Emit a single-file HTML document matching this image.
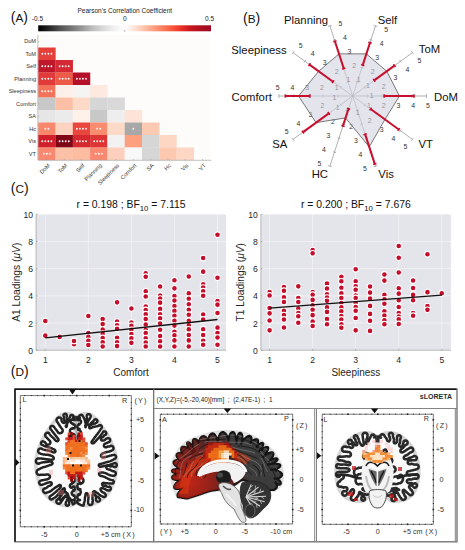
<!DOCTYPE html>
<html><head><meta charset="utf-8"><style>
html,body{margin:0;padding:0;background:#fff;}
body{width:465px;height:550px;overflow:hidden;}
svg{display:block;font-family:"Liberation Sans", sans-serif;}
</style></head><body>
<svg width="465" height="550" viewBox="0 0 465 550">
<rect width="465" height="550" fill="#fff"/>
<text x="10.8" y="22.3" font-size="14" fill="#111">(<tspan font-size="11.8">A</tspan>)</text>
<defs><linearGradient id="cb" x1="0" x2="1" y1="0" y2="0"><stop offset="0" stop-color="#000"/><stop offset="0.0625" stop-color="#252525"/><stop offset="0.125" stop-color="#525252"/><stop offset="0.1875" stop-color="#737373"/><stop offset="0.25" stop-color="#969696"/><stop offset="0.3125" stop-color="#bdbdbd"/><stop offset="0.375" stop-color="#d9d9d9"/><stop offset="0.4375" stop-color="#f0f0f0"/><stop offset="0.5" stop-color="#ffffff"/><stop offset="0.5625" stop-color="#fee0d2"/><stop offset="0.625" stop-color="#fcbba1"/><stop offset="0.6875" stop-color="#fc9272"/><stop offset="0.75" stop-color="#fb6a4a"/><stop offset="0.8125" stop-color="#ef3b2c"/><stop offset="0.875" stop-color="#cb181d"/><stop offset="0.9375" stop-color="#b01020"/><stop offset="1" stop-color="#9a0a22"/></linearGradient></defs>
<rect x="38.2" y="25.3" width="172.8" height="6.0" fill="url(#cb)"/>
<text x="124.8" y="13.3" font-size="6.5" text-anchor="middle" fill="#222">Pearson's Correlation Coefficient</text>
<text x="37.4" y="20.6" font-size="6.5" text-anchor="middle" fill="#222">-0.5</text>
<text x="124.8" y="20.6" font-size="6.5" text-anchor="middle" fill="#222">0</text>
<text x="209.5" y="20.6" font-size="6.5" text-anchor="middle" fill="#222">0.5</text>
<line x1="124.8" y1="31.6" x2="124.8" y2="30" stroke="#444" stroke-width="0.5"/>
<rect x="38.2" y="35.0" width="173.00" height="125.00" fill="#fefcfa"/>
<rect x="38.20" y="47.50" width="17.45" height="12.65" fill="#e5403a"/>
<rect x="38.20" y="60.00" width="17.45" height="12.65" fill="#bf172c"/>
<rect x="55.50" y="60.00" width="17.45" height="12.65" fill="#d52a35"/>
<rect x="38.20" y="72.50" width="17.45" height="12.65" fill="#e03a3a"/>
<rect x="55.50" y="72.50" width="17.45" height="12.65" fill="#ee5a48"/>
<rect x="72.80" y="72.50" width="17.45" height="12.65" fill="#b5102a"/>
<rect x="38.20" y="85.00" width="17.45" height="12.65" fill="#f3725a"/>
<rect x="55.50" y="85.00" width="17.45" height="12.65" fill="#fdf0ea"/>
<rect x="72.80" y="85.00" width="17.45" height="12.65" fill="#f6f3f3"/>
<rect x="90.10" y="85.00" width="17.45" height="12.65" fill="#fde9e0"/>
<rect x="38.20" y="97.50" width="17.45" height="12.65" fill="#c8c8c8"/>
<rect x="55.50" y="97.50" width="17.45" height="12.65" fill="#fcbfa6"/>
<rect x="72.80" y="97.50" width="17.45" height="12.65" fill="#fdd9c8"/>
<rect x="90.10" y="97.50" width="17.45" height="12.65" fill="#d6d6d6"/>
<rect x="107.40" y="97.50" width="17.45" height="12.65" fill="#d9d9d9"/>
<rect x="38.20" y="110.00" width="17.45" height="12.65" fill="#e6e6e6"/>
<rect x="55.50" y="110.00" width="17.45" height="12.65" fill="#ebebeb"/>
<rect x="72.80" y="110.00" width="17.45" height="12.65" fill="#fdf1ea"/>
<rect x="90.10" y="110.00" width="17.45" height="12.65" fill="#c8c8c8"/>
<rect x="107.40" y="110.00" width="17.45" height="12.65" fill="#eeeeee"/>
<rect x="124.70" y="110.00" width="17.45" height="12.65" fill="#fde3d8"/>
<rect x="38.20" y="122.50" width="17.45" height="12.65" fill="#f8876c"/>
<rect x="55.50" y="122.50" width="17.45" height="12.65" fill="#fdd2c0"/>
<rect x="72.80" y="122.50" width="17.45" height="12.65" fill="#e9473d"/>
<rect x="90.10" y="122.50" width="17.45" height="12.65" fill="#f98b6f"/>
<rect x="107.40" y="122.50" width="17.45" height="12.65" fill="#fdd9c8"/>
<rect x="124.70" y="122.50" width="17.45" height="12.65" fill="#a8a8a8"/>
<rect x="142.00" y="122.50" width="17.45" height="12.65" fill="#fcc9b2"/>
<rect x="38.20" y="135.00" width="17.45" height="12.65" fill="#d0202c"/>
<rect x="55.50" y="135.00" width="17.45" height="12.65" fill="#7f0616"/>
<rect x="72.80" y="135.00" width="17.45" height="12.65" fill="#d42a2f"/>
<rect x="90.10" y="135.00" width="17.45" height="12.65" fill="#dd3535"/>
<rect x="107.40" y="135.00" width="17.45" height="12.65" fill="#f2f2f2"/>
<rect x="124.70" y="135.00" width="17.45" height="12.65" fill="#fca080"/>
<rect x="142.00" y="135.00" width="17.45" height="12.65" fill="#d6d6d6"/>
<rect x="159.30" y="135.00" width="17.45" height="12.65" fill="#fdd6c4"/>
<rect x="38.20" y="147.50" width="17.45" height="12.65" fill="#f98870"/>
<rect x="55.50" y="147.50" width="17.45" height="12.65" fill="#fcc0a6"/>
<rect x="72.80" y="147.50" width="17.45" height="12.65" fill="#fcbca2"/>
<rect x="90.10" y="147.50" width="17.45" height="12.65" fill="#f98870"/>
<rect x="107.40" y="147.50" width="17.45" height="12.65" fill="#fcd0bc"/>
<rect x="124.70" y="147.50" width="17.45" height="12.65" fill="#f8f8f8"/>
<rect x="142.00" y="147.50" width="17.45" height="12.65" fill="#d6d6d6"/>
<rect x="159.30" y="147.50" width="17.45" height="12.65" fill="#fcc8b0"/>
<rect x="176.60" y="147.50" width="17.45" height="12.65" fill="#fdd6c4"/>
<circle cx="42.28" cy="53.75" r="0.9" fill="#fff"/>
<circle cx="45.33" cy="53.75" r="0.9" fill="#fff"/>
<circle cx="48.38" cy="53.75" r="0.9" fill="#fff"/>
<circle cx="51.42" cy="53.75" r="0.9" fill="#fff"/>
<circle cx="42.28" cy="66.25" r="0.9" fill="#fff"/>
<circle cx="45.33" cy="66.25" r="0.9" fill="#fff"/>
<circle cx="48.38" cy="66.25" r="0.9" fill="#fff"/>
<circle cx="51.42" cy="66.25" r="0.9" fill="#fff"/>
<circle cx="59.58" cy="66.25" r="0.9" fill="#fff"/>
<circle cx="62.63" cy="66.25" r="0.9" fill="#fff"/>
<circle cx="65.68" cy="66.25" r="0.9" fill="#fff"/>
<circle cx="68.73" cy="66.25" r="0.9" fill="#fff"/>
<circle cx="42.28" cy="78.75" r="0.9" fill="#fff"/>
<circle cx="45.33" cy="78.75" r="0.9" fill="#fff"/>
<circle cx="48.38" cy="78.75" r="0.9" fill="#fff"/>
<circle cx="51.42" cy="78.75" r="0.9" fill="#fff"/>
<circle cx="59.58" cy="78.75" r="0.9" fill="#fff"/>
<circle cx="62.63" cy="78.75" r="0.9" fill="#fff"/>
<circle cx="65.68" cy="78.75" r="0.9" fill="#fff"/>
<circle cx="68.73" cy="78.75" r="0.9" fill="#fff"/>
<circle cx="76.88" cy="78.75" r="0.9" fill="#fff"/>
<circle cx="79.92" cy="78.75" r="0.9" fill="#fff"/>
<circle cx="82.98" cy="78.75" r="0.9" fill="#fff"/>
<circle cx="86.03" cy="78.75" r="0.9" fill="#fff"/>
<circle cx="42.28" cy="91.25" r="0.9" fill="#fff"/>
<circle cx="45.33" cy="91.25" r="0.9" fill="#fff"/>
<circle cx="48.38" cy="91.25" r="0.9" fill="#fff"/>
<circle cx="51.42" cy="91.25" r="0.9" fill="#fff"/>
<circle cx="45.33" cy="128.75" r="0.9" fill="#fff"/>
<circle cx="48.38" cy="128.75" r="0.9" fill="#fff"/>
<circle cx="76.88" cy="128.75" r="0.9" fill="#fff"/>
<circle cx="79.92" cy="128.75" r="0.9" fill="#fff"/>
<circle cx="82.98" cy="128.75" r="0.9" fill="#fff"/>
<circle cx="86.03" cy="128.75" r="0.9" fill="#fff"/>
<circle cx="97.22" cy="128.75" r="0.9" fill="#fff"/>
<circle cx="100.28" cy="128.75" r="0.9" fill="#fff"/>
<circle cx="133.35" cy="128.75" r="0.9" fill="#fff"/>
<circle cx="42.28" cy="141.25" r="0.9" fill="#fff"/>
<circle cx="45.33" cy="141.25" r="0.9" fill="#fff"/>
<circle cx="48.38" cy="141.25" r="0.9" fill="#fff"/>
<circle cx="51.42" cy="141.25" r="0.9" fill="#fff"/>
<circle cx="59.58" cy="141.25" r="0.9" fill="#fff"/>
<circle cx="62.63" cy="141.25" r="0.9" fill="#fff"/>
<circle cx="65.68" cy="141.25" r="0.9" fill="#fff"/>
<circle cx="68.73" cy="141.25" r="0.9" fill="#fff"/>
<circle cx="76.88" cy="141.25" r="0.9" fill="#fff"/>
<circle cx="79.92" cy="141.25" r="0.9" fill="#fff"/>
<circle cx="82.98" cy="141.25" r="0.9" fill="#fff"/>
<circle cx="86.03" cy="141.25" r="0.9" fill="#fff"/>
<circle cx="94.17" cy="141.25" r="0.9" fill="#fff"/>
<circle cx="97.22" cy="141.25" r="0.9" fill="#fff"/>
<circle cx="100.28" cy="141.25" r="0.9" fill="#fff"/>
<circle cx="103.33" cy="141.25" r="0.9" fill="#fff"/>
<circle cx="43.80" cy="153.75" r="0.9" fill="#fff"/>
<circle cx="46.85" cy="153.75" r="0.9" fill="#fff"/>
<circle cx="49.90" cy="153.75" r="0.9" fill="#fff"/>
<circle cx="95.70" cy="153.75" r="0.9" fill="#fff"/>
<circle cx="98.75" cy="153.75" r="0.9" fill="#fff"/>
<circle cx="101.80" cy="153.75" r="0.9" fill="#fff"/>
<line x1="37.800000000000004" y1="35.0" x2="37.800000000000004" y2="160.0" stroke="#999" stroke-width="0.6"/>
<line x1="38.2" y1="160.3" x2="211.2" y2="160.3" stroke="#999" stroke-width="0.6"/>
<text x="36" y="43.25" font-size="5.6" text-anchor="end" fill="#333">DoM</text>
<line x1="37.800000000000004" y1="41.25" x2="39.2" y2="41.25" stroke="#999" stroke-width="0.5"/>
<text x="36" y="55.75" font-size="5.6" text-anchor="end" fill="#333">ToM</text>
<line x1="37.800000000000004" y1="53.75" x2="39.2" y2="53.75" stroke="#999" stroke-width="0.5"/>
<text x="36" y="68.25" font-size="5.6" text-anchor="end" fill="#333">Self</text>
<line x1="37.800000000000004" y1="66.25" x2="39.2" y2="66.25" stroke="#999" stroke-width="0.5"/>
<text x="36" y="80.75" font-size="5.6" text-anchor="end" fill="#333">Planning</text>
<line x1="37.800000000000004" y1="78.75" x2="39.2" y2="78.75" stroke="#999" stroke-width="0.5"/>
<text x="36" y="93.25" font-size="5.6" text-anchor="end" fill="#333">Sleepiness</text>
<line x1="37.800000000000004" y1="91.25" x2="39.2" y2="91.25" stroke="#999" stroke-width="0.5"/>
<text x="36" y="105.75" font-size="5.6" text-anchor="end" fill="#333">Comfort</text>
<line x1="37.800000000000004" y1="103.75" x2="39.2" y2="103.75" stroke="#999" stroke-width="0.5"/>
<text x="36" y="118.25" font-size="5.6" text-anchor="end" fill="#333">SA</text>
<line x1="37.800000000000004" y1="116.25" x2="39.2" y2="116.25" stroke="#999" stroke-width="0.5"/>
<text x="36" y="130.75" font-size="5.6" text-anchor="end" fill="#333">Hc</text>
<line x1="37.800000000000004" y1="128.75" x2="39.2" y2="128.75" stroke="#999" stroke-width="0.5"/>
<text x="36" y="143.25" font-size="5.6" text-anchor="end" fill="#333">Vis</text>
<line x1="37.800000000000004" y1="141.25" x2="39.2" y2="141.25" stroke="#999" stroke-width="0.5"/>
<text x="36" y="155.75" font-size="5.6" text-anchor="end" fill="#333">VT</text>
<line x1="37.800000000000004" y1="153.75" x2="39.2" y2="153.75" stroke="#999" stroke-width="0.5"/>
<line x1="46.85" y1="159.0" x2="46.85" y2="160.3" stroke="#999" stroke-width="0.5"/>
<text transform="translate(50.35,165.90) rotate(-45)" font-size="5.6" text-anchor="end" fill="#333">DoM</text>
<line x1="64.15" y1="159.0" x2="64.15" y2="160.3" stroke="#999" stroke-width="0.5"/>
<text transform="translate(67.65,165.90) rotate(-45)" font-size="5.6" text-anchor="end" fill="#333">ToM</text>
<line x1="81.45" y1="159.0" x2="81.45" y2="160.3" stroke="#999" stroke-width="0.5"/>
<text transform="translate(84.95,165.90) rotate(-45)" font-size="5.6" text-anchor="end" fill="#333">Self</text>
<line x1="98.75" y1="159.0" x2="98.75" y2="160.3" stroke="#999" stroke-width="0.5"/>
<text transform="translate(102.25,165.90) rotate(-45)" font-size="5.6" text-anchor="end" fill="#333">Planning</text>
<line x1="116.05" y1="159.0" x2="116.05" y2="160.3" stroke="#999" stroke-width="0.5"/>
<text transform="translate(119.55,165.90) rotate(-45)" font-size="5.6" text-anchor="end" fill="#333">Sleepiness</text>
<line x1="133.35" y1="159.0" x2="133.35" y2="160.3" stroke="#999" stroke-width="0.5"/>
<text transform="translate(136.85,165.90) rotate(-45)" font-size="5.6" text-anchor="end" fill="#333">Comfort</text>
<line x1="150.65" y1="159.0" x2="150.65" y2="160.3" stroke="#999" stroke-width="0.5"/>
<text transform="translate(154.15,165.90) rotate(-45)" font-size="5.6" text-anchor="end" fill="#333">SA</text>
<line x1="167.95" y1="159.0" x2="167.95" y2="160.3" stroke="#999" stroke-width="0.5"/>
<text transform="translate(171.45,165.90) rotate(-45)" font-size="5.6" text-anchor="end" fill="#333">Hc</text>
<line x1="185.25" y1="159.0" x2="185.25" y2="160.3" stroke="#999" stroke-width="0.5"/>
<text transform="translate(188.75,165.90) rotate(-45)" font-size="5.6" text-anchor="end" fill="#333">Vis</text>
<line x1="202.55" y1="159.0" x2="202.55" y2="160.3" stroke="#999" stroke-width="0.5"/>
<text transform="translate(206.05,165.90) rotate(-45)" font-size="5.6" text-anchor="end" fill="#333">VT</text>
<text x="243.0" y="22.6" font-size="14" fill="#111">(<tspan font-size="11.8">B</tspan>)</text>
<line x1="352.7" y1="96.0" x2="426.50" y2="96.00" stroke="#9a9a9a" stroke-width="0.8"/>
<line x1="367.46" y1="94.40" x2="367.46" y2="97.60" stroke="#9a9a9a" stroke-width="0.7"/>
<text x="368.96" y="107.90" font-size="6.9" text-anchor="middle" fill="#333">1</text>
<line x1="382.22" y1="94.40" x2="382.22" y2="97.60" stroke="#9a9a9a" stroke-width="0.7"/>
<text x="383.72" y="107.90" font-size="6.9" text-anchor="middle" fill="#333">2</text>
<line x1="396.98" y1="94.40" x2="396.98" y2="97.60" stroke="#9a9a9a" stroke-width="0.7"/>
<text x="398.48" y="107.90" font-size="6.9" text-anchor="middle" fill="#333">3</text>
<line x1="411.74" y1="94.40" x2="411.74" y2="97.60" stroke="#9a9a9a" stroke-width="0.7"/>
<text x="413.24" y="107.90" font-size="6.9" text-anchor="middle" fill="#333">4</text>
<line x1="426.50" y1="94.00" x2="426.50" y2="98.00" stroke="#9a9a9a" stroke-width="0.7"/>
<text x="428.00" y="107.90" font-size="6.9" text-anchor="middle" fill="#333">5</text>
<line x1="352.7" y1="96.0" x2="412.41" y2="52.62" stroke="#9a9a9a" stroke-width="0.8"/>
<line x1="363.70" y1="86.03" x2="365.58" y2="88.62" stroke="#9a9a9a" stroke-width="0.7"/>
<text x="371.65" y="97.84" font-size="6.9" text-anchor="middle" fill="#333">1</text>
<line x1="375.64" y1="77.35" x2="377.52" y2="79.94" stroke="#9a9a9a" stroke-width="0.7"/>
<text x="383.59" y="89.16" font-size="6.9" text-anchor="middle" fill="#333">2</text>
<line x1="387.58" y1="68.68" x2="389.46" y2="71.27" stroke="#9a9a9a" stroke-width="0.7"/>
<text x="395.53" y="80.48" font-size="6.9" text-anchor="middle" fill="#333">3</text>
<line x1="399.52" y1="60.00" x2="401.40" y2="62.59" stroke="#9a9a9a" stroke-width="0.7"/>
<text x="407.47" y="71.81" font-size="6.9" text-anchor="middle" fill="#333">4</text>
<line x1="411.23" y1="51.00" x2="413.58" y2="54.24" stroke="#9a9a9a" stroke-width="0.7"/>
<text x="419.41" y="63.13" font-size="6.9" text-anchor="middle" fill="#333">5</text>
<line x1="352.7" y1="96.0" x2="375.51" y2="25.81" stroke="#9a9a9a" stroke-width="0.8"/>
<line x1="355.74" y1="81.47" x2="358.78" y2="82.46" stroke="#9a9a9a" stroke-width="0.7"/>
<text x="368.02" y="87.92" font-size="6.9" text-anchor="middle" fill="#333">1</text>
<line x1="360.30" y1="67.43" x2="363.34" y2="68.42" stroke="#9a9a9a" stroke-width="0.7"/>
<text x="372.58" y="73.88" font-size="6.9" text-anchor="middle" fill="#333">2</text>
<line x1="364.86" y1="53.39" x2="367.90" y2="54.38" stroke="#9a9a9a" stroke-width="0.7"/>
<text x="377.14" y="59.84" font-size="6.9" text-anchor="middle" fill="#333">3</text>
<line x1="369.42" y1="39.36" x2="372.47" y2="40.34" stroke="#9a9a9a" stroke-width="0.7"/>
<text x="381.70" y="45.80" font-size="6.9" text-anchor="middle" fill="#333">4</text>
<line x1="373.60" y1="25.19" x2="377.41" y2="26.43" stroke="#9a9a9a" stroke-width="0.7"/>
<text x="386.26" y="31.77" font-size="6.9" text-anchor="middle" fill="#333">5</text>
<line x1="352.7" y1="96.0" x2="329.89" y2="25.81" stroke="#9a9a9a" stroke-width="0.8"/>
<line x1="346.62" y1="82.46" x2="349.66" y2="81.47" stroke="#9a9a9a" stroke-width="0.7"/>
<text x="358.66" y="82.22" font-size="6.9" text-anchor="middle" fill="#333">1</text>
<line x1="342.06" y1="68.42" x2="345.10" y2="67.43" stroke="#9a9a9a" stroke-width="0.7"/>
<text x="354.10" y="68.18" font-size="6.9" text-anchor="middle" fill="#333">2</text>
<line x1="337.50" y1="54.38" x2="340.54" y2="53.39" stroke="#9a9a9a" stroke-width="0.7"/>
<text x="349.54" y="54.15" font-size="6.9" text-anchor="middle" fill="#333">3</text>
<line x1="332.93" y1="40.34" x2="335.98" y2="39.36" stroke="#9a9a9a" stroke-width="0.7"/>
<text x="344.98" y="40.11" font-size="6.9" text-anchor="middle" fill="#333">4</text>
<line x1="327.99" y1="26.43" x2="331.80" y2="25.19" stroke="#9a9a9a" stroke-width="0.7"/>
<text x="340.42" y="26.07" font-size="6.9" text-anchor="middle" fill="#333">5</text>
<line x1="352.7" y1="96.0" x2="292.99" y2="52.62" stroke="#9a9a9a" stroke-width="0.8"/>
<line x1="339.82" y1="88.62" x2="341.70" y2="86.03" stroke="#9a9a9a" stroke-width="0.7"/>
<text x="348.50" y="82.35" font-size="6.9" text-anchor="middle" fill="#333">1</text>
<line x1="327.88" y1="79.94" x2="329.76" y2="77.35" stroke="#9a9a9a" stroke-width="0.7"/>
<text x="336.56" y="73.67" font-size="6.9" text-anchor="middle" fill="#333">2</text>
<line x1="315.94" y1="71.27" x2="317.82" y2="68.68" stroke="#9a9a9a" stroke-width="0.7"/>
<text x="324.62" y="65.00" font-size="6.9" text-anchor="middle" fill="#333">3</text>
<line x1="304.00" y1="62.59" x2="305.88" y2="60.00" stroke="#9a9a9a" stroke-width="0.7"/>
<text x="312.68" y="56.32" font-size="6.9" text-anchor="middle" fill="#333">4</text>
<line x1="291.82" y1="54.24" x2="294.17" y2="51.00" stroke="#9a9a9a" stroke-width="0.7"/>
<text x="300.74" y="47.65" font-size="6.9" text-anchor="middle" fill="#333">5</text>
<line x1="352.7" y1="96.0" x2="278.90" y2="96.00" stroke="#9a9a9a" stroke-width="0.8"/>
<line x1="337.94" y1="97.60" x2="337.94" y2="94.40" stroke="#9a9a9a" stroke-width="0.7"/>
<text x="336.68" y="89.80" font-size="6.9" text-anchor="middle" fill="#333">1</text>
<line x1="323.18" y1="97.60" x2="323.18" y2="94.40" stroke="#9a9a9a" stroke-width="0.7"/>
<text x="321.92" y="89.80" font-size="6.9" text-anchor="middle" fill="#333">2</text>
<line x1="308.42" y1="97.60" x2="308.42" y2="94.40" stroke="#9a9a9a" stroke-width="0.7"/>
<text x="307.16" y="89.80" font-size="6.9" text-anchor="middle" fill="#333">3</text>
<line x1="293.66" y1="97.60" x2="293.66" y2="94.40" stroke="#9a9a9a" stroke-width="0.7"/>
<text x="292.40" y="89.80" font-size="6.9" text-anchor="middle" fill="#333">4</text>
<line x1="278.90" y1="98.00" x2="278.90" y2="94.00" stroke="#9a9a9a" stroke-width="0.7"/>
<text x="277.64" y="89.80" font-size="6.9" text-anchor="middle" fill="#333">5</text>
<line x1="352.7" y1="96.0" x2="292.99" y2="139.38" stroke="#9a9a9a" stroke-width="0.8"/>
<line x1="341.70" y1="105.97" x2="339.82" y2="103.38" stroke="#9a9a9a" stroke-width="0.7"/>
<text x="334.31" y="99.77" font-size="6.9" text-anchor="middle" fill="#333">1</text>
<line x1="329.76" y1="114.65" x2="327.88" y2="112.06" stroke="#9a9a9a" stroke-width="0.7"/>
<text x="322.37" y="108.44" font-size="6.9" text-anchor="middle" fill="#333">2</text>
<line x1="317.82" y1="123.32" x2="315.94" y2="120.73" stroke="#9a9a9a" stroke-width="0.7"/>
<text x="310.43" y="117.12" font-size="6.9" text-anchor="middle" fill="#333">3</text>
<line x1="305.88" y1="132.00" x2="304.00" y2="129.41" stroke="#9a9a9a" stroke-width="0.7"/>
<text x="298.49" y="125.80" font-size="6.9" text-anchor="middle" fill="#333">4</text>
<line x1="294.17" y1="141.00" x2="291.82" y2="137.76" stroke="#9a9a9a" stroke-width="0.7"/>
<text x="286.55" y="134.47" font-size="6.9" text-anchor="middle" fill="#333">5</text>
<line x1="352.7" y1="96.0" x2="329.89" y2="166.19" stroke="#9a9a9a" stroke-width="0.8"/>
<line x1="349.66" y1="110.53" x2="346.62" y2="109.54" stroke="#9a9a9a" stroke-width="0.7"/>
<text x="337.57" y="109.78" font-size="6.9" text-anchor="middle" fill="#333">1</text>
<line x1="345.10" y1="124.57" x2="342.06" y2="123.58" stroke="#9a9a9a" stroke-width="0.7"/>
<text x="333.01" y="123.82" font-size="6.9" text-anchor="middle" fill="#333">2</text>
<line x1="340.54" y1="138.61" x2="337.50" y2="137.62" stroke="#9a9a9a" stroke-width="0.7"/>
<text x="328.45" y="137.85" font-size="6.9" text-anchor="middle" fill="#333">3</text>
<line x1="335.98" y1="152.64" x2="332.93" y2="151.66" stroke="#9a9a9a" stroke-width="0.7"/>
<text x="323.89" y="151.89" font-size="6.9" text-anchor="middle" fill="#333">4</text>
<line x1="331.80" y1="166.81" x2="327.99" y2="165.57" stroke="#9a9a9a" stroke-width="0.7"/>
<text x="319.33" y="165.93" font-size="6.9" text-anchor="middle" fill="#333">5</text>
<line x1="352.7" y1="96.0" x2="375.51" y2="166.19" stroke="#9a9a9a" stroke-width="0.8"/>
<line x1="358.78" y1="109.54" x2="355.74" y2="110.53" stroke="#9a9a9a" stroke-width="0.7"/>
<text x="346.72" y="114.88" font-size="6.9" text-anchor="middle" fill="#333">1</text>
<line x1="363.34" y1="123.58" x2="360.30" y2="124.57" stroke="#9a9a9a" stroke-width="0.7"/>
<text x="351.28" y="128.92" font-size="6.9" text-anchor="middle" fill="#333">2</text>
<line x1="367.90" y1="137.62" x2="364.86" y2="138.61" stroke="#9a9a9a" stroke-width="0.7"/>
<text x="355.84" y="142.96" font-size="6.9" text-anchor="middle" fill="#333">3</text>
<line x1="372.47" y1="151.66" x2="369.42" y2="152.64" stroke="#9a9a9a" stroke-width="0.7"/>
<text x="360.40" y="156.99" font-size="6.9" text-anchor="middle" fill="#333">4</text>
<line x1="377.41" y1="165.57" x2="373.60" y2="166.81" stroke="#9a9a9a" stroke-width="0.7"/>
<text x="364.96" y="171.03" font-size="6.9" text-anchor="middle" fill="#333">5</text>
<line x1="352.7" y1="96.0" x2="412.41" y2="139.38" stroke="#9a9a9a" stroke-width="0.8"/>
<line x1="365.58" y1="103.38" x2="363.70" y2="105.97" stroke="#9a9a9a" stroke-width="0.7"/>
<text x="357.68" y="114.58" font-size="6.9" text-anchor="middle" fill="#333">1</text>
<line x1="377.52" y1="112.06" x2="375.64" y2="114.65" stroke="#9a9a9a" stroke-width="0.7"/>
<text x="369.62" y="123.25" font-size="6.9" text-anchor="middle" fill="#333">2</text>
<line x1="389.46" y1="120.73" x2="387.58" y2="123.32" stroke="#9a9a9a" stroke-width="0.7"/>
<text x="381.56" y="131.93" font-size="6.9" text-anchor="middle" fill="#333">3</text>
<line x1="401.40" y1="129.41" x2="399.52" y2="132.00" stroke="#9a9a9a" stroke-width="0.7"/>
<text x="393.50" y="140.61" font-size="6.9" text-anchor="middle" fill="#333">4</text>
<line x1="413.58" y1="137.76" x2="411.23" y2="141.00" stroke="#9a9a9a" stroke-width="0.7"/>
<text x="405.45" y="149.28" font-size="6.9" text-anchor="middle" fill="#333">5</text>
<polygon points="399.49,96.00 386.73,71.27 366.38,53.89 339.02,53.89 318.67,71.27 298.53,96.00 316.04,122.63 345.58,117.90 369.26,146.96 384.94,119.42" fill="#d2d2e0" fill-opacity="0.6" stroke="#6a6a6a" stroke-width="0.9"/>
<line x1="384.14" y1="96.00" x2="413.95" y2="96.00" stroke="#c8102e" stroke-width="2"/>
<line x1="384.14" y1="94.30" x2="384.14" y2="97.70" stroke="#c8102e" stroke-width="1.6"/>
<line x1="413.95" y1="94.30" x2="413.95" y2="97.70" stroke="#c8102e" stroke-width="1.6"/>
<line x1="374.19" y1="80.38" x2="394.49" y2="65.64" stroke="#c8102e" stroke-width="2"/>
<line x1="373.19" y1="79.01" x2="375.19" y2="81.76" stroke="#c8102e" stroke-width="1.6"/>
<line x1="393.49" y1="64.26" x2="395.49" y2="67.01" stroke="#c8102e" stroke-width="1.6"/>
<line x1="362.73" y1="65.12" x2="370.03" y2="42.66" stroke="#c8102e" stroke-width="2"/>
<line x1="361.12" y1="64.59" x2="364.35" y2="65.64" stroke="#c8102e" stroke-width="1.6"/>
<line x1="368.42" y1="42.13" x2="371.65" y2="43.18" stroke="#c8102e" stroke-width="1.6"/>
<line x1="343.81" y1="68.63" x2="334.91" y2="41.25" stroke="#c8102e" stroke-width="2"/>
<line x1="342.19" y1="69.15" x2="345.42" y2="68.10" stroke="#c8102e" stroke-width="1.6"/>
<line x1="333.29" y1="41.78" x2="336.53" y2="40.73" stroke="#c8102e" stroke-width="1.6"/>
<line x1="333.12" y1="81.77" x2="309.47" y2="64.59" stroke="#c8102e" stroke-width="2"/>
<line x1="332.12" y1="83.15" x2="334.12" y2="80.40" stroke="#c8102e" stroke-width="1.6"/>
<line x1="308.47" y1="65.97" x2="310.47" y2="63.22" stroke="#c8102e" stroke-width="1.6"/>
<line x1="309.90" y1="96.00" x2="285.39" y2="96.00" stroke="#c8102e" stroke-width="2"/>
<line x1="309.90" y1="97.70" x2="309.90" y2="94.30" stroke="#c8102e" stroke-width="1.6"/>
<line x1="285.39" y1="97.70" x2="285.39" y2="94.30" stroke="#c8102e" stroke-width="1.6"/>
<line x1="328.82" y1="113.35" x2="303.03" y2="132.09" stroke="#c8102e" stroke-width="2"/>
<line x1="329.82" y1="114.73" x2="327.82" y2="111.98" stroke="#c8102e" stroke-width="1.6"/>
<line x1="304.02" y1="133.47" x2="302.03" y2="130.72" stroke="#c8102e" stroke-width="1.6"/>
<line x1="348.55" y1="108.77" x2="342.98" y2="125.90" stroke="#c8102e" stroke-width="2"/>
<line x1="350.17" y1="109.30" x2="346.93" y2="108.25" stroke="#c8102e" stroke-width="1.6"/>
<line x1="344.60" y1="126.43" x2="341.37" y2="125.37" stroke="#c8102e" stroke-width="1.6"/>
<line x1="365.11" y1="134.18" x2="374.82" y2="164.08" stroke="#c8102e" stroke-width="2"/>
<line x1="366.72" y1="133.66" x2="363.49" y2="134.71" stroke="#c8102e" stroke-width="1.6"/>
<line x1="376.44" y1="163.56" x2="373.20" y2="164.61" stroke="#c8102e" stroke-width="1.6"/>
<line x1="370.61" y1="109.01" x2="398.79" y2="129.49" stroke="#c8102e" stroke-width="2"/>
<line x1="371.61" y1="107.64" x2="369.61" y2="110.39" stroke="#c8102e" stroke-width="1.6"/>
<line x1="399.79" y1="128.11" x2="397.79" y2="130.86" stroke="#c8102e" stroke-width="1.6"/>
<text x="434" y="100.50" font-size="11.3" text-anchor="start" fill="#111">DoM</text>
<text x="418.8" y="52.90" font-size="11.3" text-anchor="start" fill="#111">ToM</text>
<text x="377.7" y="23.80" font-size="11.3" text-anchor="start" fill="#111">Self</text>
<text x="328" y="24.30" font-size="11.3" text-anchor="end" fill="#111">Planning</text>
<text x="286.6" y="53.50" font-size="11.3" text-anchor="end" fill="#111">Sleepiness</text>
<text x="271.8" y="100.60" font-size="11.3" text-anchor="end" fill="#111">Comfort</text>
<text x="287.3" y="148.40" font-size="11.3" text-anchor="end" fill="#111">SA</text>
<text x="328" y="177.60" font-size="11.3" text-anchor="end" fill="#111">HC</text>
<text x="378.3" y="177.60" font-size="11.3" text-anchor="start" fill="#111">Vis</text>
<text x="418.5" y="147.80" font-size="11.3" text-anchor="start" fill="#111">VT</text>
<text x="10.8" y="192.6" font-size="14" fill="#111">(<tspan font-size="11.8">C</tspan>)</text>
<rect x="36.1" y="214.3" width="189.90" height="135.90" fill="#e4e4eb"/>
<line x1="45.30" y1="214.3" x2="45.30" y2="350.2" stroke="#f6f6f8" stroke-width="0.7"/>
<line x1="88.35" y1="214.3" x2="88.35" y2="350.2" stroke="#f6f6f8" stroke-width="0.7"/>
<line x1="131.40" y1="214.3" x2="131.40" y2="350.2" stroke="#f6f6f8" stroke-width="0.7"/>
<line x1="174.45" y1="214.3" x2="174.45" y2="350.2" stroke="#f6f6f8" stroke-width="0.7"/>
<line x1="217.50" y1="214.3" x2="217.50" y2="350.2" stroke="#f6f6f8" stroke-width="0.7"/>
<line x1="36.1" y1="350.20" x2="226.0" y2="350.20" stroke="#f6f6f8" stroke-width="0.7"/>
<line x1="36.1" y1="323.02" x2="226.0" y2="323.02" stroke="#f6f6f8" stroke-width="0.7"/>
<line x1="36.1" y1="295.84" x2="226.0" y2="295.84" stroke="#f6f6f8" stroke-width="0.7"/>
<line x1="36.1" y1="268.66" x2="226.0" y2="268.66" stroke="#f6f6f8" stroke-width="0.7"/>
<line x1="36.1" y1="241.48" x2="226.0" y2="241.48" stroke="#f6f6f8" stroke-width="0.7"/>
<line x1="36.1" y1="214.30" x2="226.0" y2="214.30" stroke="#f6f6f8" stroke-width="0.7"/>
<line x1="36.1" y1="214.3" x2="36.1" y2="350.2" stroke="#a6a6a6" stroke-width="0.8"/>
<line x1="36.1" y1="350.2" x2="226.0" y2="350.2" stroke="#a6a6a6" stroke-width="0.8"/>
<line x1="36.1" y1="350.20" x2="37.6" y2="350.20" stroke="#888" stroke-width="0.6"/>
<text x="33.10" y="353.80" font-size="8.6" text-anchor="end" fill="#262626">0</text>
<line x1="36.1" y1="323.02" x2="37.6" y2="323.02" stroke="#888" stroke-width="0.6"/>
<text x="33.10" y="326.62" font-size="8.6" text-anchor="end" fill="#262626">2</text>
<line x1="36.1" y1="295.84" x2="37.6" y2="295.84" stroke="#888" stroke-width="0.6"/>
<text x="33.10" y="299.44" font-size="8.6" text-anchor="end" fill="#262626">4</text>
<line x1="36.1" y1="268.66" x2="37.6" y2="268.66" stroke="#888" stroke-width="0.6"/>
<text x="33.10" y="272.26" font-size="8.6" text-anchor="end" fill="#262626">6</text>
<line x1="36.1" y1="241.48" x2="37.6" y2="241.48" stroke="#888" stroke-width="0.6"/>
<text x="33.10" y="245.08" font-size="8.6" text-anchor="end" fill="#262626">8</text>
<line x1="36.1" y1="214.30" x2="37.6" y2="214.30" stroke="#888" stroke-width="0.6"/>
<text x="33.10" y="217.90" font-size="8.6" text-anchor="end" fill="#262626">10</text>
<line x1="45.30" y1="350.2" x2="45.30" y2="348.7" stroke="#888" stroke-width="0.6"/>
<text x="45.30" y="362.9" font-size="8.6" text-anchor="middle" fill="#262626">1</text>
<line x1="88.35" y1="350.2" x2="88.35" y2="348.7" stroke="#888" stroke-width="0.6"/>
<text x="88.35" y="362.9" font-size="8.6" text-anchor="middle" fill="#262626">2</text>
<line x1="131.40" y1="350.2" x2="131.40" y2="348.7" stroke="#888" stroke-width="0.6"/>
<text x="131.40" y="362.9" font-size="8.6" text-anchor="middle" fill="#262626">3</text>
<line x1="174.45" y1="350.2" x2="174.45" y2="348.7" stroke="#888" stroke-width="0.6"/>
<text x="174.45" y="362.9" font-size="8.6" text-anchor="middle" fill="#262626">4</text>
<line x1="217.50" y1="350.2" x2="217.50" y2="348.7" stroke="#888" stroke-width="0.6"/>
<text x="217.50" y="362.9" font-size="8.6" text-anchor="middle" fill="#262626">5</text>
<circle cx="45.30" cy="320.98" r="2.85" fill="#c40f2c" stroke="#fff" stroke-width="1.1"/>
<circle cx="45.30" cy="335.66" r="2.85" fill="#c40f2c" stroke="#fff" stroke-width="1.1"/>
<circle cx="59.64" cy="336.88" r="2.85" fill="#c40f2c" stroke="#fff" stroke-width="1.1"/>
<circle cx="74.01" cy="344.22" r="2.85" fill="#c40f2c" stroke="#fff" stroke-width="1.1"/>
<circle cx="74.01" cy="340.96" r="2.85" fill="#c40f2c" stroke="#fff" stroke-width="1.1"/>
<circle cx="88.35" cy="315.95" r="2.85" fill="#c40f2c" stroke="#fff" stroke-width="1.1"/>
<circle cx="88.35" cy="332.94" r="2.85" fill="#c40f2c" stroke="#fff" stroke-width="1.1"/>
<circle cx="88.35" cy="336.88" r="2.85" fill="#c40f2c" stroke="#fff" stroke-width="1.1"/>
<circle cx="88.35" cy="340.82" r="2.85" fill="#c40f2c" stroke="#fff" stroke-width="1.1"/>
<circle cx="88.35" cy="345.04" r="2.85" fill="#c40f2c" stroke="#fff" stroke-width="1.1"/>
<circle cx="102.69" cy="319.08" r="2.85" fill="#c40f2c" stroke="#fff" stroke-width="1.1"/>
<circle cx="102.69" cy="324.11" r="2.85" fill="#c40f2c" stroke="#fff" stroke-width="1.1"/>
<circle cx="102.69" cy="329.54" r="2.85" fill="#c40f2c" stroke="#fff" stroke-width="1.1"/>
<circle cx="102.69" cy="333.76" r="2.85" fill="#c40f2c" stroke="#fff" stroke-width="1.1"/>
<circle cx="102.69" cy="337.97" r="2.85" fill="#c40f2c" stroke="#fff" stroke-width="1.1"/>
<circle cx="102.69" cy="342.32" r="2.85" fill="#c40f2c" stroke="#fff" stroke-width="1.1"/>
<circle cx="102.69" cy="346.53" r="2.85" fill="#c40f2c" stroke="#fff" stroke-width="1.1"/>
<circle cx="117.06" cy="302.36" r="2.85" fill="#c40f2c" stroke="#fff" stroke-width="1.1"/>
<circle cx="117.06" cy="321.53" r="2.85" fill="#c40f2c" stroke="#fff" stroke-width="1.1"/>
<circle cx="117.06" cy="325.19" r="2.85" fill="#c40f2c" stroke="#fff" stroke-width="1.1"/>
<circle cx="117.06" cy="328.73" r="2.85" fill="#c40f2c" stroke="#fff" stroke-width="1.1"/>
<circle cx="117.06" cy="337.83" r="2.85" fill="#c40f2c" stroke="#fff" stroke-width="1.1"/>
<circle cx="117.06" cy="342.32" r="2.85" fill="#c40f2c" stroke="#fff" stroke-width="1.1"/>
<circle cx="117.06" cy="346.12" r="2.85" fill="#c40f2c" stroke="#fff" stroke-width="1.1"/>
<circle cx="131.40" cy="308.48" r="2.85" fill="#c40f2c" stroke="#fff" stroke-width="1.1"/>
<circle cx="131.40" cy="322.48" r="2.85" fill="#c40f2c" stroke="#fff" stroke-width="1.1"/>
<circle cx="131.40" cy="325.74" r="2.85" fill="#c40f2c" stroke="#fff" stroke-width="1.1"/>
<circle cx="131.40" cy="329.81" r="2.85" fill="#c40f2c" stroke="#fff" stroke-width="1.1"/>
<circle cx="131.40" cy="334.03" r="2.85" fill="#c40f2c" stroke="#fff" stroke-width="1.1"/>
<circle cx="131.40" cy="338.24" r="2.85" fill="#c40f2c" stroke="#fff" stroke-width="1.1"/>
<circle cx="131.40" cy="342.86" r="2.85" fill="#c40f2c" stroke="#fff" stroke-width="1.1"/>
<circle cx="145.74" cy="273.42" r="2.85" fill="#c40f2c" stroke="#fff" stroke-width="1.1"/>
<circle cx="145.74" cy="276.68" r="2.85" fill="#c40f2c" stroke="#fff" stroke-width="1.1"/>
<circle cx="145.74" cy="291.22" r="2.85" fill="#c40f2c" stroke="#fff" stroke-width="1.1"/>
<circle cx="145.74" cy="296.52" r="2.85" fill="#c40f2c" stroke="#fff" stroke-width="1.1"/>
<circle cx="145.74" cy="306.44" r="2.85" fill="#c40f2c" stroke="#fff" stroke-width="1.1"/>
<circle cx="145.74" cy="309.97" r="2.85" fill="#c40f2c" stroke="#fff" stroke-width="1.1"/>
<circle cx="145.74" cy="314.19" r="2.85" fill="#c40f2c" stroke="#fff" stroke-width="1.1"/>
<circle cx="145.74" cy="318.94" r="2.85" fill="#c40f2c" stroke="#fff" stroke-width="1.1"/>
<circle cx="145.74" cy="324.65" r="2.85" fill="#c40f2c" stroke="#fff" stroke-width="1.1"/>
<circle cx="145.74" cy="329.81" r="2.85" fill="#c40f2c" stroke="#fff" stroke-width="1.1"/>
<circle cx="145.74" cy="332.94" r="2.85" fill="#c40f2c" stroke="#fff" stroke-width="1.1"/>
<circle cx="145.74" cy="338.24" r="2.85" fill="#c40f2c" stroke="#fff" stroke-width="1.1"/>
<circle cx="145.74" cy="342.45" r="2.85" fill="#c40f2c" stroke="#fff" stroke-width="1.1"/>
<circle cx="145.74" cy="346.53" r="2.85" fill="#c40f2c" stroke="#fff" stroke-width="1.1"/>
<circle cx="160.11" cy="286.46" r="2.85" fill="#c40f2c" stroke="#fff" stroke-width="1.1"/>
<circle cx="160.11" cy="295.43" r="2.85" fill="#c40f2c" stroke="#fff" stroke-width="1.1"/>
<circle cx="160.11" cy="298.56" r="2.85" fill="#c40f2c" stroke="#fff" stroke-width="1.1"/>
<circle cx="160.11" cy="302.63" r="2.85" fill="#c40f2c" stroke="#fff" stroke-width="1.1"/>
<circle cx="160.11" cy="308.89" r="2.85" fill="#c40f2c" stroke="#fff" stroke-width="1.1"/>
<circle cx="160.11" cy="314.19" r="2.85" fill="#c40f2c" stroke="#fff" stroke-width="1.1"/>
<circle cx="160.11" cy="318.26" r="2.85" fill="#c40f2c" stroke="#fff" stroke-width="1.1"/>
<circle cx="160.11" cy="323.43" r="2.85" fill="#c40f2c" stroke="#fff" stroke-width="1.1"/>
<circle cx="160.11" cy="329.81" r="2.85" fill="#c40f2c" stroke="#fff" stroke-width="1.1"/>
<circle cx="160.11" cy="335.93" r="2.85" fill="#c40f2c" stroke="#fff" stroke-width="1.1"/>
<circle cx="160.11" cy="341.37" r="2.85" fill="#c40f2c" stroke="#fff" stroke-width="1.1"/>
<circle cx="160.11" cy="346.53" r="2.85" fill="#c40f2c" stroke="#fff" stroke-width="1.1"/>
<circle cx="174.45" cy="280.21" r="2.85" fill="#c40f2c" stroke="#fff" stroke-width="1.1"/>
<circle cx="174.45" cy="288.37" r="2.85" fill="#c40f2c" stroke="#fff" stroke-width="1.1"/>
<circle cx="174.45" cy="296.11" r="2.85" fill="#c40f2c" stroke="#fff" stroke-width="1.1"/>
<circle cx="174.45" cy="300.60" r="2.85" fill="#c40f2c" stroke="#fff" stroke-width="1.1"/>
<circle cx="174.45" cy="306.03" r="2.85" fill="#c40f2c" stroke="#fff" stroke-width="1.1"/>
<circle cx="174.45" cy="310.92" r="2.85" fill="#c40f2c" stroke="#fff" stroke-width="1.1"/>
<circle cx="174.45" cy="315.82" r="2.85" fill="#c40f2c" stroke="#fff" stroke-width="1.1"/>
<circle cx="174.45" cy="320.71" r="2.85" fill="#c40f2c" stroke="#fff" stroke-width="1.1"/>
<circle cx="174.45" cy="325.60" r="2.85" fill="#c40f2c" stroke="#fff" stroke-width="1.1"/>
<circle cx="174.45" cy="331.85" r="2.85" fill="#c40f2c" stroke="#fff" stroke-width="1.1"/>
<circle cx="174.45" cy="335.39" r="2.85" fill="#c40f2c" stroke="#fff" stroke-width="1.1"/>
<circle cx="174.45" cy="340.42" r="2.85" fill="#c40f2c" stroke="#fff" stroke-width="1.1"/>
<circle cx="174.45" cy="346.53" r="2.85" fill="#c40f2c" stroke="#fff" stroke-width="1.1"/>
<circle cx="188.79" cy="276.54" r="2.85" fill="#c40f2c" stroke="#fff" stroke-width="1.1"/>
<circle cx="188.79" cy="293.39" r="2.85" fill="#c40f2c" stroke="#fff" stroke-width="1.1"/>
<circle cx="188.79" cy="298.69" r="2.85" fill="#c40f2c" stroke="#fff" stroke-width="1.1"/>
<circle cx="188.79" cy="304.27" r="2.85" fill="#c40f2c" stroke="#fff" stroke-width="1.1"/>
<circle cx="188.79" cy="309.84" r="2.85" fill="#c40f2c" stroke="#fff" stroke-width="1.1"/>
<circle cx="188.79" cy="314.73" r="2.85" fill="#c40f2c" stroke="#fff" stroke-width="1.1"/>
<circle cx="188.79" cy="320.85" r="2.85" fill="#c40f2c" stroke="#fff" stroke-width="1.1"/>
<circle cx="188.79" cy="325.19" r="2.85" fill="#c40f2c" stroke="#fff" stroke-width="1.1"/>
<circle cx="188.79" cy="329.41" r="2.85" fill="#c40f2c" stroke="#fff" stroke-width="1.1"/>
<circle cx="188.79" cy="334.98" r="2.85" fill="#c40f2c" stroke="#fff" stroke-width="1.1"/>
<circle cx="188.79" cy="340.42" r="2.85" fill="#c40f2c" stroke="#fff" stroke-width="1.1"/>
<circle cx="188.79" cy="346.53" r="2.85" fill="#c40f2c" stroke="#fff" stroke-width="1.1"/>
<circle cx="203.16" cy="258.06" r="2.85" fill="#c40f2c" stroke="#fff" stroke-width="1.1"/>
<circle cx="203.16" cy="271.65" r="2.85" fill="#c40f2c" stroke="#fff" stroke-width="1.1"/>
<circle cx="203.16" cy="284.42" r="2.85" fill="#c40f2c" stroke="#fff" stroke-width="1.1"/>
<circle cx="203.16" cy="287.55" r="2.85" fill="#c40f2c" stroke="#fff" stroke-width="1.1"/>
<circle cx="203.16" cy="291.22" r="2.85" fill="#c40f2c" stroke="#fff" stroke-width="1.1"/>
<circle cx="203.16" cy="295.70" r="2.85" fill="#c40f2c" stroke="#fff" stroke-width="1.1"/>
<circle cx="203.16" cy="314.59" r="2.85" fill="#c40f2c" stroke="#fff" stroke-width="1.1"/>
<circle cx="203.16" cy="319.49" r="2.85" fill="#c40f2c" stroke="#fff" stroke-width="1.1"/>
<circle cx="203.16" cy="329.27" r="2.85" fill="#c40f2c" stroke="#fff" stroke-width="1.1"/>
<circle cx="203.16" cy="334.98" r="2.85" fill="#c40f2c" stroke="#fff" stroke-width="1.1"/>
<circle cx="203.16" cy="340.82" r="2.85" fill="#c40f2c" stroke="#fff" stroke-width="1.1"/>
<circle cx="203.16" cy="344.76" r="2.85" fill="#c40f2c" stroke="#fff" stroke-width="1.1"/>
<circle cx="217.50" cy="234.82" r="2.85" fill="#c40f2c" stroke="#fff" stroke-width="1.1"/>
<circle cx="217.50" cy="277.77" r="2.85" fill="#c40f2c" stroke="#fff" stroke-width="1.1"/>
<circle cx="217.50" cy="301.14" r="2.85" fill="#c40f2c" stroke="#fff" stroke-width="1.1"/>
<circle cx="217.50" cy="304.67" r="2.85" fill="#c40f2c" stroke="#fff" stroke-width="1.1"/>
<circle cx="217.50" cy="312.96" r="2.85" fill="#c40f2c" stroke="#fff" stroke-width="1.1"/>
<circle cx="217.50" cy="327.64" r="2.85" fill="#c40f2c" stroke="#fff" stroke-width="1.1"/>
<circle cx="217.50" cy="333.08" r="2.85" fill="#c40f2c" stroke="#fff" stroke-width="1.1"/>
<circle cx="217.50" cy="337.43" r="2.85" fill="#c40f2c" stroke="#fff" stroke-width="1.1"/>
<circle cx="217.50" cy="344.76" r="2.85" fill="#c40f2c" stroke="#fff" stroke-width="1.1"/>
<line x1="45.30" y1="337.97" x2="217.50" y2="319.49" stroke="#111" stroke-width="1.3"/>
<text x="131.05" y="207.6" font-size="10.4" text-anchor="middle" fill="#111">r = 0.198 ; BF<tspan font-size="7.8" dy="3.6">10</tspan><tspan dy="-3.6"> = 7.115</tspan></text>
<text x="131.05" y="375.6" font-size="10" text-anchor="middle" fill="#262626">Comfort</text>
<text transform="translate(19.60,282.25) rotate(-90)" font-size="10.25" text-anchor="middle" fill="#262626">A1 Loadings (<tspan font-style="italic">&#956;V</tspan>)</text>
<rect x="260.9" y="214.3" width="189.90" height="135.90" fill="#e4e4eb"/>
<line x1="269.60" y1="214.3" x2="269.60" y2="350.2" stroke="#f6f6f8" stroke-width="0.7"/>
<line x1="312.65" y1="214.3" x2="312.65" y2="350.2" stroke="#f6f6f8" stroke-width="0.7"/>
<line x1="355.70" y1="214.3" x2="355.70" y2="350.2" stroke="#f6f6f8" stroke-width="0.7"/>
<line x1="398.75" y1="214.3" x2="398.75" y2="350.2" stroke="#f6f6f8" stroke-width="0.7"/>
<line x1="441.80" y1="214.3" x2="441.80" y2="350.2" stroke="#f6f6f8" stroke-width="0.7"/>
<line x1="260.9" y1="350.20" x2="450.8" y2="350.20" stroke="#f6f6f8" stroke-width="0.7"/>
<line x1="260.9" y1="323.02" x2="450.8" y2="323.02" stroke="#f6f6f8" stroke-width="0.7"/>
<line x1="260.9" y1="295.84" x2="450.8" y2="295.84" stroke="#f6f6f8" stroke-width="0.7"/>
<line x1="260.9" y1="268.66" x2="450.8" y2="268.66" stroke="#f6f6f8" stroke-width="0.7"/>
<line x1="260.9" y1="241.48" x2="450.8" y2="241.48" stroke="#f6f6f8" stroke-width="0.7"/>
<line x1="260.9" y1="214.30" x2="450.8" y2="214.30" stroke="#f6f6f8" stroke-width="0.7"/>
<line x1="260.9" y1="214.3" x2="260.9" y2="350.2" stroke="#a6a6a6" stroke-width="0.8"/>
<line x1="260.9" y1="350.2" x2="450.8" y2="350.2" stroke="#a6a6a6" stroke-width="0.8"/>
<line x1="260.9" y1="350.20" x2="262.4" y2="350.20" stroke="#888" stroke-width="0.6"/>
<text x="257.90" y="353.80" font-size="8.6" text-anchor="end" fill="#262626">0</text>
<line x1="260.9" y1="323.02" x2="262.4" y2="323.02" stroke="#888" stroke-width="0.6"/>
<text x="257.90" y="326.62" font-size="8.6" text-anchor="end" fill="#262626">2</text>
<line x1="260.9" y1="295.84" x2="262.4" y2="295.84" stroke="#888" stroke-width="0.6"/>
<text x="257.90" y="299.44" font-size="8.6" text-anchor="end" fill="#262626">4</text>
<line x1="260.9" y1="268.66" x2="262.4" y2="268.66" stroke="#888" stroke-width="0.6"/>
<text x="257.90" y="272.26" font-size="8.6" text-anchor="end" fill="#262626">6</text>
<line x1="260.9" y1="241.48" x2="262.4" y2="241.48" stroke="#888" stroke-width="0.6"/>
<text x="257.90" y="245.08" font-size="8.6" text-anchor="end" fill="#262626">8</text>
<line x1="260.9" y1="214.30" x2="262.4" y2="214.30" stroke="#888" stroke-width="0.6"/>
<text x="257.90" y="217.90" font-size="8.6" text-anchor="end" fill="#262626">10</text>
<line x1="269.60" y1="350.2" x2="269.60" y2="348.7" stroke="#888" stroke-width="0.6"/>
<text x="269.60" y="362.9" font-size="8.6" text-anchor="middle" fill="#262626">1</text>
<line x1="312.65" y1="350.2" x2="312.65" y2="348.7" stroke="#888" stroke-width="0.6"/>
<text x="312.65" y="362.9" font-size="8.6" text-anchor="middle" fill="#262626">2</text>
<line x1="355.70" y1="350.2" x2="355.70" y2="348.7" stroke="#888" stroke-width="0.6"/>
<text x="355.70" y="362.9" font-size="8.6" text-anchor="middle" fill="#262626">3</text>
<line x1="398.75" y1="350.2" x2="398.75" y2="348.7" stroke="#888" stroke-width="0.6"/>
<text x="398.75" y="362.9" font-size="8.6" text-anchor="middle" fill="#262626">4</text>
<line x1="441.80" y1="350.2" x2="441.80" y2="348.7" stroke="#888" stroke-width="0.6"/>
<text x="441.80" y="362.9" font-size="8.6" text-anchor="middle" fill="#262626">5</text>
<circle cx="269.60" cy="292.17" r="2.85" fill="#c40f2c" stroke="#fff" stroke-width="1.1"/>
<circle cx="269.60" cy="295.43" r="2.85" fill="#c40f2c" stroke="#fff" stroke-width="1.1"/>
<circle cx="269.60" cy="308.07" r="2.85" fill="#c40f2c" stroke="#fff" stroke-width="1.1"/>
<circle cx="269.60" cy="313.37" r="2.85" fill="#c40f2c" stroke="#fff" stroke-width="1.1"/>
<circle cx="269.60" cy="320.57" r="2.85" fill="#c40f2c" stroke="#fff" stroke-width="1.1"/>
<circle cx="269.60" cy="330.36" r="2.85" fill="#c40f2c" stroke="#fff" stroke-width="1.1"/>
<circle cx="283.94" cy="287.14" r="2.85" fill="#c40f2c" stroke="#fff" stroke-width="1.1"/>
<circle cx="283.94" cy="290.68" r="2.85" fill="#c40f2c" stroke="#fff" stroke-width="1.1"/>
<circle cx="283.94" cy="297.20" r="2.85" fill="#c40f2c" stroke="#fff" stroke-width="1.1"/>
<circle cx="283.94" cy="301.96" r="2.85" fill="#c40f2c" stroke="#fff" stroke-width="1.1"/>
<circle cx="283.94" cy="310.79" r="2.85" fill="#c40f2c" stroke="#fff" stroke-width="1.1"/>
<circle cx="283.94" cy="315.14" r="2.85" fill="#c40f2c" stroke="#fff" stroke-width="1.1"/>
<circle cx="283.94" cy="319.49" r="2.85" fill="#c40f2c" stroke="#fff" stroke-width="1.1"/>
<circle cx="283.94" cy="327.50" r="2.85" fill="#c40f2c" stroke="#fff" stroke-width="1.1"/>
<circle cx="298.31" cy="286.33" r="2.85" fill="#c40f2c" stroke="#fff" stroke-width="1.1"/>
<circle cx="298.31" cy="298.01" r="2.85" fill="#c40f2c" stroke="#fff" stroke-width="1.1"/>
<circle cx="298.31" cy="301.96" r="2.85" fill="#c40f2c" stroke="#fff" stroke-width="1.1"/>
<circle cx="298.31" cy="308.48" r="2.85" fill="#c40f2c" stroke="#fff" stroke-width="1.1"/>
<circle cx="298.31" cy="312.96" r="2.85" fill="#c40f2c" stroke="#fff" stroke-width="1.1"/>
<circle cx="298.31" cy="316.22" r="2.85" fill="#c40f2c" stroke="#fff" stroke-width="1.1"/>
<circle cx="298.31" cy="322.75" r="2.85" fill="#c40f2c" stroke="#fff" stroke-width="1.1"/>
<circle cx="312.65" cy="250.04" r="2.85" fill="#c40f2c" stroke="#fff" stroke-width="1.1"/>
<circle cx="312.65" cy="253.30" r="2.85" fill="#c40f2c" stroke="#fff" stroke-width="1.1"/>
<circle cx="312.65" cy="292.17" r="2.85" fill="#c40f2c" stroke="#fff" stroke-width="1.1"/>
<circle cx="312.65" cy="294.75" r="2.85" fill="#c40f2c" stroke="#fff" stroke-width="1.1"/>
<circle cx="312.65" cy="299.92" r="2.85" fill="#c40f2c" stroke="#fff" stroke-width="1.1"/>
<circle cx="312.65" cy="305.35" r="2.85" fill="#c40f2c" stroke="#fff" stroke-width="1.1"/>
<circle cx="312.65" cy="309.70" r="2.85" fill="#c40f2c" stroke="#fff" stroke-width="1.1"/>
<circle cx="312.65" cy="315.14" r="2.85" fill="#c40f2c" stroke="#fff" stroke-width="1.1"/>
<circle cx="312.65" cy="321.66" r="2.85" fill="#c40f2c" stroke="#fff" stroke-width="1.1"/>
<circle cx="312.65" cy="326.01" r="2.85" fill="#c40f2c" stroke="#fff" stroke-width="1.1"/>
<circle cx="326.99" cy="283.47" r="2.85" fill="#c40f2c" stroke="#fff" stroke-width="1.1"/>
<circle cx="326.99" cy="288.50" r="2.85" fill="#c40f2c" stroke="#fff" stroke-width="1.1"/>
<circle cx="326.99" cy="294.35" r="2.85" fill="#c40f2c" stroke="#fff" stroke-width="1.1"/>
<circle cx="326.99" cy="297.61" r="2.85" fill="#c40f2c" stroke="#fff" stroke-width="1.1"/>
<circle cx="326.99" cy="300.87" r="2.85" fill="#c40f2c" stroke="#fff" stroke-width="1.1"/>
<circle cx="326.99" cy="307.39" r="2.85" fill="#c40f2c" stroke="#fff" stroke-width="1.1"/>
<circle cx="326.99" cy="311.88" r="2.85" fill="#c40f2c" stroke="#fff" stroke-width="1.1"/>
<circle cx="326.99" cy="319.08" r="2.85" fill="#c40f2c" stroke="#fff" stroke-width="1.1"/>
<circle cx="326.99" cy="324.24" r="2.85" fill="#c40f2c" stroke="#fff" stroke-width="1.1"/>
<circle cx="341.36" cy="276.81" r="2.85" fill="#c40f2c" stroke="#fff" stroke-width="1.1"/>
<circle cx="341.36" cy="281.30" r="2.85" fill="#c40f2c" stroke="#fff" stroke-width="1.1"/>
<circle cx="341.36" cy="287.82" r="2.85" fill="#c40f2c" stroke="#fff" stroke-width="1.1"/>
<circle cx="341.36" cy="293.26" r="2.85" fill="#c40f2c" stroke="#fff" stroke-width="1.1"/>
<circle cx="341.36" cy="298.01" r="2.85" fill="#c40f2c" stroke="#fff" stroke-width="1.1"/>
<circle cx="341.36" cy="303.04" r="2.85" fill="#c40f2c" stroke="#fff" stroke-width="1.1"/>
<circle cx="341.36" cy="307.39" r="2.85" fill="#c40f2c" stroke="#fff" stroke-width="1.1"/>
<circle cx="341.36" cy="311.33" r="2.85" fill="#c40f2c" stroke="#fff" stroke-width="1.1"/>
<circle cx="341.36" cy="316.09" r="2.85" fill="#c40f2c" stroke="#fff" stroke-width="1.1"/>
<circle cx="341.36" cy="319.49" r="2.85" fill="#c40f2c" stroke="#fff" stroke-width="1.1"/>
<circle cx="341.36" cy="324.24" r="2.85" fill="#c40f2c" stroke="#fff" stroke-width="1.1"/>
<circle cx="341.36" cy="327.78" r="2.85" fill="#c40f2c" stroke="#fff" stroke-width="1.1"/>
<circle cx="355.70" cy="269.20" r="2.85" fill="#c40f2c" stroke="#fff" stroke-width="1.1"/>
<circle cx="355.70" cy="281.30" r="2.85" fill="#c40f2c" stroke="#fff" stroke-width="1.1"/>
<circle cx="355.70" cy="286.33" r="2.85" fill="#c40f2c" stroke="#fff" stroke-width="1.1"/>
<circle cx="355.70" cy="289.72" r="2.85" fill="#c40f2c" stroke="#fff" stroke-width="1.1"/>
<circle cx="355.70" cy="295.43" r="2.85" fill="#c40f2c" stroke="#fff" stroke-width="1.1"/>
<circle cx="355.70" cy="298.01" r="2.85" fill="#c40f2c" stroke="#fff" stroke-width="1.1"/>
<circle cx="355.70" cy="303.04" r="2.85" fill="#c40f2c" stroke="#fff" stroke-width="1.1"/>
<circle cx="355.70" cy="306.98" r="2.85" fill="#c40f2c" stroke="#fff" stroke-width="1.1"/>
<circle cx="355.70" cy="310.79" r="2.85" fill="#c40f2c" stroke="#fff" stroke-width="1.1"/>
<circle cx="355.70" cy="317.99" r="2.85" fill="#c40f2c" stroke="#fff" stroke-width="1.1"/>
<circle cx="355.70" cy="330.36" r="2.85" fill="#c40f2c" stroke="#fff" stroke-width="1.1"/>
<circle cx="370.04" cy="286.46" r="2.85" fill="#c40f2c" stroke="#fff" stroke-width="1.1"/>
<circle cx="370.04" cy="292.58" r="2.85" fill="#c40f2c" stroke="#fff" stroke-width="1.1"/>
<circle cx="370.04" cy="298.56" r="2.85" fill="#c40f2c" stroke="#fff" stroke-width="1.1"/>
<circle cx="370.04" cy="305.90" r="2.85" fill="#c40f2c" stroke="#fff" stroke-width="1.1"/>
<circle cx="370.04" cy="313.91" r="2.85" fill="#c40f2c" stroke="#fff" stroke-width="1.1"/>
<circle cx="370.04" cy="320.71" r="2.85" fill="#c40f2c" stroke="#fff" stroke-width="1.1"/>
<circle cx="370.04" cy="330.90" r="2.85" fill="#c40f2c" stroke="#fff" stroke-width="1.1"/>
<circle cx="384.41" cy="274.50" r="2.85" fill="#c40f2c" stroke="#fff" stroke-width="1.1"/>
<circle cx="384.41" cy="280.62" r="2.85" fill="#c40f2c" stroke="#fff" stroke-width="1.1"/>
<circle cx="384.41" cy="294.89" r="2.85" fill="#c40f2c" stroke="#fff" stroke-width="1.1"/>
<circle cx="384.41" cy="299.37" r="2.85" fill="#c40f2c" stroke="#fff" stroke-width="1.1"/>
<circle cx="384.41" cy="303.72" r="2.85" fill="#c40f2c" stroke="#fff" stroke-width="1.1"/>
<circle cx="384.41" cy="311.20" r="2.85" fill="#c40f2c" stroke="#fff" stroke-width="1.1"/>
<circle cx="384.41" cy="315.55" r="2.85" fill="#c40f2c" stroke="#fff" stroke-width="1.1"/>
<circle cx="384.41" cy="320.30" r="2.85" fill="#c40f2c" stroke="#fff" stroke-width="1.1"/>
<circle cx="384.41" cy="324.24" r="2.85" fill="#c40f2c" stroke="#fff" stroke-width="1.1"/>
<circle cx="398.75" cy="245.96" r="2.85" fill="#c40f2c" stroke="#fff" stroke-width="1.1"/>
<circle cx="398.75" cy="257.79" r="2.85" fill="#c40f2c" stroke="#fff" stroke-width="1.1"/>
<circle cx="398.75" cy="272.47" r="2.85" fill="#c40f2c" stroke="#fff" stroke-width="1.1"/>
<circle cx="398.75" cy="288.23" r="2.85" fill="#c40f2c" stroke="#fff" stroke-width="1.1"/>
<circle cx="398.75" cy="293.67" r="2.85" fill="#c40f2c" stroke="#fff" stroke-width="1.1"/>
<circle cx="398.75" cy="300.19" r="2.85" fill="#c40f2c" stroke="#fff" stroke-width="1.1"/>
<circle cx="398.75" cy="306.98" r="2.85" fill="#c40f2c" stroke="#fff" stroke-width="1.1"/>
<circle cx="398.75" cy="313.10" r="2.85" fill="#c40f2c" stroke="#fff" stroke-width="1.1"/>
<circle cx="398.75" cy="316.63" r="2.85" fill="#c40f2c" stroke="#fff" stroke-width="1.1"/>
<circle cx="398.75" cy="319.35" r="2.85" fill="#c40f2c" stroke="#fff" stroke-width="1.1"/>
<circle cx="398.75" cy="323.97" r="2.85" fill="#c40f2c" stroke="#fff" stroke-width="1.1"/>
<circle cx="413.09" cy="280.48" r="2.85" fill="#c40f2c" stroke="#fff" stroke-width="1.1"/>
<circle cx="413.09" cy="287.96" r="2.85" fill="#c40f2c" stroke="#fff" stroke-width="1.1"/>
<circle cx="413.09" cy="294.89" r="2.85" fill="#c40f2c" stroke="#fff" stroke-width="1.1"/>
<circle cx="413.09" cy="300.32" r="2.85" fill="#c40f2c" stroke="#fff" stroke-width="1.1"/>
<circle cx="413.09" cy="313.10" r="2.85" fill="#c40f2c" stroke="#fff" stroke-width="1.1"/>
<circle cx="413.09" cy="315.68" r="2.85" fill="#c40f2c" stroke="#fff" stroke-width="1.1"/>
<circle cx="427.46" cy="254.25" r="2.85" fill="#c40f2c" stroke="#fff" stroke-width="1.1"/>
<circle cx="427.46" cy="292.17" r="2.85" fill="#c40f2c" stroke="#fff" stroke-width="1.1"/>
<circle cx="427.46" cy="306.17" r="2.85" fill="#c40f2c" stroke="#fff" stroke-width="1.1"/>
<circle cx="427.46" cy="309.84" r="2.85" fill="#c40f2c" stroke="#fff" stroke-width="1.1"/>
<circle cx="441.80" cy="293.26" r="2.85" fill="#c40f2c" stroke="#fff" stroke-width="1.1"/>
<line x1="269.60" y1="308.07" x2="441.80" y2="295.16" stroke="#111" stroke-width="1.3"/>
<text x="355.85" y="207.6" font-size="10.4" text-anchor="middle" fill="#111">r = 0.200 ; BF<tspan font-size="7.8" dy="3.6">10</tspan><tspan dy="-3.6"> = 7.676</tspan></text>
<text x="355.85" y="375.6" font-size="10" text-anchor="middle" fill="#262626">Sleepiness</text>
<text transform="translate(244.40,282.25) rotate(-90)" font-size="10.25" text-anchor="middle" fill="#262626">T1 Loadings (<tspan font-style="italic">&#956;V</tspan>)</text>
<text x="10.8" y="375.9" font-size="14" fill="#111">(<tspan font-size="11.8">D</tspan>)</text>
<rect x="15" y="389" width="442" height="152.8" fill="#fff" stroke="#777" stroke-width="1.4"/>
<path d="M15,541.8 L15,389.2 L456.5,389.2" fill="none" stroke="#151515" stroke-width="1.5"/>
<line x1="153.7" y1="388.6" x2="153.7" y2="541.8" stroke="#666" stroke-width="1.2"/>
<line x1="153.7" y1="408.5" x2="457" y2="408.5" stroke="#777" stroke-width="0.9"/>
<line x1="314.7" y1="408.5" x2="314.7" y2="541.8" stroke="#777" stroke-width="0.9"/>
<line x1="316.5" y1="408.5" x2="316.5" y2="541.8" stroke="#777" stroke-width="0.9"/>
<line x1="455.3" y1="408.5" x2="455.3" y2="541.8" stroke="#777" stroke-width="0.9"/>
<text x="156.6" y="401.6" font-size="6.45" fill="#222" xml:space="preserve">(X,Y,Z)=(-5,-20,40)[mm]  ;  (2,47E-1)  ;  1</text>
<text x="452" y="399.4" font-size="7" font-weight="bold" text-anchor="end" fill="#1e2e2e">sLORETA</text>
<rect x="20.3" y="395.6" width="111.00" height="131.20" fill="#fff" stroke="#6a6a6a" stroke-width="0.9"/>
<rect x="160.3" y="414.2" width="132.40" height="109.80" fill="#fff" stroke="#6a6a6a" stroke-width="0.9"/>
<rect x="322.2" y="414.2" width="111.10" height="110.10" fill="#fff" stroke="#6a6a6a" stroke-width="0.9"/>
<path d="M75.30,417.00 L74.99,416.81 L74.61,416.54 L74.15,416.22 L73.64,415.86 L73.09,415.48 L72.50,415.11 L71.88,414.75 L71.25,414.44 L70.62,414.18 L70.00,414.00 L69.37,413.87 L68.71,413.77 L68.02,413.69 L67.32,413.65 L66.61,413.64 L65.88,413.67 L65.15,413.75 L64.43,413.87 L63.71,414.06 L63.00,414.30 L62.30,414.61 L61.58,414.98 L60.87,415.41 L60.15,415.89 L59.44,416.42 L58.73,416.98 L58.03,417.58 L57.34,418.20 L56.66,418.84 L56.00,419.50 L55.36,420.18 L54.74,420.90 L54.13,421.66 L53.53,422.45 L52.94,423.26 L52.35,424.09 L51.77,424.94 L51.18,425.79 L50.60,426.65 L50.00,427.50 L49.40,428.35 L48.78,429.20 L48.17,430.05 L47.55,430.91 L46.94,431.78 L46.33,432.67 L45.73,433.58 L45.14,434.52 L44.56,435.49 L44.00,436.50 L43.45,437.55 L42.90,438.63 L42.36,439.75 L41.83,440.90 L41.31,442.06 L40.81,443.24 L40.32,444.43 L39.86,445.63 L39.41,446.82 L39.00,448.00 L38.60,449.18 L38.22,450.37 L37.84,451.56 L37.49,452.76 L37.16,453.97 L36.85,455.18 L36.58,456.38 L36.34,457.59 L36.15,458.80 L36.00,460.00 L35.90,461.20 L35.84,462.40 L35.81,463.60 L35.83,464.80 L35.88,466.00 L35.95,467.20 L36.06,468.40 L36.18,469.60 L36.33,470.80 L36.50,472.00 L36.69,473.21 L36.90,474.43 L37.14,475.66 L37.40,476.90 L37.69,478.12 L38.00,479.34 L38.34,480.55 L38.70,481.73 L39.09,482.88 L39.50,484.00 L39.94,485.09 L40.40,486.18 L40.89,487.24 L41.40,488.29 L41.94,489.31 L42.50,490.31 L43.09,491.28 L43.70,492.22 L44.34,493.13 L45.00,494.00 L45.69,494.84 L46.42,495.64 L47.18,496.42 L47.97,497.16 L48.78,497.88 L49.61,498.56 L50.45,499.21 L51.30,499.84 L52.15,500.44 L53.00,501.00 L53.86,501.54 L54.75,502.05 L55.66,502.53 L56.58,502.98 L57.50,503.41 L58.42,503.80 L59.34,504.15 L60.25,504.47 L61.14,504.76 L62.00,505.00 L62.85,505.21 L63.71,505.37 L64.56,505.50 L65.40,505.60 L66.23,505.66 L67.04,505.68 L67.83,505.68 L68.59,505.65 L69.31,505.59 L70.00,505.50 L70.66,505.36 L71.32,505.15 L71.96,504.89 L72.57,504.60 L73.15,504.28 L73.69,503.96 L74.18,503.66 L74.62,503.39 L75.00,503.16 L75.30,503.00 L75.30,500.13 L75.30,497.27 L75.30,494.40 L75.30,491.53 L75.30,488.67 L75.30,485.80 L75.30,482.93 L75.30,480.07 L75.30,477.20 L75.30,474.33 L75.30,471.47 L75.30,468.60 L75.30,465.73 L75.30,462.87 L75.30,460.00 L75.30,457.13 L75.30,454.27 L75.30,451.40 L75.30,448.53 L75.30,445.67 L75.30,442.80 L75.30,439.93 L75.30,437.07 L75.30,434.20 L75.30,431.33 L75.30,428.47 L75.30,425.60 L75.30,422.73 L75.30,419.87 Z" fill="none" stroke="#888" stroke-width="3.6" stroke-opacity="0.35" stroke-linejoin="round"/>
<path d="M75.30,417.00 L72.86,417.80 L73.34,417.19 L73.53,416.52 L73.31,415.82 L72.73,415.25 L71.96,414.98 L71.17,415.08 L70.50,415.53 L70.09,416.24 L69.86,416.91 L69.65,417.59 L69.31,418.22 L69.11,418.90 L68.93,419.60 L68.58,420.21 L68.39,420.91 L68.20,421.61 L67.75,422.19 L67.51,422.86 L67.24,423.52 L66.96,424.17 L66.67,424.81 L66.16,425.46 L65.80,426.05 L65.78,426.55 L66.29,426.93 L66.44,426.85 L66.66,426.44 L66.95,425.79 L66.86,424.97 L66.89,424.26 L66.91,423.55 L67.14,422.86 L67.09,422.14 L67.02,421.43 L67.10,420.72 L66.98,420.01 L66.86,419.30 L66.91,418.59 L66.82,417.88 L66.76,417.17 L66.73,416.46 L66.71,415.54 L66.60,414.81 L66.19,414.21 L65.56,413.85 L64.82,413.80 L64.14,414.10 L63.68,414.66 L63.51,415.37 L63.68,416.08 L63.84,416.60 L63.91,417.16 L63.97,417.72 L63.97,418.32 L64.00,418.91 L64.01,419.52 L64.29,419.98 L64.52,420.48 L64.75,421.19 L64.85,421.85 L64.71,422.44 L64.47,422.80 L64.04,422.95 L63.51,422.85 L62.89,422.57 L62.39,422.04 L62.06,421.61 L61.75,421.16 L61.58,420.60 L61.50,419.97 L61.44,419.33 L61.31,418.75 L61.10,418.23 L61.43,418.68 L60.59,417.87 L59.54,417.46 L58.41,417.56 L57.40,418.14 L56.73,419.10 L56.51,420.24 L56.80,421.36 L57.52,422.28 L57.83,422.78 L58.11,423.30 L58.43,423.79 L58.75,424.27 L59.04,424.80 L59.37,425.28 L59.70,425.76 L60.00,426.28 L60.35,426.73 L60.70,427.19 L61.02,427.70 L61.39,428.14 L62.17,429.01 L62.66,430.00 L62.73,431.02 L62.35,431.96 L61.54,432.75 L60.43,433.21 L59.24,433.21 L58.17,432.74 L57.87,432.19 L57.58,431.64 L57.26,431.12 L56.91,430.64 L56.55,430.18 L56.17,429.75 L55.80,429.31 L55.43,428.86 L55.08,428.38 L54.75,427.87 L54.44,427.34 L53.32,426.22 L52.61,425.91 L51.83,425.89 L51.10,426.18 L50.54,426.73 L50.22,427.45 L50.20,428.23 L50.48,428.96 L51.01,429.53 L51.48,430.15 L51.94,430.77 L52.40,431.40 L52.87,432.01 L53.34,432.62 L53.81,433.23 L54.28,433.83 L54.76,434.44 L55.23,435.04 L55.71,435.65 L56.19,436.25 L56.65,436.86 L57.13,437.46 L57.61,438.06 L58.15,438.63 L58.46,439.32 L58.50,440.02 L58.28,440.62 L57.82,441.04 L57.20,441.19 L56.47,441.12 L55.79,440.76 L55.29,440.17 L54.79,439.59 L54.28,439.01 L53.78,438.42 L53.23,437.92 L52.69,437.39 L52.12,436.92 L51.57,436.41 L51.04,435.88 L50.51,435.34 L50.02,434.74 L49.56,434.12 L49.11,433.46 L49.20,433.12 L48.26,432.71 L47.24,432.69 L46.30,433.08 L45.59,433.81 L45.23,434.76 L45.29,435.78 L45.75,436.68 L46.53,437.35 L46.80,437.74 L47.07,438.12 L47.39,438.42 L47.72,438.72 L48.04,439.01 L48.36,439.31 L48.65,439.69 L48.93,440.06 L49.72,440.70 L50.26,441.52 L50.45,442.42 L50.24,443.31 L49.68,444.04 L48.85,444.50 L47.86,444.62 L46.86,444.39 L46.48,444.20 L46.14,443.93 L45.84,443.57 L45.57,443.13 L45.30,442.69 L45.00,442.32 L44.66,442.04 L43.60,441.52 L42.89,441.35 L42.18,441.47 L41.56,441.85 L41.15,442.45 L41.00,443.16 L41.14,443.87 L41.55,444.47 L42.16,444.87 L42.88,445.23 L43.61,445.59 L44.35,445.92 L45.10,446.22 L45.86,446.49 L46.63,446.73 L47.42,446.95 L48.19,447.19 L48.98,447.41 L49.76,447.63 L50.51,447.91 L51.27,448.19 L52.02,448.50 L52.76,448.84 L53.50,449.14 L54.23,449.51 L54.83,449.91 L55.26,450.46 L55.47,451.05 L55.41,451.57 L55.08,452.06 L54.54,452.37 L53.86,452.49 L53.14,452.38 L52.42,451.99 L51.69,451.62 L50.95,451.28 L50.18,451.04 L49.42,450.77 L48.63,450.59 L47.82,450.45 L47.02,450.30 L46.20,450.19 L45.40,450.03 L44.61,449.86 L43.83,449.63 L43.07,449.36 L42.33,449.03 L41.60,448.66 L41.64,448.55 L40.61,448.40 L39.61,448.65 L38.78,449.29 L38.27,450.19 L38.16,451.23 L38.46,452.22 L39.13,453.01 L40.06,453.49 L40.72,453.71 L41.38,453.93 L42.06,454.13 L42.74,454.29 L43.42,454.43 L44.12,454.52 L44.83,454.57 L45.54,454.64 L46.25,454.71 L46.97,454.75 L47.67,454.85 L48.37,454.94 L49.05,455.07 L49.73,455.24 L50.40,455.45 L51.06,455.68 L51.71,455.92 L52.65,456.36 L53.34,457.10 L53.72,457.87 L53.75,458.56 L53.38,459.20 L52.70,459.60 L51.78,459.76 L50.73,459.76 L50.03,459.70 L49.35,459.55 L48.65,459.49 L47.95,459.43 L47.26,459.36 L46.58,459.19 L45.88,459.12 L45.19,459.03 L44.49,458.95 L43.80,458.86 L43.10,458.78 L42.40,458.71 L41.72,458.60 L41.02,458.55 L40.32,458.50 L39.62,458.46 L39.18,458.44 L38.04,458.48 L37.00,458.92 L36.25,459.77 L35.93,460.86 L36.08,462.00 L36.69,462.96 L37.63,463.59 L38.75,463.81 L39.43,463.44 L40.12,463.11 L40.81,462.87 L41.50,462.62 L42.19,462.47 L42.88,462.38 L43.56,462.28 L44.25,462.27 L44.93,462.20 L45.62,462.11 L46.31,462.07 L46.99,461.99 L47.69,461.86 L48.39,461.70 L49.09,461.52 L49.80,461.33 L50.88,461.68 L51.82,461.98 L52.41,462.55 L52.61,463.27 L52.38,463.87 L51.75,464.47 L50.82,464.91 L49.70,465.08 L49.03,465.38 L48.36,465.60 L47.70,465.88 L47.03,466.14 L46.36,466.41 L45.70,466.60 L45.03,466.81 L44.36,466.96 L43.69,467.16 L43.02,467.33 L42.35,467.55 L41.69,467.85 L41.04,468.16 L40.39,468.51 L39.75,468.91 L39.14,469.31 L38.04,469.66 L37.16,470.40 L36.65,471.43 L36.59,472.59 L37.00,473.67 L37.80,474.50 L38.87,474.94 L40.02,474.93 L40.54,474.81 L41.07,474.71 L41.60,474.66 L42.15,474.66 L42.70,474.67 L43.25,474.71 L43.82,474.78 L44.36,474.78 L44.91,474.77 L45.44,474.71 L45.97,474.61 L46.49,474.47 L47.63,474.41 L48.69,474.71 L49.50,475.32 L49.95,476.18 L49.96,477.06 L49.56,477.96 L48.79,478.70 L47.76,479.20 L47.23,479.29 L46.71,479.44 L46.18,479.53 L45.64,479.62 L45.11,479.72 L44.59,479.85 L44.06,479.94 L43.53,480.03 L42.99,480.12 L42.47,480.24 L41.93,480.32 L40.74,480.60 L39.95,481.01 L39.40,481.70 L39.16,482.55 L39.29,483.43 L39.76,484.19 L40.49,484.69 L41.37,484.86 L42.24,484.66 L42.86,484.51 L43.47,484.34 L44.08,484.15 L44.67,483.94 L45.24,483.66 L45.82,483.41 L46.41,483.18 L47.00,482.96 L47.60,482.76 L48.21,482.59 L48.83,482.43 L49.67,482.16 L50.51,482.23 L51.19,482.52 L51.65,483.04 L51.80,483.71 L51.61,484.40 L51.11,485.01 L50.43,485.60 L49.79,485.75 L49.14,485.88 L48.55,486.11 L48.02,486.45 L47.54,486.88 L47.04,487.29 L46.56,487.73 L46.03,488.08 L45.44,488.31 L44.81,488.48 L44.43,488.38 L43.65,489.04 L43.18,489.94 L43.12,490.96 L43.50,491.91 L44.23,492.63 L45.18,492.97 L46.20,492.89 L47.10,492.40 L47.87,492.23 L48.62,492.02 L49.33,491.77 L50.04,491.50 L50.66,491.13 L51.28,490.76 L51.79,490.27 L52.35,489.83 L52.90,489.38 L53.45,488.94 L54.03,488.53 L54.54,488.04 L55.20,487.70 L55.79,487.29 L56.41,486.91 L57.05,486.55 L57.70,486.19 L58.55,485.60 L59.27,485.11 L60.02,485.00 L60.52,485.14 L60.79,485.61 L60.89,486.39 L60.61,487.24 L60.08,488.10 L59.55,488.59 L59.01,489.08 L58.47,489.56 L57.86,489.99 L57.35,490.49 L56.77,490.94 L56.28,491.45 L55.72,491.91 L55.23,492.43 L54.66,492.88 L54.14,493.37 L53.55,493.81 L52.98,494.26 L52.39,494.69 L51.74,495.07 L51.10,495.46 L50.04,496.29 L49.64,496.97 L49.54,497.74 L49.77,498.49 L50.28,499.08 L50.99,499.42 L51.77,499.45 L52.51,499.16 L53.06,498.61 L53.86,498.20 L54.62,497.77 L55.34,497.30 L55.99,496.78 L56.59,496.23 L57.12,495.63 L57.66,495.04 L58.18,494.45 L58.63,493.80 L59.17,493.20 L59.65,492.57 L60.16,491.96 L60.72,491.37 L61.31,490.80 L61.93,490.23 L62.55,489.67 L62.90,488.98 L63.44,488.52 L63.93,488.26 L64.40,488.30 L64.61,488.55 L64.76,489.08 L64.79,489.79 L64.67,490.57 L64.23,491.24 L63.77,491.91 L63.31,492.58 L62.74,493.20 L62.29,493.86 L61.82,494.51 L61.35,495.17 L60.86,495.81 L60.30,496.42 L59.80,497.05 L59.27,497.68 L58.72,498.29 L58.15,498.88 L57.56,499.47 L56.95,500.04 L56.61,500.01 L56.31,501.01 L56.41,502.03 L56.93,502.92 L57.77,503.52 L58.79,503.72 L59.80,503.48 L60.61,502.85 L61.09,501.94 L61.48,501.56 L61.80,501.16 L62.07,500.75 L62.37,500.34 L62.59,499.91 L62.87,499.50 L63.16,499.08 L63.38,498.65 L63.73,498.25 L63.97,497.82 L64.42,496.88 L64.89,496.10 L65.53,495.63 L66.18,495.51 L66.59,495.75 L67.05,496.35 L67.43,497.22 L67.48,498.24 L67.54,498.72 L67.40,499.20 L67.19,499.68 L67.01,500.15 L66.76,500.62 L66.50,501.08 L66.19,501.54 L66.02,502.01 L65.85,502.47 L65.66,503.71 L65.73,504.44 L66.07,505.09 L66.65,505.53 L67.38,505.68 L68.10,505.52 L68.68,505.08 L69.02,504.43 L69.09,503.70 L69.09,502.90 L69.16,502.08 L69.14,501.29 L69.12,500.49 L69.10,499.68 L69.07,498.87 L69.04,498.03 L68.96,497.20 L68.57,496.48 L68.33,495.69 L68.04,494.93 L67.78,494.16 L67.50,493.40 L66.49,493.08 L66.21,492.32 L64.96,492.23 L64.64,491.58 L63.64,491.67 L62.91,491.99 L61.58,493.63 L60.39,495.31 L59.60,498.54 L59.99,499.84 L60.66,500.96 L61.51,500.24 L62.86,497.85 L64.16,497.05 L65.31,496.88 L66.46,496.81 L67.12,497.49 L68.06,497.41 L68.96,497.49 L69.38,498.13 L70.18,498.40 L70.51,499.12 L71.11,499.61 L71.31,500.42 L71.70,501.08 L71.95,501.86 L72.87,504.43 L73.74,503.94 L74.59,503.41 L75.30,502.82 L75.30,501.82 L75.30,500.82 L72.88,500.00 L73.81,499.82 L74.59,499.29 L75.12,498.51 L75.30,497.58 L75.12,496.65 L74.59,495.87 L73.81,495.34 L72.88,495.16 L73.29,495.07 L73.70,495.69 L74.12,495.60 L73.19,495.42 L72.41,494.90 L71.88,494.11 L71.70,493.18 L71.88,492.26 L72.41,491.47 L73.19,490.95 L74.12,490.76 L73.70,490.94 L73.29,490.14 L73.33,490.32 L74.09,490.17 L74.72,489.74 L75.15,489.10 L75.30,488.35 L75.15,487.60 L74.72,486.96 L74.09,486.53 L73.33,486.38 L73.03,486.47 L72.72,486.85 L72.42,487.41 L72.11,487.78 L71.81,487.87 L71.06,487.72 L70.42,487.30 L69.99,486.66 L69.84,485.91 L69.99,485.15 L70.42,484.52 L71.06,484.09 L71.81,483.94 L72.11,483.48 L72.42,483.24 L72.72,483.14 L73.03,482.91 L72.30,482.45 L73.45,482.22 L74.42,481.57 L75.07,480.60 L75.30,479.45 L75.07,478.30 L74.42,477.32 L73.45,476.67 L72.30,476.44 L72.14,476.01 L71.99,476.01 L71.84,476.43 L71.69,476.86 L71.53,476.86 L71.38,476.42 L70.23,476.19 L69.26,475.54 L68.61,474.57 L68.38,473.42 L68.61,472.27 L69.26,471.30 L70.23,470.65 L71.38,470.42 L71.53,470.26 L71.69,470.26 L71.84,470.43 L71.99,470.60 L72.14,470.60 L73.29,470.44 L74.06,470.29 L74.71,469.85 L75.15,469.20 L75.30,468.43 L75.15,467.66 L74.71,467.01 L74.06,466.58 L73.29,466.42 L73.02,467.01 L72.74,467.21 L72.46,467.16 L72.19,467.35 L71.91,467.94 L71.14,467.79 L70.49,467.35 L70.05,466.70 L69.90,465.93 L70.05,465.17 L70.49,464.51 L71.14,464.08 L71.91,463.93 L72.19,463.53 L72.46,463.26 L72.74,463.07 L73.02,462.80 L72.63,462.41 L73.65,462.20 L74.52,461.63 L75.10,460.76 L75.30,459.74 L75.10,458.72 L74.52,457.85 L73.65,457.28 L72.63,457.07 L73.20,457.09 L73.77,458.05 L74.34,458.07 L73.32,457.86 L72.46,457.29 L71.88,456.42 L71.68,455.40 L71.88,454.38 L72.46,453.51 L73.32,452.93 L74.34,452.73 L73.77,452.24 L73.20,452.23 L72.20,451.74 L73.39,451.50 L74.39,450.83 L75.06,449.82 L75.30,448.64 L75.06,447.45 L74.39,446.45 L73.39,445.77 L72.20,445.54 L72.14,445.65 L72.07,445.73 L72.01,445.78 L71.94,445.83 L71.88,445.91 L71.81,446.02 L70.63,445.79 L69.62,445.11 L68.95,444.11 L68.71,442.92 L68.95,441.74 L69.62,440.73 L70.63,440.06 L71.81,439.82 L71.88,439.76 L71.94,439.68 L72.01,439.58 L72.07,439.48 L72.14,439.40 L72.59,439.34 L73.63,439.13 L74.51,438.55 L75.09,437.67 L75.30,436.63 L75.09,435.59 L74.51,434.72 L73.63,434.13 L72.59,433.92 L72.60,433.77 L72.61,433.78 L72.61,433.88 L72.62,433.88 L72.63,433.73 L71.59,433.52 L70.71,432.94 L70.12,432.06 L69.92,431.02 L70.12,429.98 L70.71,429.11 L71.59,428.52 L72.63,428.31 L72.62,428.77 L72.61,428.65 L72.61,428.17 L72.60,428.05 L73.17,428.50 L73.99,428.34 L74.68,427.88 L75.14,427.19 L75.30,426.38 L75.14,425.56 L74.68,424.87 L73.99,424.41 L73.17,424.25 L73.06,424.36 L72.94,423.94 L72.82,423.52 L72.70,423.63 L71.89,423.47 L71.20,423.00 L70.74,422.31 L70.58,421.50 L70.74,420.69 L71.20,420.00 L71.89,419.54 L72.70,419.38 L72.82,419.33 L72.94,419.69 L73.06,420.04 L75.30,420.00 L75.30,419.00 L75.30,418.00 Z" fill="#fbfbfb" stroke="#242424" stroke-width="2.5" stroke-linejoin="round"/>
<path d="M77.30,417.00 L77.61,416.81 L77.99,416.54 L78.45,416.22 L78.96,415.86 L79.51,415.48 L80.10,415.11 L80.72,414.75 L81.35,414.44 L81.98,414.18 L82.60,414.00 L83.23,413.87 L83.89,413.77 L84.58,413.69 L85.28,413.65 L85.99,413.64 L86.72,413.67 L87.45,413.75 L88.17,413.87 L88.89,414.06 L89.60,414.30 L90.30,414.61 L91.02,414.98 L91.73,415.41 L92.45,415.89 L93.16,416.42 L93.87,416.98 L94.57,417.58 L95.26,418.20 L95.94,418.84 L96.60,419.50 L97.24,420.18 L97.86,420.90 L98.47,421.66 L99.07,422.45 L99.66,423.26 L100.25,424.09 L100.83,424.94 L101.42,425.79 L102.00,426.65 L102.60,427.50 L103.20,428.35 L103.82,429.20 L104.43,430.05 L105.05,430.91 L105.66,431.78 L106.27,432.67 L106.87,433.58 L107.46,434.52 L108.04,435.49 L108.60,436.50 L109.15,437.55 L109.70,438.63 L110.24,439.75 L110.77,440.90 L111.29,442.06 L111.79,443.24 L112.28,444.43 L112.74,445.63 L113.19,446.82 L113.60,448.00 L114.00,449.18 L114.38,450.37 L114.76,451.56 L115.11,452.76 L115.44,453.97 L115.75,455.18 L116.02,456.38 L116.26,457.59 L116.45,458.80 L116.60,460.00 L116.70,461.20 L116.76,462.40 L116.79,463.60 L116.77,464.80 L116.72,466.00 L116.65,467.20 L116.54,468.40 L116.42,469.60 L116.27,470.80 L116.10,472.00 L115.91,473.21 L115.70,474.43 L115.46,475.66 L115.20,476.90 L114.91,478.12 L114.60,479.34 L114.26,480.55 L113.90,481.73 L113.51,482.88 L113.10,484.00 L112.66,485.09 L112.20,486.18 L111.71,487.24 L111.20,488.29 L110.66,489.31 L110.10,490.31 L109.51,491.28 L108.90,492.22 L108.26,493.13 L107.60,494.00 L106.91,494.84 L106.18,495.64 L105.42,496.42 L104.63,497.16 L103.82,497.88 L102.99,498.56 L102.15,499.21 L101.30,499.84 L100.45,500.44 L99.60,501.00 L98.74,501.54 L97.85,502.05 L96.94,502.53 L96.02,502.98 L95.10,503.41 L94.18,503.80 L93.26,504.15 L92.35,504.47 L91.46,504.76 L90.60,505.00 L89.75,505.21 L88.89,505.37 L88.04,505.50 L87.20,505.60 L86.37,505.66 L85.56,505.68 L84.77,505.68 L84.01,505.65 L83.29,505.59 L82.60,505.50 L81.94,505.36 L81.28,505.15 L80.64,504.89 L80.03,504.60 L79.45,504.28 L78.91,503.96 L78.42,503.66 L77.98,503.39 L77.60,503.16 L77.30,503.00 L77.30,500.13 L77.30,497.27 L77.30,494.40 L77.30,491.53 L77.30,488.67 L77.30,485.80 L77.30,482.93 L77.30,480.07 L77.30,477.20 L77.30,474.33 L77.30,471.47 L77.30,468.60 L77.30,465.73 L77.30,462.87 L77.30,460.00 L77.30,457.13 L77.30,454.27 L77.30,451.40 L77.30,448.53 L77.30,445.67 L77.30,442.80 L77.30,439.93 L77.30,437.07 L77.30,434.20 L77.30,431.33 L77.30,428.47 L77.30,425.60 L77.30,422.73 L77.30,419.87 Z" fill="none" stroke="#888" stroke-width="3.6" stroke-opacity="0.35" stroke-linejoin="round"/>
<path d="M77.30,417.00 L79.94,417.96 L79.39,417.28 L79.19,416.53 L79.42,415.76 L80.09,415.12 L80.95,414.83 L81.84,414.98 L82.53,415.54 L83.00,416.34 L83.37,416.95 L83.69,417.57 L83.98,418.22 L84.40,418.83 L84.63,419.50 L84.84,420.16 L85.00,420.83 L85.16,421.50 L85.28,422.17 L85.61,422.83 L85.67,423.51 L85.70,424.19 L85.98,424.87 L85.85,425.78 L86.01,426.55 L85.52,427.03 L85.47,427.20 L85.42,427.02 L85.36,426.49 L85.26,425.65 L85.78,424.89 L85.80,424.16 L86.15,423.56 L86.47,422.94 L86.74,422.31 L86.69,421.57 L86.89,420.92 L87.05,420.25 L86.95,419.52 L87.02,418.84 L87.04,418.15 L87.00,417.45 L86.81,416.74 L86.68,416.20 L86.90,415.25 L87.52,414.51 L88.39,414.13 L89.35,414.22 L90.17,414.76 L90.64,415.62 L90.66,416.58 L90.33,417.51 L90.14,418.02 L89.92,418.51 L89.64,418.97 L89.32,419.40 L88.98,419.81 L88.66,420.24 L88.39,420.70 L88.16,421.19 L87.97,421.70 L87.47,422.53 L87.35,423.44 L87.40,424.16 L87.64,424.61 L88.19,424.83 L88.94,424.77 L89.84,424.48 L90.58,423.86 L90.85,423.38 L91.14,422.91 L91.52,422.54 L91.95,422.21 L92.45,421.96 L92.90,421.64 L93.29,421.27 L93.60,420.83 L94.22,419.88 L94.84,419.45 L95.56,419.27 L96.30,419.41 L96.92,419.84 L97.31,420.49 L97.40,421.24 L97.17,421.95 L96.69,422.54 L96.14,422.89 L95.57,423.22 L94.93,423.47 L94.26,423.68 L93.55,423.85 L92.87,424.07 L92.18,424.27 L91.54,424.55 L90.98,424.90 L90.42,425.26 L89.90,425.66 L89.47,426.28 L89.24,426.95 L89.20,427.52 L89.32,427.89 L89.75,428.19 L90.33,428.25 L91.03,428.13 L91.66,427.73 L92.27,427.45 L92.85,427.15 L93.51,426.95 L94.18,426.76 L94.88,426.62 L95.59,426.50 L96.31,426.38 L96.99,426.23 L97.65,426.03 L98.28,425.80 L98.94,425.51 L99.61,425.21 L100.34,425.20 L101.02,425.47 L101.55,425.98 L101.83,426.65 L101.85,427.39 L101.58,428.07 L101.08,428.60 L100.61,429.37 L100.14,430.13 L99.65,430.87 L99.16,431.61 L98.66,432.33 L98.15,433.03 L97.63,433.72 L97.09,434.40 L96.56,435.07 L96.02,435.74 L95.50,436.43 L94.98,437.12 L94.45,437.82 L93.94,438.52 L93.44,439.25 L92.93,439.96 L92.42,440.67 L91.91,441.20 L91.61,441.83 L91.52,442.41 L91.68,442.92 L92.07,443.25 L92.59,443.32 L93.26,443.23 L93.94,442.98 L94.54,442.37 L95.13,441.75 L95.71,441.13 L96.25,440.42 L96.83,439.80 L97.41,439.18 L98.00,438.56 L98.54,437.89 L99.12,437.26 L99.68,436.62 L100.22,435.94 L100.76,435.27 L101.29,434.58 L101.80,433.87 L102.31,433.15 L102.79,432.41 L103.17,431.74 L103.88,431.41 L104.67,431.39 L105.40,431.67 L105.96,432.22 L106.27,432.94 L106.26,433.72 L105.94,434.44 L105.37,434.97 L104.78,435.01 L104.30,435.21 L103.94,435.60 L103.66,436.13 L103.38,436.65 L103.02,437.05 L102.52,437.22 L101.95,437.29 L101.38,437.83 L101.03,438.49 L100.93,439.17 L101.11,439.80 L101.56,440.30 L102.20,440.58 L102.96,440.62 L103.71,440.39 L104.24,440.29 L104.73,440.12 L105.14,439.79 L105.50,439.36 L105.85,438.91 L106.26,438.59 L106.74,438.40 L107.20,438.38 L107.99,438.15 L108.80,438.23 L109.51,438.63 L110.01,439.29 L110.21,440.08 L110.09,440.90 L109.65,441.59 L108.98,442.07 L108.49,442.23 L108.01,442.40 L107.54,442.61 L107.09,442.84 L106.63,443.07 L106.17,443.27 L105.69,443.45 L105.20,443.60 L104.53,444.08 L104.07,444.73 L103.90,445.48 L104.03,446.20 L104.46,446.83 L105.12,447.23 L105.91,447.35 L106.72,447.20 L107.12,446.83 L107.56,446.57 L108.07,446.48 L108.64,446.54 L109.21,446.59 L109.72,446.50 L110.17,446.26 L110.26,445.99 L111.20,445.82 L112.13,446.02 L112.90,446.57 L113.39,447.39 L113.52,448.33 L113.27,449.25 L112.68,450.00 L111.85,450.46 L111.22,450.74 L110.59,451.00 L109.95,451.24 L109.31,451.45 L108.65,451.63 L107.99,451.80 L107.32,451.95 L106.66,452.09 L105.99,452.25 L105.34,452.43 L104.69,452.64 L104.05,452.88 L103.42,453.15 L102.80,453.43 L101.96,453.86 L101.34,454.53 L101.05,455.36 L101.09,456.15 L101.48,456.81 L102.15,457.24 L103.03,457.48 L103.96,457.36 L104.63,457.21 L105.29,457.05 L105.95,456.89 L106.61,456.72 L107.26,456.54 L107.92,456.36 L108.57,456.17 L109.23,455.99 L109.88,455.80 L110.54,455.63 L111.20,455.46 L111.86,455.30 L112.52,455.14 L113.46,454.92 L114.30,454.87 L115.09,455.15 L115.70,455.72 L116.04,456.48 L116.04,457.32 L115.70,458.09 L115.08,458.65 L114.29,458.93 L113.55,459.46 L112.80,459.92 L112.04,460.36 L111.27,460.75 L110.50,461.08 L109.71,461.35 L108.92,461.58 L108.14,461.84 L107.34,462.01 L106.55,462.17 L105.75,462.44 L104.96,462.64 L104.17,462.89 L103.37,463.16 L102.57,463.35 L101.77,463.67 L100.96,463.88 L100.13,464.04 L99.43,464.26 L98.95,464.71 L98.77,465.18 L98.90,465.69 L99.32,466.22 L99.99,466.65 L100.80,466.81 L101.63,466.57 L102.45,466.42 L103.28,466.19 L104.10,465.98 L104.91,465.80 L105.73,465.64 L106.54,465.48 L107.35,465.33 L108.17,465.13 L108.98,464.97 L109.79,464.78 L110.60,464.56 L111.41,464.31 L112.21,464.02 L113.02,463.69 L113.82,463.35 L114.57,462.96 L115.42,463.09 L116.14,463.55 L116.61,464.26 L116.76,465.10 L116.56,465.94 L116.04,466.61 L115.30,467.04 L114.45,467.13 L113.88,466.72 L113.31,466.42 L112.73,466.27 L112.14,466.27 L111.55,466.32 L110.95,466.41 L110.36,466.40 L109.78,466.23 L109.21,465.95 L108.64,465.64 L107.79,465.71 L107.05,466.03 L106.53,466.60 L106.31,467.26 L106.40,467.96 L106.81,468.64 L107.47,469.12 L108.28,469.39 L108.87,469.43 L109.45,469.54 L110.03,469.72 L110.58,470.02 L111.13,470.35 L111.68,470.70 L112.23,470.99 L112.80,471.20 L113.38,471.31 L113.87,471.35 L114.72,471.64 L115.38,472.24 L115.76,473.05 L115.79,473.94 L115.46,474.78 L114.82,475.41 L113.99,475.74 L113.10,475.73 L112.35,475.67 L111.61,475.59 L110.88,475.47 L110.16,475.28 L109.45,475.05 L108.76,474.73 L108.07,474.40 L107.39,474.05 L106.71,473.67 L106.01,473.35 L105.31,473.09 L104.60,472.85 L103.88,472.68 L103.14,472.57 L102.40,472.51 L101.66,472.41 L100.77,472.42 L99.97,472.62 L99.35,473.10 L99.04,473.68 L99.07,474.33 L99.41,475.01 L100.05,475.51 L100.85,475.91 L101.59,476.04 L102.31,476.19 L103.03,476.38 L103.74,476.61 L104.43,476.90 L105.12,477.18 L105.78,477.55 L106.46,477.90 L107.13,478.25 L107.79,478.63 L108.47,478.94 L109.15,479.24 L109.85,479.49 L110.57,479.70 L111.29,479.86 L112.47,480.15 L113.10,480.48 L113.56,481.02 L113.76,481.70 L113.67,482.41 L113.31,483.02 L112.74,483.44 L112.05,483.60 L111.34,483.47 L110.66,483.45 L109.98,483.41 L109.30,483.38 L108.60,483.38 L107.92,483.35 L107.24,483.30 L106.54,483.29 L105.87,483.21 L105.21,483.12 L104.53,483.07 L103.86,482.84 L103.19,482.88 L102.62,483.17 L102.26,483.58 L102.15,484.10 L102.27,484.73 L102.64,485.28 L103.23,485.66 L103.98,485.64 L104.71,485.63 L105.37,485.76 L105.98,485.98 L106.54,486.30 L107.10,486.63 L107.71,486.85 L108.40,486.92 L109.15,486.86 L109.52,486.49 L110.24,487.02 L110.70,487.78 L110.81,488.66 L110.55,489.52 L109.96,490.20 L109.15,490.58 L108.27,490.59 L107.43,490.27 L106.85,490.21 L106.33,490.07 L105.89,489.79 L105.52,489.41 L105.15,489.04 L104.71,488.76 L104.19,488.62 L103.64,488.52 L102.81,488.18 L102.01,488.02 L101.29,488.16 L100.76,488.57 L100.56,489.09 L100.59,489.80 L100.88,490.60 L101.47,491.25 L101.79,491.66 L102.18,492.01 L102.62,492.30 L103.16,492.46 L103.68,492.67 L104.16,492.90 L104.54,493.26 L105.17,493.88 L105.62,494.48 L105.81,495.20 L105.69,495.93 L105.27,496.55 L104.64,496.95 L103.89,497.06 L103.17,496.86 L102.57,496.40 L101.84,496.13 L101.13,495.83 L100.50,495.48 L99.89,495.09 L99.38,494.63 L98.85,494.18 L98.29,493.75 L97.75,493.32 L97.15,492.92 L96.49,492.56 L95.81,492.22 L95.33,491.65 L94.70,491.33 L94.10,491.23 L93.58,491.40 L93.22,491.80 L93.10,492.37 L93.15,493.06 L93.48,493.72 L93.80,494.32 L94.27,494.83 L94.77,495.33 L95.38,495.76 L96.08,496.12 L96.78,496.48 L97.50,496.82 L98.16,497.20 L98.73,497.63 L99.23,498.10 L99.56,498.47 L99.91,499.22 L99.92,500.04 L99.61,500.80 L99.01,501.36 L98.24,501.64 L97.42,501.57 L96.69,501.18 L96.18,500.53 L96.00,500.03 L95.87,499.50 L95.84,498.91 L95.92,498.27 L96.02,497.60 L96.02,496.99 L95.95,496.41 L95.80,495.87 L95.58,495.38 L95.02,494.78 L94.41,494.35 L93.74,494.20 L93.11,494.36 L92.64,494.79 L92.38,495.43 L92.41,496.17 L92.60,496.97 L92.51,497.60 L92.43,498.20 L92.43,498.78 L92.60,499.29 L92.76,499.79 L92.87,500.32 L92.90,500.88 L92.77,501.50 L92.41,501.81 L92.59,502.76 L92.38,503.69 L91.79,504.45 L90.94,504.90 L89.97,504.96 L89.09,504.59 L88.43,503.89 L88.07,502.98 L88.04,502.35 L88.04,501.72 L88.09,501.08 L88.12,500.44 L88.18,499.79 L88.35,499.12 L88.42,498.47 L88.43,497.82 L88.49,497.16 L88.50,496.52 L88.32,495.92 L88.24,495.29 L87.97,494.38 L87.46,493.68 L86.94,493.24 L86.41,493.13 L85.98,493.37 L85.69,493.93 L85.43,494.75 L85.48,495.70 L85.31,496.32 L85.16,496.95 L84.92,497.57 L84.92,498.20 L84.85,498.82 L84.83,499.44 L84.81,500.07 L84.74,500.69 L84.58,501.31 L84.41,501.92 L84.13,502.53 L83.55,505.61 L82.55,505.49 L81.58,505.25 L80.65,504.89 L79.76,504.45 L78.89,503.95 L78.04,503.42 L77.30,502.85 L77.30,501.85 L77.30,500.85 L80.01,500.00 L78.97,499.79 L78.09,499.21 L77.51,498.33 L77.30,497.29 L77.51,496.25 L78.09,495.38 L78.97,494.79 L80.01,494.58 L79.36,494.89 L78.71,494.44 L78.06,494.75 L79.09,494.54 L79.97,493.95 L80.56,493.07 L80.77,492.04 L80.56,491.00 L79.97,490.12 L79.09,489.53 L78.06,489.33 L78.71,489.07 L79.36,489.42 L80.41,489.16 L79.22,488.93 L78.21,488.25 L77.54,487.24 L77.30,486.05 L77.54,484.86 L78.21,483.85 L79.22,483.17 L80.41,482.94 L80.41,482.72 L80.41,482.85 L80.41,483.30 L80.40,483.76 L80.40,483.88 L80.40,483.67 L81.59,483.43 L82.60,482.75 L83.28,481.74 L83.51,480.55 L83.28,479.36 L82.60,478.35 L81.59,477.67 L80.40,477.44 L80.40,477.07 L80.40,476.94 L80.41,477.07 L80.41,477.20 L80.41,477.08 L79.70,476.71 L78.78,476.52 L78.00,476.00 L77.48,475.23 L77.30,474.31 L77.48,473.39 L78.00,472.61 L78.78,472.09 L79.70,471.91 L79.97,472.16 L80.24,472.07 L80.51,471.63 L80.78,471.20 L81.05,471.11 L81.32,471.36 L82.24,471.18 L83.01,470.66 L83.53,469.88 L83.72,468.96 L83.53,468.04 L83.01,467.26 L82.24,466.74 L81.32,466.56 L81.05,467.07 L80.78,467.17 L80.51,466.83 L80.24,466.50 L79.97,466.59 L79.48,467.11 L78.64,466.94 L77.94,466.47 L77.47,465.76 L77.30,464.93 L77.47,464.10 L77.94,463.39 L78.64,462.92 L79.48,462.75 L79.40,462.76 L79.32,462.42 L79.24,462.09 L79.16,462.09 L79.99,461.93 L80.70,461.46 L81.17,460.75 L81.33,459.92 L81.17,459.08 L80.70,458.38 L79.99,457.91 L79.16,457.74 L79.24,457.70 L79.32,458.07 L79.40,458.44 L79.30,458.40 L78.54,458.25 L77.89,457.81 L77.45,457.16 L77.30,456.40 L77.45,455.63 L77.89,454.98 L78.54,454.55 L79.30,454.39 L79.09,454.56 L78.87,454.06 L78.66,454.23 L79.42,454.07 L80.07,453.64 L80.51,452.99 L80.66,452.22 L80.51,451.46 L80.07,450.81 L79.42,450.37 L78.66,450.22 L78.87,450.36 L79.09,450.24 L79.67,450.39 L78.76,450.21 L77.99,449.69 L77.48,448.92 L77.30,448.01 L77.48,447.11 L77.99,446.34 L78.76,445.82 L79.67,445.64 L79.69,445.33 L79.71,444.98 L79.72,444.63 L79.74,444.32 L80.65,444.14 L81.42,443.62 L81.93,442.85 L82.11,441.94 L81.93,441.04 L81.42,440.27 L80.65,439.75 L79.74,439.57 L79.72,439.98 L79.71,440.23 L79.69,440.49 L80.28,440.90 L79.14,440.67 L78.17,440.02 L77.53,439.05 L77.30,437.91 L77.53,436.77 L78.17,435.80 L79.14,435.15 L80.28,434.93 L79.54,434.83 L78.79,435.80 L78.05,435.70 L79.19,435.47 L80.16,434.83 L80.80,433.86 L81.03,432.72 L80.80,431.57 L80.16,430.61 L79.19,429.96 L78.05,429.73 L78.79,429.75 L79.54,428.94 L79.52,428.96 L78.67,428.79 L77.95,428.31 L77.47,427.59 L77.30,426.74 L77.47,425.89 L77.95,425.17 L78.67,424.68 L79.52,424.52 L79.29,423.95 L79.07,424.54 L78.84,423.98 L79.69,423.81 L80.41,423.32 L80.89,422.60 L81.06,421.75 L80.89,420.90 L80.41,420.18 L79.69,419.70 L78.84,419.53 L79.07,419.45 L79.29,420.16 L77.30,420.07 L77.30,419.07 L77.30,418.07 Z" fill="#fbfbfb" stroke="#242424" stroke-width="2.5" stroke-linejoin="round"/>
<rect x="67.70" y="432.45" width="2.90" height="2.90" fill="#e04838" fill-opacity="1.0"/>
<rect x="70.15" y="432.45" width="2.90" height="2.90" fill="#8a0c0c" fill-opacity="1.0"/>
<rect x="77.50" y="432.45" width="2.90" height="2.90" fill="#8a0c0c" fill-opacity="1.0"/>
<rect x="79.95" y="432.45" width="2.90" height="2.90" fill="#e04838" fill-opacity="1.0"/>
<rect x="67.70" y="434.90" width="2.90" height="2.90" fill="#c41a14" fill-opacity="1.0"/>
<rect x="70.15" y="434.90" width="2.90" height="2.90" fill="#8a0c0c" fill-opacity="1.0"/>
<rect x="72.60" y="434.90" width="2.90" height="2.90" fill="#e04838" fill-opacity="1.0"/>
<rect x="77.50" y="434.90" width="2.90" height="2.90" fill="#8a0c0c" fill-opacity="1.0"/>
<rect x="79.95" y="434.90" width="2.90" height="2.90" fill="#c41a14" fill-opacity="1.0"/>
<rect x="65.25" y="437.35" width="2.90" height="2.90" fill="#e04838" fill-opacity="1.0"/>
<rect x="67.70" y="437.35" width="2.90" height="2.90" fill="#c41a14" fill-opacity="1.0"/>
<rect x="70.15" y="437.35" width="2.90" height="2.90" fill="#c41a14" fill-opacity="1.0"/>
<rect x="72.60" y="437.35" width="2.90" height="2.90" fill="#e04838" fill-opacity="1.0"/>
<rect x="75.05" y="437.35" width="2.90" height="2.90" fill="#8a0c0c" fill-opacity="1.0"/>
<rect x="77.50" y="437.35" width="2.90" height="2.90" fill="#c41a14" fill-opacity="1.0"/>
<rect x="79.95" y="437.35" width="2.90" height="2.90" fill="#c41a14" fill-opacity="1.0"/>
<rect x="82.40" y="437.35" width="2.90" height="2.90" fill="#e04838" fill-opacity="1.0"/>
<rect x="67.70" y="439.80" width="2.90" height="2.90" fill="#e04838" fill-opacity="1.0"/>
<rect x="70.15" y="439.80" width="2.90" height="2.90" fill="#f07020" fill-opacity="1.0"/>
<rect x="72.60" y="439.80" width="2.90" height="2.90" fill="#f07020" fill-opacity="1.0"/>
<rect x="75.05" y="439.80" width="2.90" height="2.90" fill="#c41a14" fill-opacity="1.0"/>
<rect x="77.50" y="439.80" width="2.90" height="2.90" fill="#f07020" fill-opacity="1.0"/>
<rect x="79.95" y="439.80" width="2.90" height="2.90" fill="#f07020" fill-opacity="1.0"/>
<rect x="82.40" y="439.80" width="2.90" height="2.90" fill="#e04838" fill-opacity="1.0"/>
<rect x="65.25" y="442.25" width="2.90" height="2.90" fill="#e04838" fill-opacity="1.0"/>
<rect x="67.70" y="442.25" width="2.90" height="2.90" fill="#f07020" fill-opacity="1.0"/>
<rect x="70.15" y="442.25" width="2.90" height="2.90" fill="#f07020" fill-opacity="1.0"/>
<rect x="72.60" y="442.25" width="2.90" height="2.90" fill="#f07020" fill-opacity="1.0"/>
<rect x="75.05" y="442.25" width="2.90" height="2.90" fill="#f07020" fill-opacity="1.0"/>
<rect x="77.50" y="442.25" width="2.90" height="2.90" fill="#f07020" fill-opacity="1.0"/>
<rect x="79.95" y="442.25" width="2.90" height="2.90" fill="#f07020" fill-opacity="1.0"/>
<rect x="82.40" y="442.25" width="2.90" height="2.90" fill="#f07020" fill-opacity="1.0"/>
<rect x="84.85" y="442.25" width="2.90" height="2.90" fill="#e04838" fill-opacity="1.0"/>
<rect x="65.25" y="444.70" width="2.90" height="2.90" fill="#f07020" fill-opacity="1.0"/>
<rect x="67.70" y="444.70" width="2.90" height="2.90" fill="#f07020" fill-opacity="1.0"/>
<rect x="70.15" y="444.70" width="2.90" height="2.90" fill="#f07020" fill-opacity="1.0"/>
<rect x="72.60" y="444.70" width="2.90" height="2.90" fill="#f07020" fill-opacity="1.0"/>
<rect x="75.05" y="444.70" width="2.90" height="2.90" fill="#f07020" fill-opacity="1.0"/>
<rect x="77.50" y="444.70" width="2.90" height="2.90" fill="#f07020" fill-opacity="1.0"/>
<rect x="79.95" y="444.70" width="2.90" height="2.90" fill="#f07020" fill-opacity="1.0"/>
<rect x="82.40" y="444.70" width="2.90" height="2.90" fill="#f07020" fill-opacity="1.0"/>
<rect x="84.85" y="444.70" width="2.90" height="2.90" fill="#f07020" fill-opacity="1.0"/>
<rect x="65.25" y="447.15" width="2.90" height="2.90" fill="#f07020" fill-opacity="1.0"/>
<rect x="67.70" y="447.15" width="2.90" height="2.90" fill="#f07020" fill-opacity="1.0"/>
<rect x="70.15" y="447.15" width="2.90" height="2.90" fill="#f49048" fill-opacity="1.0"/>
<rect x="72.60" y="447.15" width="2.90" height="2.90" fill="#f07020" fill-opacity="1.0"/>
<rect x="75.05" y="447.15" width="2.90" height="2.90" fill="#f07020" fill-opacity="1.0"/>
<rect x="77.50" y="447.15" width="2.90" height="2.90" fill="#f07020" fill-opacity="1.0"/>
<rect x="79.95" y="447.15" width="2.90" height="2.90" fill="#f07020" fill-opacity="1.0"/>
<rect x="82.40" y="447.15" width="2.90" height="2.90" fill="#f07020" fill-opacity="1.0"/>
<rect x="84.85" y="447.15" width="2.90" height="2.90" fill="#f49048" fill-opacity="1.0"/>
<rect x="65.25" y="449.60" width="2.90" height="2.90" fill="#f07020" fill-opacity="1.0"/>
<rect x="67.70" y="449.60" width="2.90" height="2.90" fill="#f49048" fill-opacity="1.0"/>
<rect x="70.15" y="449.60" width="2.90" height="2.90" fill="#f07020" fill-opacity="1.0"/>
<rect x="72.60" y="449.60" width="2.90" height="2.90" fill="#f07020" fill-opacity="1.0"/>
<rect x="75.05" y="449.60" width="2.90" height="2.90" fill="#f07020" fill-opacity="1.0"/>
<rect x="77.50" y="449.60" width="2.90" height="2.90" fill="#f07020" fill-opacity="1.0"/>
<rect x="79.95" y="449.60" width="2.90" height="2.90" fill="#f07020" fill-opacity="1.0"/>
<rect x="82.40" y="449.60" width="2.90" height="2.90" fill="#f07020" fill-opacity="1.0"/>
<rect x="84.85" y="449.60" width="2.90" height="2.90" fill="#f07020" fill-opacity="1.0"/>
<rect x="65.25" y="452.05" width="2.90" height="2.90" fill="#f49048" fill-opacity="1.0"/>
<rect x="67.70" y="452.05" width="2.90" height="2.90" fill="#f07020" fill-opacity="1.0"/>
<rect x="70.15" y="452.05" width="2.90" height="2.90" fill="#f07020" fill-opacity="1.0"/>
<rect x="72.60" y="452.05" width="2.90" height="2.90" fill="#f07020" fill-opacity="1.0"/>
<rect x="75.05" y="452.05" width="2.90" height="2.90" fill="#f07020" fill-opacity="1.0"/>
<rect x="77.50" y="452.05" width="2.90" height="2.90" fill="#f07020" fill-opacity="1.0"/>
<rect x="79.95" y="452.05" width="2.90" height="2.90" fill="#f49048" fill-opacity="1.0"/>
<rect x="82.40" y="452.05" width="2.90" height="2.90" fill="#f07020" fill-opacity="1.0"/>
<rect x="84.85" y="452.05" width="2.90" height="2.90" fill="#f49048" fill-opacity="1.0"/>
<rect x="67.70" y="454.50" width="2.90" height="2.90" fill="#f49048" fill-opacity="1.0"/>
<rect x="70.15" y="454.50" width="2.90" height="2.90" fill="#f07020" fill-opacity="1.0"/>
<rect x="72.60" y="454.50" width="2.90" height="2.90" fill="#f07020" fill-opacity="1.0"/>
<rect x="75.05" y="454.50" width="2.90" height="2.90" fill="#f07020" fill-opacity="1.0"/>
<rect x="77.50" y="454.50" width="2.90" height="2.90" fill="#f07020" fill-opacity="1.0"/>
<rect x="79.95" y="454.50" width="2.90" height="2.90" fill="#f07020" fill-opacity="1.0"/>
<rect x="82.40" y="454.50" width="2.90" height="2.90" fill="#f49048" fill-opacity="1.0"/>
<rect x="62.80" y="456.95" width="2.90" height="2.90" fill="#f8b888" fill-opacity="1.0"/>
<rect x="65.25" y="456.95" width="2.90" height="2.90" fill="#f8b888" fill-opacity="1.0"/>
<rect x="70.15" y="456.95" width="2.90" height="2.90" fill="#f8b888" fill-opacity="1.0"/>
<rect x="72.60" y="456.95" width="2.90" height="2.90" fill="#fac8a0" fill-opacity="1.0"/>
<rect x="75.05" y="456.95" width="2.90" height="2.90" fill="#fac8a0" fill-opacity="1.0"/>
<rect x="77.50" y="456.95" width="2.90" height="2.90" fill="#fac8a0" fill-opacity="1.0"/>
<rect x="79.95" y="456.95" width="2.90" height="2.90" fill="#fac8a0" fill-opacity="1.0"/>
<rect x="82.40" y="456.95" width="2.90" height="2.90" fill="#fac8a0" fill-opacity="1.0"/>
<rect x="84.85" y="456.95" width="2.90" height="2.90" fill="#f8b888" fill-opacity="1.0"/>
<rect x="62.80" y="459.40" width="2.90" height="2.90" fill="#f8b888" fill-opacity="1.0"/>
<rect x="65.25" y="459.40" width="2.90" height="2.90" fill="#fac8a0" fill-opacity="1.0"/>
<rect x="67.70" y="459.40" width="2.90" height="2.90" fill="#fde6d4" fill-opacity="1.0"/>
<rect x="70.15" y="459.40" width="2.90" height="2.90" fill="#fde6d4" fill-opacity="1.0"/>
<rect x="72.60" y="459.40" width="2.90" height="2.90" fill="#fde6d4" fill-opacity="1.0"/>
<rect x="75.05" y="459.40" width="2.90" height="2.90" fill="#ffffff" fill-opacity="1.0"/>
<rect x="77.50" y="459.40" width="2.90" height="2.90" fill="#ffffff" fill-opacity="1.0"/>
<rect x="79.95" y="459.40" width="2.90" height="2.90" fill="#fde6d4" fill-opacity="1.0"/>
<rect x="82.40" y="459.40" width="2.90" height="2.90" fill="#fde6d4" fill-opacity="1.0"/>
<rect x="84.85" y="459.40" width="2.90" height="2.90" fill="#fac8a0" fill-opacity="1.0"/>
<rect x="87.30" y="459.40" width="2.90" height="2.90" fill="#fac8a0" fill-opacity="1.0"/>
<rect x="62.80" y="461.85" width="2.90" height="2.90" fill="#f8b888" fill-opacity="1.0"/>
<rect x="65.25" y="461.85" width="2.90" height="2.90" fill="#fde6d4" fill-opacity="1.0"/>
<rect x="67.70" y="461.85" width="2.90" height="2.90" fill="#fde6d4" fill-opacity="1.0"/>
<rect x="70.15" y="461.85" width="2.90" height="2.90" fill="#ffffff" fill-opacity="1.0"/>
<rect x="72.60" y="461.85" width="2.90" height="2.90" fill="#ffffff" fill-opacity="1.0"/>
<rect x="75.05" y="461.85" width="2.90" height="2.90" fill="#ffffff" fill-opacity="1.0"/>
<rect x="77.50" y="461.85" width="2.90" height="2.90" fill="#ffffff" fill-opacity="1.0"/>
<rect x="79.95" y="461.85" width="2.90" height="2.90" fill="#ffffff" fill-opacity="1.0"/>
<rect x="82.40" y="461.85" width="2.90" height="2.90" fill="#fde6d4" fill-opacity="1.0"/>
<rect x="84.85" y="461.85" width="2.90" height="2.90" fill="#fde6d4" fill-opacity="1.0"/>
<rect x="87.30" y="461.85" width="2.90" height="2.90" fill="#f8b888" fill-opacity="1.0"/>
<rect x="62.80" y="464.30" width="2.90" height="2.90" fill="#f07020" fill-opacity="1.0"/>
<rect x="65.25" y="464.30" width="2.90" height="2.90" fill="#f07020" fill-opacity="1.0"/>
<rect x="67.70" y="464.30" width="2.90" height="2.90" fill="#f07020" fill-opacity="1.0"/>
<rect x="70.15" y="464.30" width="2.90" height="2.90" fill="#f49048" fill-opacity="1.0"/>
<rect x="72.60" y="464.30" width="2.90" height="2.90" fill="#f07020" fill-opacity="1.0"/>
<rect x="75.05" y="464.30" width="2.90" height="2.90" fill="#f07020" fill-opacity="1.0"/>
<rect x="77.50" y="464.30" width="2.90" height="2.90" fill="#f07020" fill-opacity="1.0"/>
<rect x="79.95" y="464.30" width="2.90" height="2.90" fill="#f49048" fill-opacity="1.0"/>
<rect x="82.40" y="464.30" width="2.90" height="2.90" fill="#f07020" fill-opacity="1.0"/>
<rect x="84.85" y="464.30" width="2.90" height="2.90" fill="#f07020" fill-opacity="1.0"/>
<rect x="87.30" y="464.30" width="2.90" height="2.90" fill="#f07020" fill-opacity="1.0"/>
<rect x="62.80" y="466.75" width="2.90" height="2.90" fill="#f49048" fill-opacity="1.0"/>
<rect x="65.25" y="466.75" width="2.90" height="2.90" fill="#f07020" fill-opacity="1.0"/>
<rect x="67.70" y="466.75" width="2.90" height="2.90" fill="#f07020" fill-opacity="1.0"/>
<rect x="70.15" y="466.75" width="2.90" height="2.90" fill="#f07020" fill-opacity="1.0"/>
<rect x="72.60" y="466.75" width="2.90" height="2.90" fill="#f07020" fill-opacity="1.0"/>
<rect x="75.05" y="466.75" width="2.90" height="2.90" fill="#f07020" fill-opacity="1.0"/>
<rect x="77.50" y="466.75" width="2.90" height="2.90" fill="#f07020" fill-opacity="1.0"/>
<rect x="79.95" y="466.75" width="2.90" height="2.90" fill="#f07020" fill-opacity="1.0"/>
<rect x="82.40" y="466.75" width="2.90" height="2.90" fill="#f07020" fill-opacity="1.0"/>
<rect x="84.85" y="466.75" width="2.90" height="2.90" fill="#f07020" fill-opacity="1.0"/>
<rect x="87.30" y="466.75" width="2.90" height="2.90" fill="#f49048" fill-opacity="1.0"/>
<rect x="65.25" y="469.20" width="2.90" height="2.90" fill="#f07020" fill-opacity="1.0"/>
<rect x="67.70" y="469.20" width="2.90" height="2.90" fill="#f07020" fill-opacity="1.0"/>
<rect x="70.15" y="469.20" width="2.90" height="2.90" fill="#f07020" fill-opacity="1.0"/>
<rect x="72.60" y="469.20" width="2.90" height="2.90" fill="#f07020" fill-opacity="1.0"/>
<rect x="75.05" y="469.20" width="2.90" height="2.90" fill="#f07020" fill-opacity="1.0"/>
<rect x="77.50" y="469.20" width="2.90" height="2.90" fill="#f07020" fill-opacity="1.0"/>
<rect x="79.95" y="469.20" width="2.90" height="2.90" fill="#f07020" fill-opacity="1.0"/>
<rect x="82.40" y="469.20" width="2.90" height="2.90" fill="#f07020" fill-opacity="1.0"/>
<rect x="84.85" y="469.20" width="2.90" height="2.90" fill="#f07020" fill-opacity="1.0"/>
<rect x="65.25" y="471.65" width="2.90" height="2.90" fill="#e04838" fill-opacity="1.0"/>
<rect x="67.70" y="471.65" width="2.90" height="2.90" fill="#c41a14" fill-opacity="1.0"/>
<rect x="70.15" y="471.65" width="2.90" height="2.90" fill="#f07020" fill-opacity="1.0"/>
<rect x="72.60" y="471.65" width="2.90" height="2.90" fill="#f07020" fill-opacity="1.0"/>
<rect x="75.05" y="471.65" width="2.90" height="2.90" fill="#c41a14" fill-opacity="1.0"/>
<rect x="77.50" y="471.65" width="2.90" height="2.90" fill="#c41a14" fill-opacity="1.0"/>
<rect x="79.95" y="471.65" width="2.90" height="2.90" fill="#c41a14" fill-opacity="1.0"/>
<rect x="82.40" y="471.65" width="2.90" height="2.90" fill="#e04838" fill-opacity="1.0"/>
<rect x="67.70" y="474.10" width="2.90" height="2.90" fill="#c41a14" fill-opacity="1.0"/>
<rect x="70.15" y="474.10" width="2.90" height="2.90" fill="#c41a14" fill-opacity="1.0"/>
<rect x="72.60" y="474.10" width="2.90" height="2.90" fill="#c41a14" fill-opacity="1.0"/>
<rect x="75.05" y="474.10" width="2.90" height="2.90" fill="#c41a14" fill-opacity="1.0"/>
<rect x="77.50" y="474.10" width="2.90" height="2.90" fill="#c41a14" fill-opacity="1.0"/>
<rect x="79.95" y="474.10" width="2.90" height="2.90" fill="#c41a14" fill-opacity="1.0"/>
<rect x="67.70" y="476.55" width="2.90" height="2.90" fill="#e04838" fill-opacity="1.0"/>
<rect x="70.15" y="476.55" width="2.90" height="2.90" fill="#8a0c0c" fill-opacity="1.0"/>
<rect x="72.60" y="476.55" width="2.90" height="2.90" fill="#c41a14" fill-opacity="1.0"/>
<rect x="77.50" y="476.55" width="2.90" height="2.90" fill="#8a0c0c" fill-opacity="1.0"/>
<rect x="79.95" y="476.55" width="2.90" height="2.90" fill="#c41a14" fill-opacity="1.0"/>
<rect x="70.15" y="479.00" width="2.90" height="2.90" fill="#8a0c0c" fill-opacity="1.0"/>
<rect x="77.50" y="479.00" width="2.90" height="2.90" fill="#8a0c0c" fill-opacity="1.0"/>
<line x1="76.3" y1="430" x2="76.3" y2="440" stroke="#9aa" stroke-width="0.8"/>
<line x1="76.3" y1="474" x2="76.3" y2="485" stroke="#9aa" stroke-width="0.8"/>
<rect x="69.5" y="452" width="2" height="2" fill="#111"/>
<rect x="67" y="458" width="2" height="2" fill="#111"/>
<rect x="72" y="464.5" width="2" height="2" fill="#111"/>
<rect x="80" y="464.5" width="2" height="2" fill="#111"/>
<rect x="78.5" y="440" width="2" height="2" fill="#111"/>
<rect x="69" y="435" width="2" height="2" fill="#111"/>
<rect x="46" y="447" width="5" height="7" fill="#f08080" fill-opacity="0.35"/>
<rect x="101" y="452" width="5" height="8" fill="#f08080" fill-opacity="0.35"/>
<rect x="49" y="470" width="4" height="5" fill="#f08080" fill-opacity="0.35"/>
<rect x="97" y="468" width="4" height="5" fill="#f08080" fill-opacity="0.35"/>
<rect x="58" y="490" width="6" height="5" fill="#f08080" fill-opacity="0.35"/>
<rect x="88" y="492" width="6" height="5" fill="#f08080" fill-opacity="0.35"/>
<defs><clipPath id="sagclip"><path d="M178.00,497.00 L177.86,496.65 L177.72,496.29 L177.56,495.91 L177.51,495.26 L177.65,494.51 L178.07,493.52 L178.72,492.46 L179.56,491.39 L180.34,490.52 L181.16,489.71 L181.96,488.99 L182.69,488.37 L183.36,487.85 L183.85,487.48 L184.13,487.27 L184.16,487.21 L183.95,487.31 L183.46,487.52 L182.72,487.81 L181.78,488.14 L180.68,488.47 L179.48,488.75 L178.25,488.94 L177.08,489.00 L176.06,488.91 L175.21,488.64 L174.61,488.21 L174.27,487.63 L174.19,486.94 L174.31,486.16 L174.63,485.32 L175.12,484.45 L175.73,483.63 L176.45,482.83 L177.25,482.08 L178.08,481.39 L178.87,480.79 L179.63,480.28 L180.32,479.86 L180.91,479.53 L181.38,479.28 L181.69,479.12 L181.85,479.04 L181.83,479.04 L181.65,479.11 L181.30,479.23 L180.79,479.37 L180.14,479.53 L179.37,479.68 L178.51,479.80 L177.59,479.88 L176.65,479.89 L175.72,479.84 L174.83,479.71 L174.03,479.48 L173.33,479.17 L172.79,478.77 L172.40,478.28 L172.19,477.72 L172.21,477.10 L172.61,476.38 L173.36,475.62 L174.37,474.88 L175.54,474.19 L176.77,473.61 L177.91,473.16 L178.84,472.86 L179.46,472.70 L179.73,472.67 L179.59,472.72 L179.05,472.82 L178.18,472.92 L177.07,472.97 L175.82,472.93 L174.58,472.77 L173.48,472.48 L172.63,472.05 L172.15,471.51 L172.09,470.90 L172.35,470.33 L172.91,469.84 L173.73,469.47 L174.74,469.22 L175.91,469.08 L177.18,469.06 L178.46,469.14 L179.67,469.28 L180.73,469.47 L181.61,469.68 L182.22,469.86 L182.54,469.98 L182.54,470.01 L182.23,469.92 L181.64,469.69 L180.80,469.31 L179.77,468.78 L178.63,468.11 L177.44,467.32 L176.30,466.44 L175.28,465.51 L174.45,464.57 L173.87,463.66 L173.58,462.82 L173.59,462.09 L173.89,461.48 L174.41,460.95 L175.12,460.53 L175.97,460.23 L176.91,460.06 L177.87,459.99 L178.78,460.02 L179.59,460.11 L180.24,460.24 L180.70,460.38 L180.94,460.48 L180.96,460.51 L180.77,460.45 L180.39,460.27 L179.86,459.95 L179.22,459.50 L178.55,458.91 L177.88,458.22 L177.30,457.45 L176.86,456.64 L176.65,455.99 L176.58,455.37 L176.65,454.79 L176.88,454.28 L177.22,453.85 L177.66,453.51 L178.17,453.26 L178.73,453.10 L179.33,453.03 L179.94,453.04 L180.54,453.12 L181.11,453.26 L181.62,453.44 L182.07,453.64 L182.43,453.81 L182.72,453.96 L182.89,454.08 L182.96,454.14 L182.95,454.12 L182.87,454.00 L182.67,453.74 L182.40,453.33 L182.09,452.80 L181.78,452.14 L181.52,451.42 L181.31,450.65 L181.20,449.86 L181.20,449.07 L181.32,448.37 L181.56,447.74 L181.91,447.21 L182.49,446.85 L183.33,446.76 L184.40,446.89 L185.64,447.23 L186.96,447.74 L188.20,448.38 L189.37,449.08 L190.41,449.79 L191.21,450.51 L191.98,451.19 L192.33,451.59 L192.23,451.68 L191.78,451.41 L191.10,450.75 L190.20,449.78 L189.27,448.61 L188.44,447.27 L187.74,445.90 L187.28,444.64 L187.12,443.55 L187.26,442.74 L187.71,442.27 L188.37,442.23 L189.16,442.62 L190.02,443.41 L190.90,444.50 L191.71,445.76 L192.42,447.07 L193.01,448.26 L193.43,449.23 L193.68,449.86 L193.78,450.06 L193.71,449.81 L193.53,449.12 L193.30,448.01 L193.04,446.61 L192.83,445.01 L192.74,443.36 L192.78,441.82 L193.00,440.54 L193.40,439.61 L193.94,439.13 L194.56,438.99 L195.19,439.02 L195.81,439.24 L196.39,439.61 L196.92,440.11 L197.39,440.69 L197.77,441.31 L198.08,441.93 L198.32,442.50 L198.47,442.98 L198.59,443.32 L198.65,443.52 L198.69,443.54 L198.72,443.38 L198.77,443.04 L198.85,442.54 L198.97,441.90 L199.16,441.16 L199.40,440.36 L199.72,439.53 L200.10,438.72 L200.55,437.97 L201.06,437.33 L201.61,436.81 L202.21,436.45 L202.83,436.25 L203.47,436.21 L204.13,436.31 L204.77,436.56 L205.39,436.92 L205.97,437.39 L206.50,437.92 L206.97,438.50 L207.37,439.08 L207.70,439.64 L207.96,440.13 L208.14,440.54 L208.27,440.83 L208.34,440.98 L208.38,440.99 L208.40,440.85 L208.40,440.56 L208.42,440.14 L208.46,439.59 L208.54,438.94 L208.67,438.23 L208.86,437.48 L209.12,436.71 L209.44,435.98 L209.83,435.30 L210.27,434.69 L210.77,434.19 L211.31,433.80 L211.88,433.54 L212.46,433.43 L213.06,433.50 L213.66,433.75 L214.23,434.17 L214.78,434.72 L215.30,435.41 L215.76,436.18 L216.18,437.02 L216.54,437.89 L216.98,439.19 L217.31,440.40 L217.52,441.43 L217.64,442.22 L217.67,442.70 L217.67,442.84 L217.68,442.62 L217.70,442.05 L217.80,441.16 L217.97,440.01 L218.13,439.12 L218.35,438.18 L218.63,437.21 L218.96,436.23 L219.37,435.29 L219.81,434.43 L220.32,433.65 L220.86,433.01 L221.43,432.52 L222.03,432.21 L222.63,432.09 L223.24,432.14 L223.87,432.36 L224.50,432.73 L225.10,433.24 L225.68,433.87 L226.22,434.59 L226.70,435.38 L227.13,436.20 L227.50,437.02 L227.80,437.80 L228.03,438.52 L228.21,439.13 L228.33,439.62 L228.40,439.97 L228.45,440.15 L228.46,440.16 L228.47,440.00 L228.50,439.67 L228.53,439.20 L228.60,438.60 L228.73,437.90 L228.90,437.12 L229.13,436.31 L229.42,435.49 L229.78,434.69 L230.20,433.96 L230.68,433.31 L231.20,432.78 L231.77,432.39 L232.38,432.16 L232.99,432.09 L233.62,432.32 L234.24,432.99 L234.81,434.05 L235.32,435.41 L235.74,436.95 L236.07,438.55 L236.29,440.06 L236.43,441.36 L236.48,442.33 L236.49,442.90 L236.49,443.03 L236.48,442.69 L236.52,441.94 L236.65,440.84 L236.84,439.48 L237.14,438.00 L237.56,436.51 L238.05,435.14 L238.62,434.03 L239.23,433.25 L239.86,432.87 L240.46,432.91 L241.00,433.19 L241.46,433.65 L241.83,434.28 L242.12,435.05 L242.31,435.93 L242.41,436.89 L242.43,437.89 L242.37,438.90 L242.24,439.88 L242.09,440.81 L241.89,441.64 L241.67,442.35 L241.49,442.94 L241.32,443.36 L241.18,443.62 L241.13,443.72 L241.14,443.64 L241.22,443.41 L241.43,443.03 L241.71,442.51 L242.09,441.88 L242.59,441.17 L243.16,440.40 L243.80,439.61 L244.52,438.83 L245.29,438.09 L246.08,437.41 L246.89,436.84 L247.68,436.39 L248.45,436.08 L249.17,435.94 L249.82,435.97 L250.39,436.18 L250.84,436.56 L251.18,437.09 L251.38,437.77 L251.45,438.53 L251.41,439.33 L251.28,440.15 L251.08,440.91 L250.85,441.57 L250.63,442.11 L250.47,442.48 L250.38,442.67 L250.40,442.68 L250.56,442.52 L250.85,442.19 L251.29,441.76 L251.88,441.25 L252.57,440.71 L253.35,440.20 L254.19,439.77 L255.03,439.44 L255.84,439.27 L256.58,439.28 L257.22,439.46 L257.71,439.87 L258.02,440.55 L258.15,441.47 L258.10,442.54 L257.92,443.66 L257.64,444.74 L257.31,445.69 L257.02,446.44 L256.79,446.91 L256.69,447.10 L256.78,447.01 L257.03,446.64 L257.48,446.07 L258.12,445.37 L258.88,444.62 L259.73,443.92 L260.62,443.36 L261.47,443.00 L262.22,442.91 L262.83,443.10 L263.20,443.60 L263.23,444.45 L262.96,445.56 L262.42,446.82 L261.70,448.13 L260.91,449.36 L260.15,450.40 L259.54,451.16 L259.17,451.59 L259.11,451.64 L259.39,451.35 L260.03,450.79 L260.97,450.01 L262.14,449.15 L263.45,448.31 L264.78,447.60 L266.00,447.13 L267.01,446.97 L267.71,447.16 L268.08,447.68 L268.17,448.47 L267.99,449.47 L267.56,450.62 L266.94,451.86 L266.19,453.08 L265.37,454.22 L264.61,455.20 L263.95,455.96 L263.47,456.45 L263.26,456.67 L263.32,456.60 L263.68,456.29 L264.34,455.79 L265.25,455.13 L266.36,454.41 L267.60,453.72 L268.89,453.10 L270.12,452.65 L271.24,452.40 L272.17,452.38 L272.84,452.63 L273.24,453.11 L273.41,453.79 L273.35,454.62 L273.10,455.56 L272.69,456.56 L272.14,457.55 L271.54,458.49 L270.92,459.33 L270.33,460.02 L269.86,460.55 L269.52,460.87 L269.36,461.00 L269.42,460.97 L269.69,460.76 L270.16,460.42 L270.83,460.02 L271.65,459.57 L272.57,459.14 L273.55,458.78 L274.53,458.51 L275.45,458.38 L276.26,458.41 L276.91,458.61 L277.38,458.98 L277.58,459.50 L277.33,460.15 L276.66,460.88 L275.64,461.66 L274.35,462.40 L272.95,463.06 L271.55,463.62 L270.26,464.05 L268.84,464.43 L268.23,464.54 L268.55,464.40 L269.78,464.14 L271.68,463.86 L274.01,463.70 L276.34,463.75 L278.36,464.04 L279.73,464.56 L280.29,465.26 L280.27,466.02 L279.86,466.77 L279.10,467.49 L278.07,468.12 L276.85,468.66 L275.54,469.07 L274.26,469.36 L273.10,469.54 L272.16,469.62 L271.50,469.62 L271.18,469.59 L271.24,469.54 L271.66,469.53 L272.43,469.57 L273.49,469.70 L274.78,469.95 L276.20,470.31 L277.66,470.81 L279.03,471.41 L280.24,472.12 L281.18,472.88 L281.80,473.67 L282.05,474.44 L281.98,475.20 L281.66,475.93 L281.11,476.62 L280.38,477.23 L279.52,477.75 L278.60,478.14 L277.66,478.43 L276.78,478.60 L276.01,478.69 L275.39,478.71 L274.95,478.68 L274.72,478.63 L274.70,478.59 L274.89,478.57 L275.29,478.61 L275.85,478.71 L276.54,478.91 L277.31,479.20 L278.11,479.61 L278.88,480.11 L279.58,480.71 L280.14,481.37 L280.55,482.08 L280.74,482.79 L280.74,483.49 L280.51,484.11 L280.03,484.55 L279.30,484.72 L278.46,484.62 L277.54,484.23 L276.72,483.67 L276.01,483.01 L275.62,482.47 L275.49,482.20 L275.69,482.34 L275.94,482.68 L276.24,483.23 L276.53,483.95 L276.76,484.78 L276.89,485.67 L276.91,486.54 L276.70,487.64 L276.21,488.41 L275.82,488.69 L275.48,488.93 L275.18,489.14 L274.88,489.35 L274.63,489.53 L274.37,489.71 L274.00,490.00 L273.70,490.00 L273.40,490.00 L273.10,490.00 L272.80,490.00 L272.50,490.00 L272.20,490.00 L271.90,490.00 L271.60,490.00 L271.30,490.00 L271.00,490.00 L270.70,490.00 L270.40,490.00 L270.10,490.00 L269.80,490.00 L269.50,490.00 L269.20,490.00 L268.90,490.00 L268.60,490.00 L268.30,490.00 L268.00,490.00 L267.70,490.00 L267.40,490.00 L267.10,490.00 L266.80,490.00 L266.50,490.00 L266.20,490.00 L265.90,490.00 L265.60,490.00 L265.30,490.00 L265.00,490.00 L264.70,489.86 L264.40,489.73 L264.10,489.59 L263.80,489.46 L263.53,489.33 L263.25,489.21 L262.98,489.08 L262.70,488.95 L262.42,488.83 L262.15,488.70 L261.87,488.58 L261.59,488.45 L261.31,488.32 L261.03,488.19 L260.75,488.07 L260.47,487.94 L260.19,487.81 L259.89,487.68 L259.58,487.54 L259.28,487.40 L258.98,487.26 L258.68,487.13 L258.38,486.99 L258.07,486.85 L257.77,486.71 L257.47,486.58 L257.17,486.44 L256.87,486.30 L256.56,486.17 L256.26,486.03 L255.96,485.89 L255.68,485.76 L255.40,485.64 L255.12,485.51 L254.84,485.38 L254.56,485.25 L254.28,485.13 L254.00,485.00 L253.69,484.84 L253.38,484.68 L253.07,484.53 L252.76,484.37 L252.45,484.21 L252.14,484.05 L251.87,483.90 L251.61,483.74 L251.34,483.58 L251.07,483.43 L250.80,483.27 L250.53,483.12 L250.26,482.96 L249.99,482.81 L249.72,482.65 L249.45,482.50 L249.18,482.34 L248.91,482.19 L248.64,482.03 L248.38,481.88 L248.07,481.72 L247.76,481.56 L247.45,481.40 L247.14,481.24 L246.83,481.08 L246.52,480.93 L246.22,480.81 L245.92,480.70 L245.62,480.59 L245.32,480.48 L245.02,480.37 L244.72,480.25 L244.37,480.20 L244.03,480.15 L243.69,480.10 L243.34,480.05 L243.00,480.00 L242.68,480.05 L242.37,480.11 L242.05,480.16 L241.74,480.21 L241.42,480.27 L241.13,480.41 L240.84,480.54 L240.55,480.68 L240.25,480.82 L239.96,480.96 L239.68,481.16 L239.40,481.35 L239.12,481.55 L238.84,481.74 L238.56,481.94 L238.28,482.16 L238.00,482.38 L237.71,482.60 L237.43,482.82 L237.15,483.04 L236.90,483.22 L236.65,483.39 L236.40,483.57 L236.15,483.75 L235.90,483.93 L235.65,484.11 L235.38,484.26 L235.10,484.41 L234.83,484.55 L234.55,484.70 L234.28,484.85 L234.00,485.00 L233.70,485.12 L233.39,485.25 L233.09,485.37 L232.78,485.50 L232.48,485.62 L232.17,485.75 L231.85,485.87 L231.52,485.99 L231.20,486.11 L230.87,486.24 L230.55,486.36 L230.22,486.48 L229.93,486.58 L229.64,486.68 L229.35,486.78 L229.06,486.88 L228.77,486.99 L228.48,487.09 L228.19,487.19 L227.89,487.28 L227.59,487.38 L227.30,487.47 L227.00,487.57 L226.70,487.66 L226.41,487.76 L226.11,487.85 L225.81,487.94 L225.52,488.03 L225.22,488.11 L224.92,488.20 L224.63,488.29 L224.33,488.37 L224.03,488.46 L223.74,488.54 L223.45,488.61 L223.16,488.69 L222.87,488.77 L222.58,488.85 L222.29,488.92 L222.00,489.00 L221.67,489.07 L221.33,489.14 L221.00,489.21 L220.67,489.28 L220.33,489.35 L220.00,489.43 L219.67,489.48 L219.33,489.53 L219.00,489.58 L218.67,489.64 L218.33,489.69 L218.00,489.74 L217.67,489.78 L217.33,489.83 L217.00,489.87 L216.67,489.91 L216.33,489.96 L216.00,490.00 L215.67,490.04 L215.33,490.09 L215.00,490.13 L214.67,490.17 L214.33,490.22 L214.00,490.26 L213.67,490.31 L213.33,490.36 L213.00,490.42 L212.67,490.47 L212.33,490.52 L212.00,490.57 L211.67,490.65 L211.33,490.72 L211.00,490.79 L210.67,490.86 L210.33,490.93 L210.00,491.00 L209.66,491.09 L209.33,491.19 L208.99,491.28 L208.66,491.37 L208.32,491.46 L207.99,491.56 L207.70,491.65 L207.41,491.74 L207.12,491.83 L206.83,491.93 L206.54,492.02 L206.25,492.11 L205.96,492.20 L205.67,492.30 L205.38,492.40 L205.09,492.50 L204.81,492.61 L204.52,492.71 L204.23,492.81 L203.94,492.91 L203.65,493.01 L203.36,493.11 L203.08,493.22 L202.79,493.32 L202.50,493.42 L202.21,493.53 L201.93,493.63 L201.64,493.73 L201.36,493.83 L201.08,493.93 L200.79,494.04 L200.51,494.14 L200.23,494.24 L199.94,494.34 L199.62,494.45 L199.29,494.56 L198.97,494.67 L198.65,494.78 L198.32,494.89 L198.00,495.00 L197.71,495.09 L197.42,495.19 L197.13,495.28 L196.85,495.37 L196.56,495.47 L196.27,495.56 L195.98,495.65 L195.68,495.75 L195.37,495.85 L195.07,495.94 L194.76,496.04 L194.46,496.14 L194.16,496.24 L193.85,496.33 L193.55,496.43 L193.25,496.52 L192.95,496.62 L192.65,496.71 L192.35,496.81 L192.05,496.90 L191.75,497.00 L191.43,497.10 L191.10,497.20 L190.78,497.31 L190.46,497.41 L190.14,497.51 L189.81,497.61 L189.49,497.71 L189.16,497.82 L188.84,497.92 L188.51,498.02 L188.19,498.12 L187.89,498.22 L187.59,498.31 L187.30,498.41 L187.00,498.50 L186.70,498.45 L186.40,498.40 L186.10,498.35 L185.80,498.30 L185.50,498.25 L185.20,498.20 L184.90,498.15 L184.60,498.10 L184.30,498.05 L184.00,498.00 L183.70,497.95 L183.40,497.90 L183.10,497.85 L182.80,497.80 L182.50,497.75 L182.20,497.70 L181.90,497.65 L181.60,497.60 L181.30,497.55 L181.00,497.50 L180.70,497.45 L180.40,497.40 L180.10,497.35 L179.80,497.30 L179.50,497.25 L179.20,497.20 L178.90,497.15 L178.60,497.10 L178.30,497.05 Z"/></clipPath><radialGradient id="sagred" cx="190" cy="482" r="60" gradientUnits="userSpaceOnUse"><stop offset="0" stop-color="#d82010" stop-opacity="0.85"/><stop offset="0.35" stop-color="#b8180c" stop-opacity="0.7"/><stop offset="0.7" stop-color="#7a0c08" stop-opacity="0.45"/><stop offset="1" stop-color="#5a0a06" stop-opacity="0"/></radialGradient></defs>
<path d="M178.00,497.00 L177.72,496.29 L177.34,495.38 L176.89,494.31 L176.38,493.11 L175.84,491.81 L175.30,490.45 L174.77,489.05 L174.28,487.66 L173.85,486.29 L173.50,485.00 L173.21,483.75 L172.94,482.48 L172.69,481.20 L172.47,479.92 L172.28,478.62 L172.13,477.32 L172.02,476.00 L171.96,474.68 L171.95,473.35 L172.00,472.00 L172.10,470.63 L172.23,469.23 L172.41,467.81 L172.64,466.38 L172.91,464.94 L173.22,463.50 L173.59,462.08 L174.01,460.69 L174.48,459.32 L175.00,458.00 L175.59,456.69 L176.26,455.38 L177.00,454.06 L177.79,452.77 L178.62,451.50 L179.49,450.27 L180.37,449.10 L181.26,447.98 L182.14,446.95 L183.00,446.00 L183.85,445.15 L184.72,444.38 L185.59,443.68 L186.48,443.05 L187.38,442.47 L188.28,441.93 L189.19,441.43 L190.12,440.94 L191.06,440.47 L192.00,440.00 L192.96,439.55 L193.94,439.13 L194.93,438.75 L195.93,438.40 L196.94,438.06 L197.95,437.74 L198.97,437.43 L199.98,437.13 L201.00,436.82 L202.00,436.50 L203.00,436.17 L204.02,435.84 L205.03,435.51 L206.05,435.18 L207.06,434.86 L208.07,434.55 L209.07,434.26 L210.06,433.98 L211.04,433.73 L212.00,433.50 L212.94,433.30 L213.85,433.11 L214.74,432.95 L215.62,432.80 L216.50,432.67 L217.38,432.56 L218.26,432.46 L219.15,432.36 L220.06,432.28 L221.00,432.20 L221.96,432.13 L222.94,432.07 L223.93,432.02 L224.93,431.98 L225.94,431.96 L226.95,431.94 L227.97,431.94 L228.98,431.95 L230.00,431.97 L231.00,432.00 L232.00,432.04 L233.02,432.09 L234.03,432.15 L235.05,432.22 L236.06,432.30 L237.07,432.40 L238.07,432.52 L239.06,432.65 L240.04,432.81 L241.00,433.00 L241.94,433.21 L242.86,433.45 L243.77,433.71 L244.67,433.98 L245.56,434.28 L246.45,434.60 L247.33,434.93 L248.22,435.27 L249.10,435.63 L250.00,436.00 L250.90,436.38 L251.82,436.78 L252.73,437.19 L253.65,437.62 L254.56,438.06 L255.47,438.52 L256.37,438.99 L257.26,439.48 L258.14,439.98 L259.00,440.50 L259.85,441.03 L260.68,441.58 L261.50,442.14 L262.32,442.72 L263.12,443.31 L263.92,443.92 L264.70,444.54 L265.48,445.18 L266.25,445.83 L267.00,446.50 L267.75,447.19 L268.50,447.90 L269.24,448.62 L269.97,449.37 L270.69,450.12 L271.39,450.89 L272.08,451.67 L272.74,452.44 L273.39,453.22 L274.00,454.00 L274.59,454.78 L275.17,455.57 L275.73,456.36 L276.26,457.16 L276.78,457.97 L277.28,458.78 L277.75,459.58 L278.19,460.39 L278.61,461.20 L279.00,462.00 L279.36,462.80 L279.69,463.60 L280.00,464.40 L280.28,465.20 L280.53,466.00 L280.76,466.80 L280.98,467.60 L281.17,468.40 L281.34,469.20 L281.50,470.00 L281.64,470.80 L281.77,471.62 L281.88,472.43 L281.96,473.25 L282.03,474.06 L282.08,474.87 L282.10,475.67 L282.09,476.46 L282.06,477.24 L282.00,478.00 L281.92,478.75 L281.82,479.50 L281.71,480.24 L281.57,480.97 L281.41,481.69 L281.21,482.39 L280.97,483.08 L280.70,483.74 L280.37,484.39 L280.00,485.00 L279.54,485.60 L278.96,486.21 L278.31,486.80 L277.60,487.38 L276.88,487.94 L276.16,488.46 L275.48,488.93 L274.88,489.35 L274.37,489.71 L274.00,490.00 L265.00,490.00 L263.80,489.46 L262.15,488.70 L260.19,487.81 L258.07,486.85 L255.96,485.89 L254.00,485.00 L252.14,484.05 L250.26,482.96 L248.38,481.88 L246.52,480.93 L244.72,480.25 L243.00,480.00 L241.42,480.27 L239.96,480.96 L238.56,481.94 L237.15,483.04 L235.65,484.11 L234.00,485.00 L232.17,485.75 L230.22,486.48 L228.19,487.19 L226.11,487.85 L224.03,488.46 L222.00,489.00 L220.00,489.43 L218.00,489.74 L216.00,490.00 L214.00,490.26 L212.00,490.57 L210.00,491.00 L207.99,491.56 L205.96,492.20 L203.94,492.91 L201.93,493.63 L199.94,494.34 L198.00,495.00 L195.98,495.65 L193.85,496.33 L191.75,497.00 L189.81,497.61 L188.19,498.12 L187.00,498.50 Z" fill="none" stroke="#9a9a9a" stroke-width="4" stroke-opacity="0.3"/>
<path d="M178.00,497.00 L177.86,496.65 L177.72,496.29 L177.56,495.91 L177.51,495.26 L177.65,494.51 L178.07,493.52 L178.72,492.46 L179.56,491.39 L180.34,490.52 L181.16,489.71 L181.96,488.99 L182.69,488.37 L183.36,487.85 L183.85,487.48 L184.13,487.27 L184.16,487.21 L183.95,487.31 L183.46,487.52 L182.72,487.81 L181.78,488.14 L180.68,488.47 L179.48,488.75 L178.25,488.94 L177.08,489.00 L176.06,488.91 L175.21,488.64 L174.61,488.21 L174.27,487.63 L174.19,486.94 L174.31,486.16 L174.63,485.32 L175.12,484.45 L175.73,483.63 L176.45,482.83 L177.25,482.08 L178.08,481.39 L178.87,480.79 L179.63,480.28 L180.32,479.86 L180.91,479.53 L181.38,479.28 L181.69,479.12 L181.85,479.04 L181.83,479.04 L181.65,479.11 L181.30,479.23 L180.79,479.37 L180.14,479.53 L179.37,479.68 L178.51,479.80 L177.59,479.88 L176.65,479.89 L175.72,479.84 L174.83,479.71 L174.03,479.48 L173.33,479.17 L172.79,478.77 L172.40,478.28 L172.19,477.72 L172.21,477.10 L172.61,476.38 L173.36,475.62 L174.37,474.88 L175.54,474.19 L176.77,473.61 L177.91,473.16 L178.84,472.86 L179.46,472.70 L179.73,472.67 L179.59,472.72 L179.05,472.82 L178.18,472.92 L177.07,472.97 L175.82,472.93 L174.58,472.77 L173.48,472.48 L172.63,472.05 L172.15,471.51 L172.09,470.90 L172.35,470.33 L172.91,469.84 L173.73,469.47 L174.74,469.22 L175.91,469.08 L177.18,469.06 L178.46,469.14 L179.67,469.28 L180.73,469.47 L181.61,469.68 L182.22,469.86 L182.54,469.98 L182.54,470.01 L182.23,469.92 L181.64,469.69 L180.80,469.31 L179.77,468.78 L178.63,468.11 L177.44,467.32 L176.30,466.44 L175.28,465.51 L174.45,464.57 L173.87,463.66 L173.58,462.82 L173.59,462.09 L173.89,461.48 L174.41,460.95 L175.12,460.53 L175.97,460.23 L176.91,460.06 L177.87,459.99 L178.78,460.02 L179.59,460.11 L180.24,460.24 L180.70,460.38 L180.94,460.48 L180.96,460.51 L180.77,460.45 L180.39,460.27 L179.86,459.95 L179.22,459.50 L178.55,458.91 L177.88,458.22 L177.30,457.45 L176.86,456.64 L176.65,455.99 L176.58,455.37 L176.65,454.79 L176.88,454.28 L177.22,453.85 L177.66,453.51 L178.17,453.26 L178.73,453.10 L179.33,453.03 L179.94,453.04 L180.54,453.12 L181.11,453.26 L181.62,453.44 L182.07,453.64 L182.43,453.81 L182.72,453.96 L182.89,454.08 L182.96,454.14 L182.95,454.12 L182.87,454.00 L182.67,453.74 L182.40,453.33 L182.09,452.80 L181.78,452.14 L181.52,451.42 L181.31,450.65 L181.20,449.86 L181.20,449.07 L181.32,448.37 L181.56,447.74 L181.91,447.21 L182.49,446.85 L183.33,446.76 L184.40,446.89 L185.64,447.23 L186.96,447.74 L188.20,448.38 L189.37,449.08 L190.41,449.79 L191.21,450.51 L191.98,451.19 L192.33,451.59 L192.23,451.68 L191.78,451.41 L191.10,450.75 L190.20,449.78 L189.27,448.61 L188.44,447.27 L187.74,445.90 L187.28,444.64 L187.12,443.55 L187.26,442.74 L187.71,442.27 L188.37,442.23 L189.16,442.62 L190.02,443.41 L190.90,444.50 L191.71,445.76 L192.42,447.07 L193.01,448.26 L193.43,449.23 L193.68,449.86 L193.78,450.06 L193.71,449.81 L193.53,449.12 L193.30,448.01 L193.04,446.61 L192.83,445.01 L192.74,443.36 L192.78,441.82 L193.00,440.54 L193.40,439.61 L193.94,439.13 L194.56,438.99 L195.19,439.02 L195.81,439.24 L196.39,439.61 L196.92,440.11 L197.39,440.69 L197.77,441.31 L198.08,441.93 L198.32,442.50 L198.47,442.98 L198.59,443.32 L198.65,443.52 L198.69,443.54 L198.72,443.38 L198.77,443.04 L198.85,442.54 L198.97,441.90 L199.16,441.16 L199.40,440.36 L199.72,439.53 L200.10,438.72 L200.55,437.97 L201.06,437.33 L201.61,436.81 L202.21,436.45 L202.83,436.25 L203.47,436.21 L204.13,436.31 L204.77,436.56 L205.39,436.92 L205.97,437.39 L206.50,437.92 L206.97,438.50 L207.37,439.08 L207.70,439.64 L207.96,440.13 L208.14,440.54 L208.27,440.83 L208.34,440.98 L208.38,440.99 L208.40,440.85 L208.40,440.56 L208.42,440.14 L208.46,439.59 L208.54,438.94 L208.67,438.23 L208.86,437.48 L209.12,436.71 L209.44,435.98 L209.83,435.30 L210.27,434.69 L210.77,434.19 L211.31,433.80 L211.88,433.54 L212.46,433.43 L213.06,433.50 L213.66,433.75 L214.23,434.17 L214.78,434.72 L215.30,435.41 L215.76,436.18 L216.18,437.02 L216.54,437.89 L216.98,439.19 L217.31,440.40 L217.52,441.43 L217.64,442.22 L217.67,442.70 L217.67,442.84 L217.68,442.62 L217.70,442.05 L217.80,441.16 L217.97,440.01 L218.13,439.12 L218.35,438.18 L218.63,437.21 L218.96,436.23 L219.37,435.29 L219.81,434.43 L220.32,433.65 L220.86,433.01 L221.43,432.52 L222.03,432.21 L222.63,432.09 L223.24,432.14 L223.87,432.36 L224.50,432.73 L225.10,433.24 L225.68,433.87 L226.22,434.59 L226.70,435.38 L227.13,436.20 L227.50,437.02 L227.80,437.80 L228.03,438.52 L228.21,439.13 L228.33,439.62 L228.40,439.97 L228.45,440.15 L228.46,440.16 L228.47,440.00 L228.50,439.67 L228.53,439.20 L228.60,438.60 L228.73,437.90 L228.90,437.12 L229.13,436.31 L229.42,435.49 L229.78,434.69 L230.20,433.96 L230.68,433.31 L231.20,432.78 L231.77,432.39 L232.38,432.16 L232.99,432.09 L233.62,432.32 L234.24,432.99 L234.81,434.05 L235.32,435.41 L235.74,436.95 L236.07,438.55 L236.29,440.06 L236.43,441.36 L236.48,442.33 L236.49,442.90 L236.49,443.03 L236.48,442.69 L236.52,441.94 L236.65,440.84 L236.84,439.48 L237.14,438.00 L237.56,436.51 L238.05,435.14 L238.62,434.03 L239.23,433.25 L239.86,432.87 L240.46,432.91 L241.00,433.19 L241.46,433.65 L241.83,434.28 L242.12,435.05 L242.31,435.93 L242.41,436.89 L242.43,437.89 L242.37,438.90 L242.24,439.88 L242.09,440.81 L241.89,441.64 L241.67,442.35 L241.49,442.94 L241.32,443.36 L241.18,443.62 L241.13,443.72 L241.14,443.64 L241.22,443.41 L241.43,443.03 L241.71,442.51 L242.09,441.88 L242.59,441.17 L243.16,440.40 L243.80,439.61 L244.52,438.83 L245.29,438.09 L246.08,437.41 L246.89,436.84 L247.68,436.39 L248.45,436.08 L249.17,435.94 L249.82,435.97 L250.39,436.18 L250.84,436.56 L251.18,437.09 L251.38,437.77 L251.45,438.53 L251.41,439.33 L251.28,440.15 L251.08,440.91 L250.85,441.57 L250.63,442.11 L250.47,442.48 L250.38,442.67 L250.40,442.68 L250.56,442.52 L250.85,442.19 L251.29,441.76 L251.88,441.25 L252.57,440.71 L253.35,440.20 L254.19,439.77 L255.03,439.44 L255.84,439.27 L256.58,439.28 L257.22,439.46 L257.71,439.87 L258.02,440.55 L258.15,441.47 L258.10,442.54 L257.92,443.66 L257.64,444.74 L257.31,445.69 L257.02,446.44 L256.79,446.91 L256.69,447.10 L256.78,447.01 L257.03,446.64 L257.48,446.07 L258.12,445.37 L258.88,444.62 L259.73,443.92 L260.62,443.36 L261.47,443.00 L262.22,442.91 L262.83,443.10 L263.20,443.60 L263.23,444.45 L262.96,445.56 L262.42,446.82 L261.70,448.13 L260.91,449.36 L260.15,450.40 L259.54,451.16 L259.17,451.59 L259.11,451.64 L259.39,451.35 L260.03,450.79 L260.97,450.01 L262.14,449.15 L263.45,448.31 L264.78,447.60 L266.00,447.13 L267.01,446.97 L267.71,447.16 L268.08,447.68 L268.17,448.47 L267.99,449.47 L267.56,450.62 L266.94,451.86 L266.19,453.08 L265.37,454.22 L264.61,455.20 L263.95,455.96 L263.47,456.45 L263.26,456.67 L263.32,456.60 L263.68,456.29 L264.34,455.79 L265.25,455.13 L266.36,454.41 L267.60,453.72 L268.89,453.10 L270.12,452.65 L271.24,452.40 L272.17,452.38 L272.84,452.63 L273.24,453.11 L273.41,453.79 L273.35,454.62 L273.10,455.56 L272.69,456.56 L272.14,457.55 L271.54,458.49 L270.92,459.33 L270.33,460.02 L269.86,460.55 L269.52,460.87 L269.36,461.00 L269.42,460.97 L269.69,460.76 L270.16,460.42 L270.83,460.02 L271.65,459.57 L272.57,459.14 L273.55,458.78 L274.53,458.51 L275.45,458.38 L276.26,458.41 L276.91,458.61 L277.38,458.98 L277.58,459.50 L277.33,460.15 L276.66,460.88 L275.64,461.66 L274.35,462.40 L272.95,463.06 L271.55,463.62 L270.26,464.05 L268.84,464.43 L268.23,464.54 L268.55,464.40 L269.78,464.14 L271.68,463.86 L274.01,463.70 L276.34,463.75 L278.36,464.04 L279.73,464.56 L280.29,465.26 L280.27,466.02 L279.86,466.77 L279.10,467.49 L278.07,468.12 L276.85,468.66 L275.54,469.07 L274.26,469.36 L273.10,469.54 L272.16,469.62 L271.50,469.62 L271.18,469.59 L271.24,469.54 L271.66,469.53 L272.43,469.57 L273.49,469.70 L274.78,469.95 L276.20,470.31 L277.66,470.81 L279.03,471.41 L280.24,472.12 L281.18,472.88 L281.80,473.67 L282.05,474.44 L281.98,475.20 L281.66,475.93 L281.11,476.62 L280.38,477.23 L279.52,477.75 L278.60,478.14 L277.66,478.43 L276.78,478.60 L276.01,478.69 L275.39,478.71 L274.95,478.68 L274.72,478.63 L274.70,478.59 L274.89,478.57 L275.29,478.61 L275.85,478.71 L276.54,478.91 L277.31,479.20 L278.11,479.61 L278.88,480.11 L279.58,480.71 L280.14,481.37 L280.55,482.08 L280.74,482.79 L280.74,483.49 L280.51,484.11 L280.03,484.55 L279.30,484.72 L278.46,484.62 L277.54,484.23 L276.72,483.67 L276.01,483.01 L275.62,482.47 L275.49,482.20 L275.69,482.34 L275.94,482.68 L276.24,483.23 L276.53,483.95 L276.76,484.78 L276.89,485.67 L276.91,486.54 L276.70,487.64 L276.21,488.41 L275.82,488.69 L275.48,488.93 L275.18,489.14 L274.88,489.35 L274.63,489.53 L274.37,489.71 L274.00,490.00 L273.70,490.00 L273.40,490.00 L273.10,490.00 L272.80,490.00 L272.50,490.00 L272.20,490.00 L271.90,490.00 L271.60,490.00 L271.30,490.00 L271.00,490.00 L270.70,490.00 L270.40,490.00 L270.10,490.00 L269.80,490.00 L269.50,490.00 L269.20,490.00 L268.90,490.00 L268.60,490.00 L268.30,490.00 L268.00,490.00 L267.70,490.00 L267.40,490.00 L267.10,490.00 L266.80,490.00 L266.50,490.00 L266.20,490.00 L265.90,490.00 L265.60,490.00 L265.30,490.00 L265.00,490.00 L264.70,489.86 L264.40,489.73 L264.10,489.59 L263.80,489.46 L263.53,489.33 L263.25,489.21 L262.98,489.08 L262.70,488.95 L262.42,488.83 L262.15,488.70 L261.87,488.58 L261.59,488.45 L261.31,488.32 L261.03,488.19 L260.75,488.07 L260.47,487.94 L260.19,487.81 L259.89,487.68 L259.58,487.54 L259.28,487.40 L258.98,487.26 L258.68,487.13 L258.38,486.99 L258.07,486.85 L257.77,486.71 L257.47,486.58 L257.17,486.44 L256.87,486.30 L256.56,486.17 L256.26,486.03 L255.96,485.89 L255.68,485.76 L255.40,485.64 L255.12,485.51 L254.84,485.38 L254.56,485.25 L254.28,485.13 L254.00,485.00 L253.69,484.84 L253.38,484.68 L253.07,484.53 L252.76,484.37 L252.45,484.21 L252.14,484.05 L251.87,483.90 L251.61,483.74 L251.34,483.58 L251.07,483.43 L250.80,483.27 L250.53,483.12 L250.26,482.96 L249.99,482.81 L249.72,482.65 L249.45,482.50 L249.18,482.34 L248.91,482.19 L248.64,482.03 L248.38,481.88 L248.07,481.72 L247.76,481.56 L247.45,481.40 L247.14,481.24 L246.83,481.08 L246.52,480.93 L246.22,480.81 L245.92,480.70 L245.62,480.59 L245.32,480.48 L245.02,480.37 L244.72,480.25 L244.37,480.20 L244.03,480.15 L243.69,480.10 L243.34,480.05 L243.00,480.00 L242.68,480.05 L242.37,480.11 L242.05,480.16 L241.74,480.21 L241.42,480.27 L241.13,480.41 L240.84,480.54 L240.55,480.68 L240.25,480.82 L239.96,480.96 L239.68,481.16 L239.40,481.35 L239.12,481.55 L238.84,481.74 L238.56,481.94 L238.28,482.16 L238.00,482.38 L237.71,482.60 L237.43,482.82 L237.15,483.04 L236.90,483.22 L236.65,483.39 L236.40,483.57 L236.15,483.75 L235.90,483.93 L235.65,484.11 L235.38,484.26 L235.10,484.41 L234.83,484.55 L234.55,484.70 L234.28,484.85 L234.00,485.00 L233.70,485.12 L233.39,485.25 L233.09,485.37 L232.78,485.50 L232.48,485.62 L232.17,485.75 L231.85,485.87 L231.52,485.99 L231.20,486.11 L230.87,486.24 L230.55,486.36 L230.22,486.48 L229.93,486.58 L229.64,486.68 L229.35,486.78 L229.06,486.88 L228.77,486.99 L228.48,487.09 L228.19,487.19 L227.89,487.28 L227.59,487.38 L227.30,487.47 L227.00,487.57 L226.70,487.66 L226.41,487.76 L226.11,487.85 L225.81,487.94 L225.52,488.03 L225.22,488.11 L224.92,488.20 L224.63,488.29 L224.33,488.37 L224.03,488.46 L223.74,488.54 L223.45,488.61 L223.16,488.69 L222.87,488.77 L222.58,488.85 L222.29,488.92 L222.00,489.00 L221.67,489.07 L221.33,489.14 L221.00,489.21 L220.67,489.28 L220.33,489.35 L220.00,489.43 L219.67,489.48 L219.33,489.53 L219.00,489.58 L218.67,489.64 L218.33,489.69 L218.00,489.74 L217.67,489.78 L217.33,489.83 L217.00,489.87 L216.67,489.91 L216.33,489.96 L216.00,490.00 L215.67,490.04 L215.33,490.09 L215.00,490.13 L214.67,490.17 L214.33,490.22 L214.00,490.26 L213.67,490.31 L213.33,490.36 L213.00,490.42 L212.67,490.47 L212.33,490.52 L212.00,490.57 L211.67,490.65 L211.33,490.72 L211.00,490.79 L210.67,490.86 L210.33,490.93 L210.00,491.00 L209.66,491.09 L209.33,491.19 L208.99,491.28 L208.66,491.37 L208.32,491.46 L207.99,491.56 L207.70,491.65 L207.41,491.74 L207.12,491.83 L206.83,491.93 L206.54,492.02 L206.25,492.11 L205.96,492.20 L205.67,492.30 L205.38,492.40 L205.09,492.50 L204.81,492.61 L204.52,492.71 L204.23,492.81 L203.94,492.91 L203.65,493.01 L203.36,493.11 L203.08,493.22 L202.79,493.32 L202.50,493.42 L202.21,493.53 L201.93,493.63 L201.64,493.73 L201.36,493.83 L201.08,493.93 L200.79,494.04 L200.51,494.14 L200.23,494.24 L199.94,494.34 L199.62,494.45 L199.29,494.56 L198.97,494.67 L198.65,494.78 L198.32,494.89 L198.00,495.00 L197.71,495.09 L197.42,495.19 L197.13,495.28 L196.85,495.37 L196.56,495.47 L196.27,495.56 L195.98,495.65 L195.68,495.75 L195.37,495.85 L195.07,495.94 L194.76,496.04 L194.46,496.14 L194.16,496.24 L193.85,496.33 L193.55,496.43 L193.25,496.52 L192.95,496.62 L192.65,496.71 L192.35,496.81 L192.05,496.90 L191.75,497.00 L191.43,497.10 L191.10,497.20 L190.78,497.31 L190.46,497.41 L190.14,497.51 L189.81,497.61 L189.49,497.71 L189.16,497.82 L188.84,497.92 L188.51,498.02 L188.19,498.12 L187.89,498.22 L187.59,498.31 L187.30,498.41 L187.00,498.50 L186.70,498.45 L186.40,498.40 L186.10,498.35 L185.80,498.30 L185.50,498.25 L185.20,498.20 L184.90,498.15 L184.60,498.10 L184.30,498.05 L184.00,498.00 L183.70,497.95 L183.40,497.90 L183.10,497.85 L182.80,497.80 L182.50,497.75 L182.20,497.70 L181.90,497.65 L181.60,497.60 L181.30,497.55 L181.00,497.50 L180.70,497.45 L180.40,497.40 L180.10,497.35 L179.80,497.30 L179.50,497.25 L179.20,497.20 L178.90,497.15 L178.60,497.10 L178.30,497.05 Z" fill="#3c3c3c" stroke="#151515" stroke-width="2.2" stroke-linejoin="round"/>
<g clip-path="url(#sagclip)">
<rect x="168" y="428" width="90" height="76" fill="url(#sagred)"/>
<path d="M184,494 C183,470 200,456 224,455 C236,455 244,458 248,462" fill="none" stroke="#e03a10" stroke-width="9" stroke-opacity="0.55"/>
</g>
<path d="M204.0,478.3 L204.5,477.7 L205.0,477.2 L205.3,476.6 L205.6,476.1 L205.7,475.5 L205.7,474.9 L205.7,474.3 L205.6,473.7 L205.5,473.0 L205.4,472.3 L205.4,471.5 L205.5,470.8" fill="none" stroke="#141414" stroke-width="1.0" stroke-opacity="0.75" clip-path="url(#sagclip)"/>
<path d="M206.2,469.4 L206.5,469.0 L207.0,468.7 L207.5,468.4 L208.0,468.1 L208.6,467.9 L209.2,467.7 L209.9,467.6 L210.6,467.5 L211.3,467.4 L211.9,467.4 L212.6,467.3 L213.2,467.3" fill="none" stroke="#141414" stroke-width="1.0" stroke-opacity="0.75" clip-path="url(#sagclip)"/>
<path d="M215.7,466.8 L216.7,466.4 L217.7,465.8 L218.6,465.1 L219.7,464.4 L220.9,463.7 L222.2,463.2 L223.5,463.0 L224.9,463.0 L226.3,463.4 L227.5,463.9 L228.6,464.6 L229.7,465.3" fill="none" stroke="#141414" stroke-width="1.0" stroke-opacity="0.75" clip-path="url(#sagclip)"/>
<path d="M232.6,466.9 L233.6,467.1 L234.8,467.3 L236.1,467.4 L237.4,467.5 L238.7,467.7 L239.9,468.1 L240.9,468.6 L241.7,469.3 L242.3,470.2 L242.5,471.1 L242.6,472.0 L242.5,473.0" fill="none" stroke="#141414" stroke-width="1.0" stroke-opacity="0.75" clip-path="url(#sagclip)"/>
<path d="M242.3,474.6 L242.3,474.8 L242.3,475.0 L242.3,475.2 L242.3,475.5 L242.3,475.7 L242.4,475.9 L242.4,476.1 L242.5,476.3 L242.6,476.5 L242.7,476.7 L242.8,476.8 L243.0,477.0" fill="none" stroke="#141414" stroke-width="1.0" stroke-opacity="0.75" clip-path="url(#sagclip)"/>
<path d="M201.4,478.3 L201.6,477.8 L201.6,477.2 L201.6,476.6 L201.5,476.1 L201.3,475.5 L201.2,474.8 L201.0,474.2 L200.9,473.5 L200.8,472.9 L200.7,472.2 L200.8,471.5 L200.9,470.9" fill="none" stroke="#a8a8a8" stroke-width="0.7" stroke-opacity="0.6" clip-path="url(#sagclip)"/>
<path d="M204.0,467.9 L205.4,467.4 L206.8,467.0 L208.3,466.6 L209.7,466.3 L210.9,465.8 L212.0,465.3 L213.0,464.6 L214.0,463.9 L215.0,463.0 L216.1,462.2 L217.3,461.5 L218.6,460.9" fill="none" stroke="#a8a8a8" stroke-width="0.7" stroke-opacity="0.6" clip-path="url(#sagclip)"/>
<path d="M223.3,460.8 L224.7,461.2 L226.1,461.7 L227.4,462.3 L228.6,462.9 L229.8,463.3 L231.0,463.6 L232.3,463.8 L233.7,463.9 L235.2,464.0 L236.7,464.0 L238.3,464.2 L239.8,464.5" fill="none" stroke="#a8a8a8" stroke-width="0.7" stroke-opacity="0.6" clip-path="url(#sagclip)"/>
<path d="M241.9,465.5 L242.5,466.1 L243.0,466.7 L243.5,467.3 L243.8,468.1 L244.0,468.8 L244.1,469.5 L244.2,470.2 L244.3,471.0 L244.5,471.6 L244.6,472.3 L244.8,472.9 L245.2,473.5" fill="none" stroke="#a8a8a8" stroke-width="0.7" stroke-opacity="0.6" clip-path="url(#sagclip)"/>
<path d="M247.2,475.8 L247.3,475.8 L247.3,475.9 L247.4,475.9 L247.5,476.0 L247.5,476.1 L247.6,476.1 L247.7,476.2 L247.7,476.3 L247.8,476.3 L247.8,476.4 L247.9,476.5 L248.0,476.5" fill="none" stroke="#a8a8a8" stroke-width="0.7" stroke-opacity="0.6" clip-path="url(#sagclip)"/>
<path d="M196.7,476.2 L196.4,475.2 L196.1,474.1 L196.1,473.0 L196.2,471.9 L196.7,470.9 L197.4,470.0 L198.3,469.2 L199.4,468.4 L200.7,467.8 L201.9,467.2 L203.2,466.7 L204.4,466.2" fill="none" stroke="#141414" stroke-width="1.0" stroke-opacity="0.75" clip-path="url(#sagclip)"/>
<path d="M207.7,464.2 L208.5,463.4 L209.3,462.7 L210.1,461.9 L210.9,461.1 L211.9,460.3 L212.9,459.7 L214.1,459.1 L215.3,458.7 L216.6,458.5 L218.0,458.4 L219.4,458.5 L220.7,458.7" fill="none" stroke="#141414" stroke-width="1.0" stroke-opacity="0.75" clip-path="url(#sagclip)"/>
<path d="M223.5,459.4 L224.7,459.7 L225.8,460.0 L227.0,460.3 L228.1,460.5 L229.3,460.6 L230.5,460.6 L231.7,460.6 L233.0,460.5 L234.4,460.5 L235.7,460.5 L237.1,460.6 L238.4,460.8" fill="none" stroke="#141414" stroke-width="1.0" stroke-opacity="0.75" clip-path="url(#sagclip)"/>
<path d="M240.7,461.5 L242.1,462.3 L243.3,463.4 L244.1,464.6 L244.8,465.9 L245.3,467.2 L245.9,468.4 L246.5,469.5 L247.4,470.5 L248.4,471.5 L249.6,472.4 L250.8,473.5 L252.0,474.6" fill="none" stroke="#141414" stroke-width="1.0" stroke-opacity="0.75" clip-path="url(#sagclip)"/>
<path d="M191.8,476.8 L191.6,475.3 L191.7,473.9 L192.2,472.4 L193.1,471.1 L194.4,469.9 L195.8,468.9 L197.4,467.9 L198.9,467.0 L200.3,466.0 L201.5,465.0 L202.5,463.9 L203.5,462.7" fill="none" stroke="#a8a8a8" stroke-width="0.7" stroke-opacity="0.6" clip-path="url(#sagclip)"/>
<path d="M206.2,459.7 L207.6,458.6 L209.2,457.7 L211.0,457.1 L213.0,456.8 L215.1,456.7 L217.1,456.8 L219.1,457.1 L221.0,457.3 L222.9,457.5 L224.7,457.6 L226.5,457.6 L228.4,457.4" fill="none" stroke="#a8a8a8" stroke-width="0.7" stroke-opacity="0.6" clip-path="url(#sagclip)"/>
<path d="M234.6,457.0 L236.2,457.1 L237.7,457.4 L239.1,457.8 L240.4,458.4 L241.5,459.1 L242.6,459.9 L243.5,460.9 L244.3,461.8 L245.0,462.8 L245.7,463.7 L246.4,464.6 L247.1,465.5" fill="none" stroke="#a8a8a8" stroke-width="0.7" stroke-opacity="0.6" clip-path="url(#sagclip)"/>
<path d="M249.6,467.6 L250.4,468.1 L251.3,468.7 L252.2,469.3 L253.1,469.9 L253.9,470.6 L254.7,471.3 L255.3,472.1 L255.9,472.9 L256.3,473.7 L256.6,474.5 L256.7,475.4 L256.6,476.3" fill="none" stroke="#a8a8a8" stroke-width="0.7" stroke-opacity="0.6" clip-path="url(#sagclip)"/>
<path d="M187.4,477.9 L187.4,476.4 L187.8,474.9 L188.6,473.5 L189.6,472.1 L190.9,470.8 L192.2,469.7 L193.5,468.5 L194.7,467.4 L195.8,466.2 L196.7,465.0 L197.5,463.7 L198.4,462.3" fill="none" stroke="#141414" stroke-width="1.0" stroke-opacity="0.75" clip-path="url(#sagclip)"/>
<path d="M199.6,460.5 L200.1,459.8 L200.7,459.2 L201.3,458.6 L202.0,458.0 L202.7,457.5 L203.5,457.1 L204.4,456.6 L205.3,456.3 L206.3,456.0 L207.2,455.8 L208.3,455.6 L209.3,455.5" fill="none" stroke="#141414" stroke-width="1.0" stroke-opacity="0.75" clip-path="url(#sagclip)"/>
<path d="M215.1,455.3 L216.4,455.3 L217.7,455.3 L218.9,455.3 L220.1,455.2 L221.4,455.0 L222.6,454.9 L223.9,454.6 L225.1,454.4 L226.4,454.1 L227.8,453.9 L229.1,453.7 L230.5,453.6" fill="none" stroke="#141414" stroke-width="1.0" stroke-opacity="0.75" clip-path="url(#sagclip)"/>
<path d="M235.8,454.0 L237.3,454.4 L238.7,455.0 L240.0,455.8 L241.2,456.6 L242.3,457.5 L243.4,458.4 L244.3,459.3 L245.3,460.2 L246.3,461.1 L247.3,461.8 L248.4,462.6 L249.6,463.3" fill="none" stroke="#141414" stroke-width="1.0" stroke-opacity="0.75" clip-path="url(#sagclip)"/>
<path d="M252.9,465.1 L254.1,465.7 L255.2,466.4 L256.2,467.2 L257.1,468.0 L257.9,468.9 L258.5,469.9 L258.9,470.9 L259.2,471.9 L259.3,473.0 L259.2,474.0 L259.0,475.1 L258.7,476.1" fill="none" stroke="#141414" stroke-width="1.0" stroke-opacity="0.75" clip-path="url(#sagclip)"/>
<path d="M184.2,476.9 L185.0,475.4 L185.8,474.1 L186.8,472.8 L187.8,471.6 L188.8,470.3 L189.6,469.1 L190.4,467.9 L191.0,466.6 L191.6,465.2 L192.2,463.9 L192.8,462.5 L193.6,461.1" fill="none" stroke="#a8a8a8" stroke-width="0.7" stroke-opacity="0.6" clip-path="url(#sagclip)"/>
<path d="M195.8,458.3 L196.9,457.5 L198.1,456.7 L199.5,456.1 L200.9,455.5 L202.5,455.1 L204.0,454.8 L205.6,454.5 L207.2,454.3 L208.8,454.1 L210.3,454.0 L211.8,453.8 L213.3,453.5" fill="none" stroke="#a8a8a8" stroke-width="0.7" stroke-opacity="0.6" clip-path="url(#sagclip)"/>
<path d="M219.5,452.0 L220.9,451.6 L222.4,451.2 L223.9,450.9 L225.4,450.6 L227.0,450.4 L228.6,450.3 L230.1,450.3 L231.7,450.5 L233.2,450.8 L234.6,451.2 L236.0,451.8 L237.4,452.4" fill="none" stroke="#a8a8a8" stroke-width="0.7" stroke-opacity="0.6" clip-path="url(#sagclip)"/>
<path d="M241.9,455.1 L243.6,456.3 L245.4,457.3 L247.3,458.3 L249.3,459.1 L251.4,460.0 L253.5,460.9 L255.6,461.9 L257.4,463.2 L259.0,464.6 L260.2,466.1 L260.9,467.8 L261.3,469.6" fill="none" stroke="#a8a8a8" stroke-width="0.7" stroke-opacity="0.6" clip-path="url(#sagclip)"/>
<path d="M261.3,472.1 L261.3,472.4 L261.3,472.7 L261.2,473.0 L261.2,473.3 L261.2,473.6 L261.2,473.8 L261.1,474.1 L261.1,474.4 L261.1,474.7 L261.0,475.0 L261.0,475.3 L261.0,475.6" fill="none" stroke="#a8a8a8" stroke-width="0.7" stroke-opacity="0.6" clip-path="url(#sagclip)"/>
<path d="M182.9,475.3 L183.5,474.3 L184.0,473.3 L184.4,472.3 L184.8,471.3 L185.2,470.3 L185.5,469.3 L185.7,468.3 L186.0,467.2 L186.3,466.1 L186.6,465.0 L186.9,463.9 L187.3,462.8" fill="none" stroke="#141414" stroke-width="1.0" stroke-opacity="0.75" clip-path="url(#sagclip)"/>
<path d="M189.5,459.5 L190.3,458.6 L191.3,457.9 L192.4,457.1 L193.5,456.5 L194.7,455.9 L196.0,455.4 L197.4,455.0 L198.7,454.6 L200.1,454.2 L201.4,453.9 L202.8,453.6 L204.1,453.2" fill="none" stroke="#141414" stroke-width="1.0" stroke-opacity="0.75" clip-path="url(#sagclip)"/>
<path d="M209.2,451.8 L210.2,451.4 L211.2,451.1 L212.3,450.7 L213.3,450.2 L214.3,449.8 L215.4,449.4 L216.5,449.0 L217.6,448.7 L218.8,448.3 L219.9,448.0 L221.1,447.8 L222.3,447.6" fill="none" stroke="#141414" stroke-width="1.0" stroke-opacity="0.75" clip-path="url(#sagclip)"/>
<path d="M229.6,447.9 L232.2,448.6 L234.6,449.5 L236.9,450.5 L239.0,451.5 L241.2,452.5 L243.4,453.4 L245.6,454.1 L248.0,454.9 L250.4,455.6 L252.8,456.4 L255.2,457.4 L257.3,458.6" fill="none" stroke="#141414" stroke-width="1.0" stroke-opacity="0.75" clip-path="url(#sagclip)"/>
<path d="M262.0,464.0 L262.4,465.1 L262.7,466.2 L262.9,467.4 L263.1,468.5 L263.2,469.6 L263.4,470.7 L263.5,471.7 L263.7,472.8 L264.0,473.8 L264.3,474.8 L264.6,475.9 L265.0,476.9" fill="none" stroke="#141414" stroke-width="1.0" stroke-opacity="0.75" clip-path="url(#sagclip)"/>
<path d="M179.4,478.4 L179.9,476.3 L180.2,474.3 L180.4,472.3 L180.6,470.2 L180.8,468.0 L181.2,465.8 L181.9,463.7 L183.0,461.6 L184.6,459.8 L186.7,458.1 L189.0,456.7 L191.6,455.5" fill="none" stroke="#a8a8a8" stroke-width="0.7" stroke-opacity="0.6" clip-path="url(#sagclip)"/>
<path d="M198.8,452.8 L200.5,452.1 L202.0,451.4 L203.6,450.6 L205.2,449.8 L206.7,449.0 L208.4,448.2 L210.0,447.4 L211.8,446.7 L213.6,446.0 L215.5,445.5 L217.4,445.1 L219.4,444.9" fill="none" stroke="#a8a8a8" stroke-width="0.7" stroke-opacity="0.6" clip-path="url(#sagclip)"/>
<path d="M228.9,446.0 L231.1,446.7 L233.2,447.4 L235.3,448.1 L237.4,448.7 L239.5,449.2 L241.7,449.7 L243.8,450.2 L246.1,450.6 L248.4,451.1 L250.6,451.7 L252.9,452.4 L255.0,453.3" fill="none" stroke="#a8a8a8" stroke-width="0.7" stroke-opacity="0.6" clip-path="url(#sagclip)"/>
<path d="M260.9,457.8 L261.7,459.0 L262.4,460.2 L263.0,461.4 L263.5,462.6 L264.0,463.8 L264.4,465.0 L264.8,466.2 L265.3,467.4 L265.8,468.5 L266.3,469.7 L266.9,470.8 L267.6,471.9" fill="none" stroke="#a8a8a8" stroke-width="0.7" stroke-opacity="0.6" clip-path="url(#sagclip)"/>
<path d="M269.3,474.9 L269.3,474.9 L269.3,474.9 L269.3,475.0 L269.4,475.0 L269.4,475.0 L269.4,475.0 L269.4,475.1 L269.4,475.1 L269.4,475.1 L269.4,475.1 L269.4,475.1 L269.5,475.2" fill="none" stroke="#a8a8a8" stroke-width="0.7" stroke-opacity="0.6" clip-path="url(#sagclip)"/>
<path d="M175.9,476.6 L175.8,475.2 L175.6,473.8 L175.5,472.4 L175.4,470.9 L175.5,469.5 L175.7,468.0 L176.0,466.6 L176.5,465.2 L177.3,463.9 L178.2,462.6 L179.3,461.4 L180.5,460.2" fill="none" stroke="#141414" stroke-width="1.0" stroke-opacity="0.75" clip-path="url(#sagclip)"/>
<path d="M183.1,458.3 L184.1,457.7 L185.2,457.0 L186.4,456.4 L187.5,455.8 L188.6,455.2 L189.7,454.6 L190.8,454.1 L191.9,453.5 L192.9,452.9 L193.9,452.3 L194.9,451.6 L195.9,451.0" fill="none" stroke="#141414" stroke-width="1.0" stroke-opacity="0.75" clip-path="url(#sagclip)"/>
<path d="M199.3,448.7 L201.4,447.3 L203.7,446.0 L206.2,444.9 L208.8,443.9 L211.6,443.3 L214.4,442.9 L217.4,442.9 L220.3,443.1 L223.1,443.4 L225.9,443.9 L228.7,444.5 L231.3,445.0" fill="none" stroke="#141414" stroke-width="1.0" stroke-opacity="0.75" clip-path="url(#sagclip)"/>
<path d="M237.0,445.8 L238.8,446.0 L240.7,446.2 L242.5,446.4 L244.4,446.6 L246.3,446.9 L248.1,447.2 L250.0,447.7 L251.7,448.2 L253.4,448.9 L255.0,449.7 L256.5,450.6 L257.9,451.6" fill="none" stroke="#141414" stroke-width="1.0" stroke-opacity="0.75" clip-path="url(#sagclip)"/>
<path d="M260.4,454.0 L261.9,456.0 L263.3,458.0 L264.5,460.1 L265.7,462.0 L267.0,463.9 L268.4,465.8 L270.0,467.7 L271.5,469.6 L272.9,471.6 L274.1,473.7 L274.9,475.9 L275.2,478.2" fill="none" stroke="#141414" stroke-width="1.0" stroke-opacity="0.75" clip-path="url(#sagclip)"/>
<path d="M171.0,477.2 L170.8,476.1 L170.6,475.0 L170.5,473.9 L170.4,472.8 L170.5,471.7 L170.6,470.6 L170.8,469.5 L171.2,468.4 L171.6,467.3 L172.2,466.2 L172.8,465.2 L173.6,464.2" fill="none" stroke="#a8a8a8" stroke-width="0.7" stroke-opacity="0.6" clip-path="url(#sagclip)"/>
<path d="M176.5,461.2 L178.4,459.7 L180.4,458.2 L182.4,456.8 L184.3,455.4 L186.1,454.0 L187.9,452.5 L189.7,451.0 L191.4,449.4 L193.3,447.8 L195.3,446.3 L197.5,445.0 L199.8,443.8" fill="none" stroke="#a8a8a8" stroke-width="0.7" stroke-opacity="0.6" clip-path="url(#sagclip)"/>
<path d="M204.3,442.2 L205.8,441.9 L207.3,441.6 L208.8,441.5 L210.3,441.3 L211.8,441.3 L213.3,441.3 L214.9,441.3 L216.4,441.4 L217.9,441.5 L219.3,441.6 L220.8,441.7 L222.3,441.8" fill="none" stroke="#a8a8a8" stroke-width="0.7" stroke-opacity="0.6" clip-path="url(#sagclip)"/>
<path d="M229.4,442.2 L231.3,442.2 L233.1,442.2 L235.1,442.2 L237.0,442.3 L238.9,442.3 L240.9,442.5 L242.8,442.7 L244.8,442.9 L246.7,443.3 L248.5,443.8 L250.3,444.4 L252.0,445.1" fill="none" stroke="#a8a8a8" stroke-width="0.7" stroke-opacity="0.6" clip-path="url(#sagclip)"/>
<path d="M260.0,451.0 L260.9,452.0 L261.8,453.0 L262.7,454.0 L263.6,455.0 L264.4,456.0 L265.3,456.9 L266.2,457.9 L267.2,458.8 L268.1,459.7 L269.1,460.6 L270.1,461.6 L271.1,462.5" fill="none" stroke="#a8a8a8" stroke-width="0.7" stroke-opacity="0.6" clip-path="url(#sagclip)"/>
<path d="M275.5,467.2 L275.8,467.6 L276.2,468.1 L276.5,468.6 L276.8,469.1 L277.0,469.6 L277.3,470.1 L277.5,470.6 L277.7,471.1 L277.9,471.6 L278.0,472.1 L278.2,472.6 L278.3,473.2" fill="none" stroke="#a8a8a8" stroke-width="0.7" stroke-opacity="0.6" clip-path="url(#sagclip)"/>
<path d="M166.2,472.5 L166.7,471.0 L167.3,469.6 L168.0,468.2 L169.0,466.9 L170.0,465.5 L171.1,464.3 L172.2,463.0 L173.4,461.9 L174.6,460.7 L175.8,459.5 L176.9,458.4 L178.0,457.2" fill="none" stroke="#141414" stroke-width="1.0" stroke-opacity="0.75" clip-path="url(#sagclip)"/>
<path d="M181.8,452.9 L182.6,452.0 L183.5,451.0 L184.3,450.0 L185.3,449.1 L186.2,448.2 L187.2,447.3 L188.3,446.4 L189.4,445.5 L190.6,444.7 L191.8,444.0 L193.1,443.3 L194.5,442.7" fill="none" stroke="#141414" stroke-width="1.0" stroke-opacity="0.75" clip-path="url(#sagclip)"/>
<path d="M201.5,440.7 L203.5,440.4 L205.6,440.2 L207.7,440.0 L209.8,439.9 L211.8,439.9 L213.8,439.8 L215.8,439.7 L217.8,439.6 L219.8,439.5 L221.8,439.4 L223.7,439.2 L225.7,439.1" fill="none" stroke="#141414" stroke-width="1.0" stroke-opacity="0.75" clip-path="url(#sagclip)"/>
<path d="M236.9,438.6 L240.3,438.9 L243.7,439.4 L246.9,440.4 L249.8,441.6 L252.6,443.1 L255.1,444.7 L257.5,446.5 L259.7,448.3 L261.8,450.1 L264.0,451.8 L266.3,453.5 L268.6,455.1" fill="none" stroke="#141414" stroke-width="1.0" stroke-opacity="0.75" clip-path="url(#sagclip)"/>
<path d="M274.2,459.3 L275.2,460.2 L276.1,461.1 L277.0,462.1 L277.8,463.1 L278.6,464.1 L279.2,465.2 L279.7,466.2 L280.2,467.4 L280.5,468.5 L280.8,469.6 L280.9,470.8 L280.9,471.9" fill="none" stroke="#141414" stroke-width="1.0" stroke-opacity="0.75" clip-path="url(#sagclip)"/>
<path d="M162.1,476.7 L162.4,475.2 L162.9,473.6 L163.6,472.1 L164.3,470.7 L165.2,469.2 L166.1,467.8 L167.1,466.4 L168.0,465.1 L169.0,463.7 L169.9,462.4 L170.9,461.1 L171.7,459.7" fill="none" stroke="#a8a8a8" stroke-width="0.7" stroke-opacity="0.6" clip-path="url(#sagclip)"/>
<path d="M176.5,452.2 L177.5,451.0 L178.5,449.8 L179.5,448.6 L180.7,447.4 L182.0,446.3 L183.3,445.3 L184.8,444.4 L186.4,443.5 L188.0,442.7 L189.7,442.0 L191.5,441.4 L193.3,440.9" fill="none" stroke="#a8a8a8" stroke-width="0.7" stroke-opacity="0.6" clip-path="url(#sagclip)"/>
<path d="M197.9,439.9 L201.6,439.3 L205.3,438.7 L208.9,438.2 L212.5,437.6 L216.1,437.0 L219.7,436.3 L223.5,435.7 L227.3,435.2 L231.2,435.0 L235.1,435.1 L238.9,435.7 L242.5,436.6" fill="none" stroke="#a8a8a8" stroke-width="0.7" stroke-opacity="0.6" clip-path="url(#sagclip)"/>
<path d="M250.4,440.0 L253.5,441.8 L256.5,443.6 L259.5,445.4 L262.5,447.1 L265.5,448.7 L268.7,450.4 L271.8,452.3 L274.7,454.2 L277.3,456.5 L279.5,458.9 L281.1,461.6 L282.2,464.4" fill="none" stroke="#a8a8a8" stroke-width="0.7" stroke-opacity="0.6" clip-path="url(#sagclip)"/>
<path d="M282.9,470.0 L282.9,470.3 L282.9,470.6 L282.9,470.9 L282.9,471.2 L282.9,471.5 L282.9,471.8 L282.9,472.1 L282.9,472.4 L282.9,472.7 L282.9,473.0 L282.9,473.3 L282.9,473.6" fill="none" stroke="#a8a8a8" stroke-width="0.7" stroke-opacity="0.6" clip-path="url(#sagclip)"/>
<path d="M161.0,473.2 L161.9,471.2 L162.9,469.2 L163.8,467.3 L164.6,465.3 L165.5,463.4 L166.3,461.4 L167.1,459.4 L168.0,457.4 L168.9,455.4 L170.0,453.4 L171.3,451.5 L172.9,449.6" fill="none" stroke="#141414" stroke-width="1.0" stroke-opacity="0.75" clip-path="url(#sagclip)"/>
<path d="M176.2,446.5 L177.9,445.4 L179.6,444.4 L181.5,443.4 L183.4,442.6 L185.4,441.8 L187.4,441.1 L189.5,440.5 L191.5,439.9 L193.6,439.3 L195.7,438.8 L197.7,438.3 L199.7,437.7" fill="none" stroke="#141414" stroke-width="1.0" stroke-opacity="0.75" clip-path="url(#sagclip)"/>
<path d="M210.9,434.5 L214.7,433.5 L218.5,432.7 L222.5,432.1 L226.5,431.9 L230.6,432.0 L234.5,432.6 L238.4,433.5 L242.0,434.7 L245.6,436.0 L248.9,437.5 L252.2,439.0 L255.5,440.4" fill="none" stroke="#141414" stroke-width="1.0" stroke-opacity="0.75" clip-path="url(#sagclip)"/>
<path d="M266.5,444.9 L268.6,445.8 L270.8,446.9 L272.8,448.1 L274.7,449.3 L276.5,450.7 L278.1,452.1 L279.5,453.7 L280.7,455.3 L281.7,457.1 L282.5,458.8 L283.2,460.6 L283.7,462.4" fill="none" stroke="#141414" stroke-width="1.0" stroke-opacity="0.75" clip-path="url(#sagclip)"/>
<path d="M285.2,469.8 L285.3,470.3 L285.4,470.9 L285.5,471.5 L285.6,472.1 L285.7,472.6 L285.8,473.2 L285.9,473.8 L286.1,474.3 L286.2,474.9 L286.3,475.5 L286.4,476.0 L286.6,476.6" fill="none" stroke="#141414" stroke-width="1.0" stroke-opacity="0.75" clip-path="url(#sagclip)"/>
<g clip-path="url(#sagclip)">
<rect x="208.20" y="442.60" width="3.05" height="3.05" fill="#a01a10" fill-opacity="0.92"/>
<rect x="210.80" y="442.60" width="3.05" height="3.05" fill="#a01a10" fill-opacity="0.92"/>
<rect x="213.40" y="442.60" width="3.05" height="3.05" fill="#c82a14" fill-opacity="0.92"/>
<rect x="216.00" y="442.60" width="3.05" height="3.05" fill="#c82a14" fill-opacity="0.92"/>
<rect x="218.60" y="442.60" width="3.05" height="3.05" fill="#c82a14" fill-opacity="0.92"/>
<rect x="221.20" y="442.60" width="3.05" height="3.05" fill="#c82a14" fill-opacity="0.92"/>
<rect x="223.80" y="442.60" width="3.05" height="3.05" fill="#a01a10" fill-opacity="0.92"/>
<rect x="226.40" y="442.60" width="3.05" height="3.05" fill="#a01a10" fill-opacity="0.92"/>
<rect x="205.60" y="445.20" width="3.05" height="3.05" fill="#a01a10" fill-opacity="0.92"/>
<rect x="208.20" y="445.20" width="3.05" height="3.05" fill="#c82a14" fill-opacity="0.92"/>
<rect x="210.80" y="445.20" width="3.05" height="3.05" fill="#c82a14" fill-opacity="0.92"/>
<rect x="213.40" y="445.20" width="3.05" height="3.05" fill="#c82a14" fill-opacity="0.92"/>
<rect x="216.00" y="445.20" width="3.05" height="3.05" fill="#c82a14" fill-opacity="0.92"/>
<rect x="218.60" y="445.20" width="3.05" height="3.05" fill="#f07018" fill-opacity="0.92"/>
<rect x="221.20" y="445.20" width="3.05" height="3.05" fill="#f07018" fill-opacity="0.92"/>
<rect x="223.80" y="445.20" width="3.05" height="3.05" fill="#f07018" fill-opacity="0.92"/>
<rect x="226.40" y="445.20" width="3.05" height="3.05" fill="#c82a14" fill-opacity="0.92"/>
<rect x="229.00" y="445.20" width="3.05" height="3.05" fill="#a01a10" fill-opacity="0.92"/>
<rect x="205.60" y="447.80" width="3.05" height="3.05" fill="#c82a14" fill-opacity="0.92"/>
<rect x="208.20" y="447.80" width="3.05" height="3.05" fill="#c82a14" fill-opacity="0.92"/>
<rect x="210.80" y="447.80" width="3.05" height="3.05" fill="#c82a14" fill-opacity="0.92"/>
<rect x="213.40" y="447.80" width="3.05" height="3.05" fill="#f07018" fill-opacity="0.92"/>
<rect x="216.00" y="447.80" width="3.05" height="3.05" fill="#f07018" fill-opacity="0.92"/>
<rect x="218.60" y="447.80" width="3.05" height="3.05" fill="#f07018" fill-opacity="0.92"/>
<rect x="221.20" y="447.80" width="3.05" height="3.05" fill="#f07018" fill-opacity="0.92"/>
<rect x="223.80" y="447.80" width="3.05" height="3.05" fill="#f07018" fill-opacity="0.92"/>
<rect x="226.40" y="447.80" width="3.05" height="3.05" fill="#f07018" fill-opacity="0.92"/>
<rect x="229.00" y="447.80" width="3.05" height="3.05" fill="#f07018" fill-opacity="0.92"/>
<rect x="231.60" y="447.80" width="3.05" height="3.05" fill="#a01a10" fill-opacity="0.92"/>
<rect x="203.00" y="450.40" width="3.05" height="3.05" fill="#a01a10" fill-opacity="0.92"/>
<rect x="205.60" y="450.40" width="3.05" height="3.05" fill="#c82a14" fill-opacity="0.92"/>
<rect x="208.20" y="450.40" width="3.05" height="3.05" fill="#c82a14" fill-opacity="0.92"/>
<rect x="210.80" y="450.40" width="3.05" height="3.05" fill="#f07018" fill-opacity="0.92"/>
<rect x="213.40" y="450.40" width="3.05" height="3.05" fill="#f07018" fill-opacity="0.92"/>
<rect x="216.00" y="450.40" width="3.05" height="3.05" fill="#f07018" fill-opacity="0.92"/>
<rect x="218.60" y="450.40" width="3.05" height="3.05" fill="#f8a848" fill-opacity="0.92"/>
<rect x="221.20" y="450.40" width="3.05" height="3.05" fill="#f8a848" fill-opacity="0.92"/>
<rect x="223.80" y="450.40" width="3.05" height="3.05" fill="#fde0b8" fill-opacity="0.92"/>
<rect x="226.40" y="450.40" width="3.05" height="3.05" fill="#fde0b8" fill-opacity="0.92"/>
<rect x="229.00" y="450.40" width="3.05" height="3.05" fill="#f07018" fill-opacity="0.92"/>
<rect x="231.60" y="450.40" width="3.05" height="3.05" fill="#f07018" fill-opacity="0.92"/>
<rect x="234.20" y="450.40" width="3.05" height="3.05" fill="#a01a10" fill-opacity="0.92"/>
<rect x="203.00" y="453.00" width="3.05" height="3.05" fill="#a01a10" fill-opacity="0.92"/>
<rect x="205.60" y="453.00" width="3.05" height="3.05" fill="#c82a14" fill-opacity="0.92"/>
<rect x="208.20" y="453.00" width="3.05" height="3.05" fill="#f07018" fill-opacity="0.92"/>
<rect x="210.80" y="453.00" width="3.05" height="3.05" fill="#f07018" fill-opacity="0.92"/>
<rect x="213.40" y="453.00" width="3.05" height="3.05" fill="#f07018" fill-opacity="0.92"/>
<rect x="216.00" y="453.00" width="3.05" height="3.05" fill="#f07018" fill-opacity="0.92"/>
<rect x="218.60" y="453.00" width="3.05" height="3.05" fill="#f8a848" fill-opacity="0.92"/>
<rect x="221.20" y="453.00" width="3.05" height="3.05" fill="#fde0b8" fill-opacity="0.92"/>
<rect x="223.80" y="453.00" width="3.05" height="3.05" fill="#fff8f0" fill-opacity="0.92"/>
<rect x="226.40" y="453.00" width="3.05" height="3.05" fill="#fff8f0" fill-opacity="0.92"/>
<rect x="229.00" y="453.00" width="3.05" height="3.05" fill="#fde0b8" fill-opacity="0.92"/>
<rect x="231.60" y="453.00" width="3.05" height="3.05" fill="#f07018" fill-opacity="0.92"/>
<rect x="234.20" y="453.00" width="3.05" height="3.05" fill="#c82a14" fill-opacity="0.92"/>
<rect x="203.00" y="455.60" width="3.05" height="3.05" fill="#a01a10" fill-opacity="0.92"/>
<rect x="205.60" y="455.60" width="3.05" height="3.05" fill="#c82a14" fill-opacity="0.92"/>
<rect x="208.20" y="455.60" width="3.05" height="3.05" fill="#f07018" fill-opacity="0.92"/>
<rect x="210.80" y="455.60" width="3.05" height="3.05" fill="#f07018" fill-opacity="0.92"/>
<rect x="213.40" y="455.60" width="3.05" height="3.05" fill="#f07018" fill-opacity="0.92"/>
<rect x="216.00" y="455.60" width="3.05" height="3.05" fill="#f07018" fill-opacity="0.92"/>
<rect x="218.60" y="455.60" width="3.05" height="3.05" fill="#f8a848" fill-opacity="0.92"/>
<rect x="221.20" y="455.60" width="3.05" height="3.05" fill="#fde0b8" fill-opacity="0.92"/>
<rect x="223.80" y="455.60" width="3.05" height="3.05" fill="#fff8f0" fill-opacity="0.92"/>
<rect x="226.40" y="455.60" width="3.05" height="3.05" fill="#fff8f0" fill-opacity="0.92"/>
<rect x="229.00" y="455.60" width="3.05" height="3.05" fill="#222222" fill-opacity="0.92"/>
<rect x="231.60" y="455.60" width="3.05" height="3.05" fill="#f07018" fill-opacity="0.92"/>
<rect x="234.20" y="455.60" width="3.05" height="3.05" fill="#c82a14" fill-opacity="0.92"/>
<rect x="205.60" y="458.20" width="3.05" height="3.05" fill="#c82a14" fill-opacity="0.92"/>
<rect x="208.20" y="458.20" width="3.05" height="3.05" fill="#c82a14" fill-opacity="0.92"/>
<rect x="210.80" y="458.20" width="3.05" height="3.05" fill="#f07018" fill-opacity="0.92"/>
<rect x="213.40" y="458.20" width="3.05" height="3.05" fill="#f07018" fill-opacity="0.92"/>
<rect x="216.00" y="458.20" width="3.05" height="3.05" fill="#f07018" fill-opacity="0.92"/>
<rect x="218.60" y="458.20" width="3.05" height="3.05" fill="#f07018" fill-opacity="0.92"/>
<rect x="221.20" y="458.20" width="3.05" height="3.05" fill="#f8a848" fill-opacity="0.92"/>
<rect x="223.80" y="458.20" width="3.05" height="3.05" fill="#f8a848" fill-opacity="0.92"/>
<rect x="226.40" y="458.20" width="3.05" height="3.05" fill="#fde0b8" fill-opacity="0.92"/>
<rect x="229.00" y="458.20" width="3.05" height="3.05" fill="#222222" fill-opacity="0.92"/>
<rect x="231.60" y="458.20" width="3.05" height="3.05" fill="#222222" fill-opacity="0.92"/>
<rect x="234.20" y="458.20" width="3.05" height="3.05" fill="#a01a10" fill-opacity="0.92"/>
<rect x="208.20" y="460.80" width="3.05" height="3.05" fill="#a01a10" fill-opacity="0.92"/>
<rect x="210.80" y="460.80" width="3.05" height="3.05" fill="#c82a14" fill-opacity="0.92"/>
<rect x="213.40" y="460.80" width="3.05" height="3.05" fill="#c82a14" fill-opacity="0.92"/>
<rect x="216.00" y="460.80" width="3.05" height="3.05" fill="#f07018" fill-opacity="0.92"/>
<rect x="218.60" y="460.80" width="3.05" height="3.05" fill="#f07018" fill-opacity="0.92"/>
<rect x="221.20" y="460.80" width="3.05" height="3.05" fill="#f07018" fill-opacity="0.92"/>
<rect x="223.80" y="460.80" width="3.05" height="3.05" fill="#f07018" fill-opacity="0.92"/>
<rect x="226.40" y="460.80" width="3.05" height="3.05" fill="#a01a10" fill-opacity="0.92"/>
<rect x="229.00" y="460.80" width="3.05" height="3.05" fill="#a01a10" fill-opacity="0.92"/>
<rect x="231.60" y="460.80" width="3.05" height="3.05" fill="#a01a10" fill-opacity="0.92"/>
</g>
<path d="M199,477 C201,467 212,462.5 224,462.5 C236,462.5 243,466 245.5,473 C244,477 240,481 234,483 C231,477 226,472 220,471.5 C212,471.5 205,474 199,477 Z" fill="#f2f2f2"/>
<path d="M198.5,476 C200.5,465.5 212,460.8 224,460.8 C236.5,460.8 244,464.5 246,472" fill="none" stroke="#fafafa" stroke-width="3"/>
<ellipse cx="223.5" cy="477" rx="7.5" ry="6.8" fill="#1c1c1c"/>
<ellipse cx="220" cy="475" rx="3" ry="2.6" fill="#4a4a4a"/>
<path d="M219,484 C224,481 232,483 237,489 C241,494 242,500 241,505 C242,510 245,515 246,520 C246,522.5 243,523 241,521.5 C238,518 236,513 234,509 C228,505 224,500 222,494 C220,490 218,487 219,484 Z" fill="#e2e2e2" stroke="#555" stroke-width="0.8"/>
<path d="M226,494 C230,498 234,501 236,506" stroke="#f4f4f4" stroke-width="2" fill="none"/>
<path d="M223,486 C226,489 229,490 231,489" stroke="#555" stroke-width="1.5" fill="none"/>
<path d="M242,483 C250,479 262,481 268,487 C273,494 271,503 264,508 C260,512 256,518 250,518 C245,517 243,511 243,505 C240,498 239,489 242,483 Z" fill="#333" stroke="#222" stroke-width="0.8"/>
<path d="M246,497 L251.2,484.4" stroke="#d8d8d8" stroke-width="1.1" fill="none"/>
<path d="M248.3,491.3 L251.6,489.1" stroke="#c8c8c8" stroke-width="0.7" fill="none"/>
<path d="M249.9,487.6 L253.2,485.3" stroke="#c8c8c8" stroke-width="0.7" fill="none"/>
<path d="M246,497 L258.6,486.9" stroke="#d8d8d8" stroke-width="1.1" fill="none"/>
<path d="M251.7,492.5 L255.6,491.7" stroke="#c8c8c8" stroke-width="0.7" fill="none"/>
<path d="M255.4,489.4 L255.4,485.4" stroke="#c8c8c8" stroke-width="0.7" fill="none"/>
<path d="M246,497 L263.8,491.1" stroke="#d8d8d8" stroke-width="1.1" fill="none"/>
<path d="M254.0,494.3 L255.6,490.7" stroke="#c8c8c8" stroke-width="0.7" fill="none"/>
<path d="M259.4,492.6 L260.9,488.9" stroke="#c8c8c8" stroke-width="0.7" fill="none"/>
<path d="M246,497 L266.0,496.3" stroke="#d8d8d8" stroke-width="1.1" fill="none"/>
<path d="M255.0,496.7 L258.2,499.1" stroke="#c8c8c8" stroke-width="0.7" fill="none"/>
<path d="M261.0,496.5 L264.2,498.9" stroke="#c8c8c8" stroke-width="0.7" fill="none"/>
<path d="M246,497 L264.7,501.7" stroke="#d8d8d8" stroke-width="1.1" fill="none"/>
<path d="M254.4,499.1 L258.2,497.8" stroke="#c8c8c8" stroke-width="0.7" fill="none"/>
<path d="M260.0,500.5 L261.9,504.0" stroke="#c8c8c8" stroke-width="0.7" fill="none"/>
<path d="M246,497 L260.1,506.2" stroke="#d8d8d8" stroke-width="1.1" fill="none"/>
<path d="M252.4,501.1 L256.3,501.5" stroke="#c8c8c8" stroke-width="0.7" fill="none"/>
<path d="M256.6,503.9 L256.9,507.9" stroke="#c8c8c8" stroke-width="0.7" fill="none"/>
<path d="M246,497 L253.2,509.1" stroke="#d8d8d8" stroke-width="1.1" fill="none"/>
<path d="M249.2,502.5 L252.7,504.4" stroke="#c8c8c8" stroke-width="0.7" fill="none"/>
<path d="M251.4,506.1 L250.1,509.9" stroke="#c8c8c8" stroke-width="0.7" fill="none"/>
<ellipse cx="250" cy="511" rx="5" ry="6.5" fill="#2e2e2e" stroke="#888" stroke-width="0.6"/>
<path d="M376.50,436.50 L376.18,436.31 L375.78,436.06 L375.30,435.75 L374.77,435.41 L374.19,435.04 L373.57,434.68 L372.93,434.33 L372.28,434.00 L371.64,433.72 L371.00,433.50 L370.37,433.32 L369.71,433.17 L369.04,433.03 L368.36,432.92 L367.66,432.83 L366.94,432.76 L366.22,432.72 L365.49,432.72 L364.75,432.74 L364.00,432.80 L363.24,432.89 L362.45,433.01 L361.64,433.16 L360.82,433.34 L360.00,433.54 L359.18,433.78 L358.36,434.04 L357.55,434.33 L356.76,434.65 L356.00,435.00 L355.25,435.38 L354.52,435.79 L353.80,436.23 L353.08,436.70 L352.38,437.20 L351.68,437.72 L351.00,438.26 L350.32,438.83 L349.65,439.41 L349.00,440.00 L348.35,440.61 L347.70,441.26 L347.06,441.92 L346.43,442.61 L345.81,443.31 L345.21,444.03 L344.62,444.76 L344.06,445.50 L343.51,446.25 L343.00,447.00 L342.51,447.75 L342.05,448.52 L341.61,449.30 L341.18,450.08 L340.78,450.88 L340.40,451.68 L340.03,452.50 L339.67,453.32 L339.33,454.15 L339.00,455.00 L338.68,455.86 L338.37,456.74 L338.08,457.63 L337.80,458.53 L337.53,459.44 L337.28,460.35 L337.06,461.27 L336.85,462.18 L336.66,463.10 L336.50,464.00 L336.36,464.90 L336.25,465.80 L336.16,466.70 L336.08,467.60 L336.03,468.50 L336.00,469.40 L335.98,470.30 L335.97,471.20 L335.98,472.10 L336.00,473.00 L336.03,473.90 L336.08,474.82 L336.14,475.73 L336.22,476.65 L336.31,477.56 L336.42,478.47 L336.54,479.37 L336.68,480.26 L336.83,481.14 L337.00,482.00 L337.18,482.85 L337.37,483.70 L337.58,484.54 L337.80,485.37 L338.03,486.19 L338.28,486.99 L338.56,487.78 L338.85,488.54 L339.16,489.29 L339.50,490.00 L339.86,490.69 L340.25,491.37 L340.66,492.03 L341.08,492.66 L341.53,493.28 L342.00,493.88 L342.48,494.45 L342.97,494.99 L343.48,495.51 L344.00,496.00 L344.53,496.46 L345.09,496.89 L345.66,497.30 L346.24,497.68 L346.84,498.03 L347.46,498.36 L348.08,498.68 L348.71,498.97 L349.35,499.24 L350.00,499.50 L350.66,499.74 L351.34,499.96 L352.03,500.16 L352.73,500.34 L353.44,500.50 L354.15,500.64 L354.87,500.76 L355.58,500.86 L356.30,500.94 L357.00,501.00 L357.71,501.05 L358.45,501.09 L359.19,501.12 L359.94,501.14 L360.69,501.12 L361.42,501.08 L362.12,501.01 L362.79,500.89 L363.42,500.72 L364.00,500.50 L364.54,500.23 L365.04,499.91 L365.51,499.55 L365.96,499.16 L366.38,498.72 L366.76,498.24 L367.12,497.73 L367.44,497.19 L367.74,496.61 L368.00,496.00 L368.24,495.34 L368.46,494.62 L368.65,493.86 L368.81,493.05 L368.94,492.22 L369.03,491.37 L369.09,490.51 L369.10,489.66 L369.08,488.82 L369.00,488.00 L368.85,487.20 L368.62,486.40 L368.33,485.60 L367.99,484.80 L367.62,484.00 L367.25,483.20 L366.88,482.40 L366.54,481.60 L366.24,480.80 L366.00,480.00 L365.81,479.20 L365.62,478.40 L365.46,477.60 L365.31,476.80 L365.19,476.00 L365.09,475.20 L365.02,474.40 L364.98,473.60 L364.97,472.80 L365.00,472.00 L365.06,471.19 L365.16,470.37 L365.28,469.54 L365.44,468.70 L365.62,467.88 L365.84,467.06 L366.09,466.25 L366.36,465.47 L366.66,464.72 L367.00,464.00 L367.38,463.32 L367.82,462.67 L368.30,462.05 L368.81,461.46 L369.34,460.88 L369.89,460.30 L370.44,459.74 L370.98,459.17 L371.51,458.59 L372.00,458.00 L372.49,457.37 L373.00,456.70 L373.53,456.01 L374.05,455.31 L374.56,454.62 L375.05,453.97 L375.50,453.36 L375.90,452.82 L376.23,452.36 L376.50,452.00 L376.50,450.71 L376.50,449.42 L376.50,448.12 L376.50,446.83 L376.50,445.54 L376.50,444.25 L376.50,442.96 L376.50,441.67 L376.50,440.38 L376.50,439.08 L376.50,437.79 Z" fill="none" stroke="#888" stroke-width="3.6" stroke-opacity="0.35" stroke-linejoin="round"/>
<path d="M376.50,436.50 L374.07,437.38 L374.54,436.76 L374.70,436.09 L374.46,435.40 L373.86,434.85 L373.08,434.59 L372.28,434.69 L371.59,435.13 L371.11,435.80 L370.84,436.40 L370.51,436.98 L370.18,437.56 L369.84,438.13 L369.62,438.76 L369.28,439.35 L368.95,439.93 L368.63,440.52 L368.50,441.18 L368.20,441.78 L367.91,442.38 L367.73,443.18 L367.34,443.79 L367.09,444.22 L366.76,444.32 L366.63,444.14 L366.42,443.65 L366.24,442.95 L366.15,442.13 L366.31,441.48 L366.33,440.82 L366.44,440.16 L366.50,439.50 L366.66,438.85 L366.97,438.21 L367.17,437.57 L367.40,436.93 L367.55,436.28 L367.61,435.62 L367.53,435.73 L367.45,434.60 L366.97,433.61 L366.10,432.94 L365.00,432.73 L363.92,433.03 L363.08,433.77 L362.64,434.79 L362.61,435.92 L362.69,436.47 L362.78,437.02 L362.86,437.57 L362.95,438.12 L363.03,438.67 L363.12,439.22 L363.21,439.77 L363.29,440.32 L363.38,440.87 L363.46,441.42 L363.55,441.97 L363.79,442.49 L363.77,443.62 L363.70,444.60 L363.30,445.34 L362.68,445.74 L362.16,445.68 L361.48,445.27 L360.95,444.48 L360.31,443.55 L359.97,443.09 L359.82,442.55 L359.57,442.06 L359.38,441.53 L359.12,441.04 L359.03,440.47 L358.93,439.90 L358.72,439.39 L358.55,438.85 L358.31,438.35 L358.08,437.84 L357.36,436.49 L356.93,435.88 L356.32,435.47 L355.60,435.37 L354.88,435.58 L354.32,436.08 L354.02,436.75 L354.02,437.50 L354.30,438.19 L354.82,438.62 L355.22,439.12 L355.47,439.73 L355.58,440.43 L355.64,441.17 L355.93,441.75 L356.35,442.24 L356.83,442.69 L357.12,443.38 L357.24,444.06 L357.19,444.62 L356.80,445.11 L356.31,445.32 L355.73,445.26 L355.07,445.01 L354.48,444.55 L354.21,443.94 L353.91,443.35 L353.47,442.88 L352.94,442.49 L352.44,442.07 L352.00,441.61 L351.67,441.04 L351.64,440.60 L350.97,440.07 L350.15,439.83 L349.31,439.95 L348.58,440.40 L348.10,441.10 L347.94,441.94 L348.13,442.77 L348.63,443.46 L348.94,443.86 L349.42,444.07 L350.13,444.04 L350.95,443.92 L351.64,443.93 L352.14,444.15 L352.41,444.56 L352.87,445.29 L353.11,446.06 L353.04,446.81 L352.73,447.37 L352.12,447.79 L351.40,447.89 L350.59,447.74 L349.87,447.29 L349.41,447.06 L348.89,446.92 L348.25,446.91 L347.58,446.96 L346.96,446.96 L346.41,446.86 L346.59,447.13 L345.53,446.61 L344.39,446.53 L343.31,446.95 L342.50,447.78 L342.10,448.88 L342.20,450.04 L342.77,451.05 L343.68,451.78 L344.28,451.69 L344.89,451.60 L345.44,451.61 L345.96,451.69 L346.49,451.75 L346.99,451.88 L347.54,451.92 L348.08,451.96 L348.65,451.98 L349.24,451.96 L350.14,452.69 L350.69,453.65 L350.94,454.53 L350.73,455.41 L350.18,456.02 L349.26,456.46 L348.15,456.57 L347.04,456.26 L346.50,456.28 L345.95,456.32 L345.40,456.36 L344.84,456.42 L344.29,456.48 L343.73,456.55 L343.17,456.62 L342.61,456.71 L342.05,456.81 L340.60,456.59 L339.81,456.47 L339.04,456.66 L338.40,457.14 L338.01,457.84 L337.93,458.64 L338.17,459.40 L338.69,460.00 L339.41,460.36 L340.18,460.33 L340.93,460.35 L341.67,460.42 L342.39,460.56 L343.09,460.77 L343.78,461.03 L344.46,461.31 L345.14,461.58 L345.84,461.79 L346.56,461.93 L347.30,462.00 L348.04,462.07 L348.79,462.11 L349.52,462.41 L350.06,462.95 L350.36,463.55 L350.38,464.09 L350.09,464.64 L349.55,465.00 L348.85,465.12 L348.05,465.11 L347.35,464.90 L346.64,464.72 L345.91,464.60 L345.19,464.49 L344.44,464.51 L343.69,464.52 L342.94,464.57 L342.19,464.65 L341.44,464.65 L340.71,464.62 L339.98,464.52 L339.27,464.37 L338.57,464.18 L337.76,464.20 L337.03,464.52 L336.49,465.11 L336.24,465.87 L336.32,466.67 L336.71,467.37 L337.35,467.86 L338.13,468.06 L338.84,468.10 L339.55,468.13 L340.27,468.19 L340.98,468.21 L341.70,468.21 L342.41,468.21 L343.13,468.21 L343.84,468.21 L344.56,468.21 L345.27,468.30 L345.98,468.33 L346.70,468.38 L347.41,468.43 L348.20,468.56 L348.84,468.97 L349.27,469.40 L349.41,470.03 L349.24,470.60 L348.79,471.13 L348.12,471.45 L347.33,471.62 L346.62,471.72 L345.90,471.77 L345.19,471.83 L344.48,471.86 L343.76,471.85 L343.05,471.82 L342.33,471.78 L341.62,471.75 L340.90,471.77 L340.19,471.77 L339.47,471.84 L338.76,471.93 L338.49,472.03 L337.53,472.23 L336.73,472.78 L336.21,473.60 L336.07,474.57 L336.32,475.52 L336.93,476.28 L337.79,476.74 L338.76,476.83 L339.11,476.78 L339.44,476.54 L339.75,476.03 L340.06,475.43 L340.38,474.96 L340.72,474.73 L341.07,474.70 L342.04,474.80 L342.88,475.22 L343.49,475.91 L343.76,476.73 L343.67,477.58 L343.22,478.32 L342.48,478.88 L341.55,479.18 L341.28,479.70 L340.99,480.07 L340.67,480.29 L340.33,480.42 L340.01,480.61 L339.73,481.02 L339.83,481.47 L338.80,481.90 L338.01,482.69 L337.61,483.73 L337.66,484.85 L338.16,485.85 L339.03,486.54 L340.10,486.80 L341.21,486.65 L341.65,487.04 L342.04,487.30 L342.31,487.23 L342.55,487.10 L342.84,487.08 L343.21,487.26 L343.68,487.63 L344.73,487.28 L345.74,487.21 L346.61,487.49 L347.16,487.95 L347.37,488.65 L347.28,489.56 L346.81,490.44 L346.11,491.32 L345.62,491.17 L345.23,491.13 L344.91,491.16 L344.69,491.31 L344.36,491.34 L343.96,491.27 L343.46,491.07 L342.69,491.87 L342.28,492.88 L342.36,493.97 L342.91,494.92 L343.83,495.54 L344.91,495.68 L345.94,495.32 L346.78,494.59 L347.03,494.16 L347.34,493.78 L347.76,493.48 L348.21,493.19 L348.72,492.94 L349.21,492.67 L349.62,492.34 L349.89,491.93 L350.16,491.52 L350.50,491.15 L351.13,490.25 L351.83,489.58 L352.48,489.22 L353.11,489.27 L353.59,489.70 L353.95,490.50 L353.97,491.48 L353.73,492.54 L353.56,493.01 L353.28,493.44 L352.99,493.86 L352.77,494.31 L352.46,494.73 L352.22,495.17 L351.90,495.58 L351.65,496.01 L351.35,496.43 L351.08,496.77 L350.89,497.90 L351.14,498.99 L351.83,499.87 L352.85,500.37 L354.00,500.38 L355.02,499.91 L355.78,499.06 L356.12,497.97 L356.65,497.78 L356.99,497.55 L357.08,497.31 L357.04,497.06 L357.13,496.82 L357.46,496.60 L358.01,496.39 L358.26,495.27 L358.81,494.35 L359.62,493.74 L360.39,493.52 L361.02,493.70 L361.38,494.29 L361.62,495.20 L361.86,496.32 L362.03,496.51 L362.10,496.75 L361.99,497.04 L361.82,497.32 L361.64,497.61 L361.41,497.88 L361.38,498.71 L361.60,499.60 L362.18,500.29 L363.00,500.65 L363.90,500.54 L364.61,499.97 L364.94,499.12 L364.83,498.21 L364.41,497.38 L364.16,496.85 L363.88,496.37 L363.44,496.05 L362.99,495.75 L362.55,495.44 L361.97,495.19 L361.55,494.83 L361.32,494.33 L361.20,493.74 L360.83,492.89 L360.42,492.18 L359.75,492.00 L359.18,492.31 L359.19,492.62 L359.71,492.71 L360.50,492.80 L361.31,493.19 L361.87,493.25 L362.35,493.52 L362.88,493.64 L363.39,493.82 L363.90,494.00 L364.42,494.18 L364.95,494.30 L365.49,494.38 L366.42,494.62 L367.17,494.71 L367.89,494.52 L368.45,494.04 L368.75,493.35 L368.73,492.59 L368.40,491.92 L367.82,491.44 L367.09,491.22 L366.65,490.70 L366.18,490.53 L365.70,490.70 L365.20,490.94 L364.74,490.75 L364.30,490.25 L363.55,490.18 L362.92,489.91 L362.50,489.45 L362.33,489.15 L362.45,488.87 L362.79,488.40 L363.34,488.07 L364.07,487.92 L364.53,487.79 L365.04,487.83 L365.54,487.87 L366.02,487.80 L366.51,487.86 L366.44,488.02 L367.35,487.65 L368.03,486.99 L368.31,486.11 L368.14,485.15 L367.57,484.35 L366.73,483.83 L365.75,483.66 L364.78,483.87 L364.29,484.09 L363.78,484.26 L363.21,484.30 L362.61,484.28 L361.97,484.15 L361.32,483.98 L360.72,483.94 L360.12,483.90 L359.60,484.04 L359.11,484.24 L358.14,484.40 L357.07,483.85 L356.20,482.86 L355.69,481.60 L355.58,480.26 L355.90,479.09 L356.57,478.18 L357.50,477.83 L358.06,477.96 L358.64,478.15 L359.19,478.21 L359.75,478.30 L360.30,478.29 L360.84,478.28 L361.39,478.29 L361.95,478.39 L362.52,478.47 L363.02,478.63 L363.94,478.20 L364.66,477.47 L365.07,476.53 L365.13,475.51 L364.83,474.54 L364.22,473.71 L363.37,473.12 L362.37,472.93 L361.80,473.40 L361.23,473.82 L360.66,474.06 L360.09,474.17 L359.51,474.22 L358.93,474.26 L358.37,474.51 L357.80,474.75 L357.26,475.26 L356.74,475.87 L355.73,475.77 L354.81,474.92 L354.20,473.69 L354.00,472.26 L354.29,470.62 L354.98,469.43 L355.92,468.79 L356.96,468.58 L357.57,468.37 L358.21,468.07 L358.84,467.84 L359.44,467.79 L360.03,467.78 L360.63,467.69 L361.23,467.65 L361.85,467.56 L362.48,467.36 L362.68,467.04 L363.88,467.10 L365.02,466.66 L365.97,465.89 L366.60,464.87 L366.90,463.70 L366.87,462.47 L366.46,461.34 L365.69,460.42 L365.38,460.28 L365.12,460.08 L364.92,459.79 L364.85,459.34 L364.72,458.98 L364.54,458.68 L364.28,458.47 L363.98,458.32 L363.30,457.31 L363.08,456.06 L363.45,454.68 L364.12,453.66 L364.95,453.11 L365.94,452.97 L367.07,453.13 L368.08,453.73 L368.48,453.77 L368.77,453.93 L368.92,454.28 L368.99,454.73 L369.06,455.18 L369.21,455.53 L369.50,455.70 L372.24,457.69 L372.85,456.90 L373.46,456.11 L374.06,455.31 L374.65,454.50 L375.25,453.70 L375.84,452.89 L376.43,452.09 L376.50,451.11 L376.50,450.11 L376.50,449.11 L376.50,448.11 L376.50,447.11 L376.50,446.11 L376.50,445.11 L376.50,444.11 L376.50,443.11 L376.50,442.11 L376.50,441.11 L376.50,440.11 L376.50,439.11 L376.50,438.11 L376.50,437.11 Z" fill="#fbfbfb" stroke="#2a2a2a" stroke-width="2.6" stroke-linejoin="round"/>
<path d="M378.30,436.50 L378.62,436.31 L379.02,436.06 L379.50,435.75 L380.03,435.41 L380.61,435.04 L381.23,434.68 L381.87,434.33 L382.52,434.00 L383.16,433.72 L383.80,433.50 L384.43,433.32 L385.09,433.17 L385.76,433.03 L386.44,432.92 L387.14,432.83 L387.86,432.76 L388.58,432.72 L389.31,432.72 L390.05,432.74 L390.80,432.80 L391.56,432.89 L392.35,433.01 L393.16,433.16 L393.98,433.34 L394.80,433.54 L395.62,433.78 L396.44,434.04 L397.25,434.33 L398.04,434.65 L398.80,435.00 L399.54,435.38 L400.28,435.79 L401.00,436.23 L401.72,436.70 L402.42,437.20 L403.12,437.72 L403.80,438.26 L404.48,438.83 L405.14,439.41 L405.80,440.00 L406.45,440.61 L407.10,441.26 L407.74,441.92 L408.37,442.61 L408.99,443.31 L409.59,444.03 L410.18,444.76 L410.74,445.50 L411.29,446.25 L411.80,447.00 L412.29,447.75 L412.75,448.52 L413.19,449.30 L413.62,450.08 L414.02,450.88 L414.40,451.68 L414.77,452.50 L415.13,453.32 L415.47,454.15 L415.80,455.00 L416.12,455.86 L416.43,456.74 L416.72,457.63 L417.00,458.53 L417.27,459.44 L417.52,460.35 L417.74,461.27 L417.95,462.18 L418.14,463.10 L418.30,464.00 L418.44,464.90 L418.55,465.80 L418.64,466.70 L418.72,467.60 L418.77,468.50 L418.80,469.40 L418.82,470.30 L418.83,471.20 L418.82,472.10 L418.80,473.00 L418.77,473.90 L418.72,474.82 L418.66,475.73 L418.58,476.65 L418.49,477.56 L418.38,478.47 L418.26,479.37 L418.12,480.26 L417.97,481.14 L417.80,482.00 L417.62,482.85 L417.43,483.70 L417.22,484.54 L417.00,485.37 L416.77,486.19 L416.52,486.99 L416.24,487.78 L415.95,488.54 L415.64,489.29 L415.30,490.00 L414.94,490.69 L414.55,491.37 L414.14,492.03 L413.72,492.66 L413.27,493.28 L412.80,493.88 L412.32,494.45 L411.83,494.99 L411.32,495.51 L410.80,496.00 L410.27,496.46 L409.71,496.89 L409.14,497.30 L408.56,497.68 L407.96,498.03 L407.34,498.36 L406.72,498.68 L406.09,498.97 L405.45,499.24 L404.80,499.50 L404.14,499.74 L403.46,499.96 L402.77,500.16 L402.07,500.34 L401.36,500.50 L400.65,500.64 L399.93,500.76 L399.22,500.86 L398.50,500.94 L397.80,501.00 L397.09,501.05 L396.35,501.09 L395.61,501.12 L394.86,501.14 L394.11,501.12 L393.38,501.08 L392.68,501.01 L392.01,500.89 L391.38,500.72 L390.80,500.50 L390.26,500.23 L389.76,499.91 L389.28,499.55 L388.84,499.16 L388.42,498.72 L388.04,498.24 L387.68,497.73 L387.36,497.19 L387.06,496.61 L386.80,496.00 L386.56,495.34 L386.34,494.62 L386.15,493.86 L385.99,493.05 L385.86,492.22 L385.77,491.37 L385.71,490.51 L385.70,489.66 L385.72,488.82 L385.80,488.00 L385.95,487.20 L386.18,486.40 L386.47,485.60 L386.81,484.80 L387.17,484.00 L387.55,483.20 L387.92,482.40 L388.26,481.60 L388.56,480.80 L388.80,480.00 L388.99,479.20 L389.18,478.40 L389.34,477.60 L389.49,476.80 L389.61,476.00 L389.71,475.20 L389.78,474.40 L389.82,473.60 L389.83,472.80 L389.80,472.00 L389.73,471.19 L389.64,470.37 L389.51,469.54 L389.36,468.70 L389.17,467.88 L388.96,467.06 L388.71,466.25 L388.44,465.47 L388.13,464.72 L387.80,464.00 L387.42,463.32 L386.98,462.67 L386.50,462.05 L385.99,461.46 L385.46,460.88 L384.91,460.30 L384.36,459.74 L383.82,459.17 L383.29,458.59 L382.80,458.00 L382.31,457.37 L381.80,456.70 L381.27,456.01 L380.75,455.31 L380.24,454.62 L379.75,453.97 L379.30,453.36 L378.90,452.82 L378.57,452.36 L378.30,452.00 L378.30,450.71 L378.30,449.42 L378.30,448.12 L378.30,446.83 L378.30,445.54 L378.30,444.25 L378.30,442.96 L378.30,441.67 L378.30,440.38 L378.30,439.08 L378.30,437.79 Z" fill="none" stroke="#888" stroke-width="3.6" stroke-opacity="0.35" stroke-linejoin="round"/>
<path d="M378.30,436.50 L381.08,437.70 L380.51,436.93 L380.27,436.15 L380.60,435.28 L381.35,434.61 L382.31,434.32 L383.29,434.49 L384.06,435.10 L384.59,435.97 L384.81,436.37 L385.04,436.77 L385.36,437.15 L385.74,437.51 L386.12,437.89 L386.38,438.29 L386.64,438.69 L386.69,439.14 L387.08,440.07 L387.50,440.86 L388.11,441.34 L388.61,441.50 L389.07,441.29 L389.58,440.74 L390.02,439.93 L390.15,438.94 L390.07,438.49 L389.86,438.02 L389.76,437.57 L389.56,437.11 L389.43,436.66 L389.29,436.21 L389.06,435.76 L388.87,435.06 L388.99,434.16 L389.48,433.41 L390.24,432.93 L391.14,432.84 L392.00,433.14 L392.65,433.76 L392.98,434.60 L392.98,435.51 L392.91,436.03 L392.91,436.56 L393.14,437.13 L393.38,437.73 L393.72,438.35 L393.98,438.96 L394.07,439.53 L394.07,440.07 L393.96,440.58 L393.73,441.45 L393.84,442.29 L394.07,442.91 L394.50,443.28 L395.05,443.35 L395.63,443.09 L396.29,442.59 L396.88,441.89 L396.91,441.32 L397.02,440.78 L397.09,440.23 L397.04,439.62 L397.05,439.05 L397.06,438.48 L397.06,437.91 L397.01,437.32 L397.07,436.63 L397.52,435.90 L398.22,435.44 L399.06,435.32 L399.87,435.56 L400.51,436.13 L400.86,436.90 L400.85,437.75 L400.50,438.53 L400.36,439.10 L400.24,439.69 L400.19,440.33 L400.17,441.01 L400.15,441.68 L400.11,442.35 L399.93,442.92 L399.69,443.43 L399.29,444.19 L399.13,444.98 L399.22,445.69 L399.62,446.27 L400.28,446.65 L401.01,446.70 L401.73,446.42 L402.44,445.94 L402.58,445.30 L402.74,444.69 L402.94,444.11 L403.14,443.53 L403.35,442.98 L403.53,442.39 L403.65,441.76 L403.56,441.25 L404.31,440.68 L405.22,440.44 L406.14,440.58 L406.94,441.10 L407.45,441.89 L407.60,442.82 L407.36,443.73 L406.78,444.48 L406.18,444.76 L405.62,445.09 L405.11,445.47 L404.67,445.93 L404.26,446.42 L403.89,446.96 L403.46,447.44 L403.01,447.89 L402.50,448.26 L401.96,448.62 L401.40,448.93 L400.78,449.64 L400.43,450.44 L400.43,451.25 L400.71,451.89 L401.25,452.29 L401.96,452.36 L402.85,452.24 L403.65,451.76 L404.21,451.45 L404.76,451.14 L405.27,450.75 L405.80,450.41 L406.33,450.05 L406.85,449.69 L407.38,449.34 L407.91,449.00 L408.46,448.67 L409.02,448.36 L409.59,448.06 L410.45,447.67 L411.39,447.67 L412.25,448.05 L412.88,448.74 L413.17,449.64 L413.07,450.57 L412.61,451.39 L411.85,451.95 L411.26,452.16 L410.67,452.38 L410.11,452.66 L409.59,453.01 L409.07,453.37 L408.59,453.82 L408.11,454.27 L407.58,454.62 L407.06,454.97 L406.49,455.24 L405.90,455.44 L405.29,455.62 L404.53,456.18 L404.00,456.90 L403.76,457.65 L403.87,458.39 L404.28,458.93 L404.96,459.23 L405.83,459.32 L406.77,459.18 L407.31,458.84 L407.88,458.58 L408.44,458.30 L409.02,458.07 L409.62,457.87 L410.22,457.70 L410.81,457.50 L411.41,457.30 L411.99,457.07 L412.56,456.82 L413.11,456.50 L413.78,456.12 L414.66,455.98 L415.52,456.17 L416.23,456.70 L416.67,457.47 L416.77,458.36 L416.50,459.20 L415.93,459.87 L415.13,460.27 L414.54,460.21 L413.96,460.19 L413.39,460.20 L412.82,460.22 L412.25,460.27 L411.70,460.34 L411.13,460.37 L410.56,460.41 L409.98,460.38 L409.40,460.37 L408.61,460.80 L408.02,461.39 L407.72,462.12 L407.73,462.82 L408.06,463.43 L408.68,463.90 L409.48,464.10 L410.37,464.09 L410.91,463.97 L411.45,463.87 L412.03,463.92 L412.61,464.04 L413.21,464.22 L413.81,464.42 L414.40,464.55 L414.96,464.60 L415.52,464.57 L415.80,464.53 L416.79,464.55 L417.69,464.96 L418.34,465.69 L418.64,466.64 L418.52,467.63 L418.02,468.48 L417.21,469.06 L416.25,469.28 L415.68,469.50 L415.11,469.69 L414.53,469.85 L413.96,470.00 L413.39,470.11 L412.81,470.23 L412.24,470.35 L411.66,470.45 L411.09,470.60 L410.51,470.73 L409.93,470.92 L409.36,471.08 L408.38,471.22 L407.55,471.72 L406.99,472.37 L406.77,473.17 L406.93,473.91 L407.43,474.65 L408.23,475.14 L409.19,475.36 L409.78,475.23 L410.37,475.11 L410.95,474.98 L411.53,474.92 L412.12,474.86 L412.70,474.82 L413.28,474.77 L413.86,474.74 L414.44,474.64 L415.03,474.52 L415.61,474.34 L416.35,474.17 L417.26,474.40 L418.01,474.95 L418.47,475.75 L418.58,476.68 L418.30,477.58 L417.69,478.29 L416.85,478.69 L415.92,478.75 L415.32,478.62 L414.70,478.57 L414.07,478.64 L413.42,478.84 L412.77,479.08 L412.10,479.34 L411.45,479.51 L410.82,479.58 L410.21,479.51 L409.61,479.35 L408.68,479.36 L407.82,479.67 L407.19,480.18 L406.84,480.89 L406.88,481.54 L407.22,482.33 L407.89,482.84 L408.72,483.26 L409.41,483.08 L410.07,482.98 L410.71,482.96 L411.31,483.09 L411.89,483.31 L412.46,483.54 L413.06,483.67 L413.70,483.65 L414.37,483.50 L415.10,483.25 L415.94,483.63 L416.57,484.30 L416.87,485.16 L416.80,486.08 L416.36,486.89 L415.63,487.44 L414.73,487.65 L413.83,487.47 L413.62,487.07 L413.37,486.77 L413.09,486.54 L412.79,486.35 L412.51,486.12 L412.25,485.84 L412.02,485.47 L411.12,485.30 L410.26,485.45 L409.58,485.79 L409.16,486.33 L409.05,487.00 L409.27,487.68 L409.80,488.29 L410.50,488.89 L410.59,489.39 L410.73,489.82 L411.03,489.98 L411.40,490.02 L411.70,490.19 L411.86,490.57 L411.83,491.16 L412.49,491.82 L412.85,492.66 L412.80,493.58 L412.36,494.40 L411.61,494.96 L410.70,495.13 L409.80,494.91 L409.07,494.32 L408.68,493.99 L408.28,493.68 L407.93,493.31 L407.52,493.01 L407.10,492.70 L406.78,492.32 L406.38,491.99 L405.99,491.66 L405.62,491.32 L405.02,490.61 L404.27,490.19 L403.79,489.88 L403.22,490.00 L402.94,490.35 L402.73,491.03 L402.82,491.84 L403.03,492.76 L403.49,493.10 L403.84,493.49 L404.10,493.93 L404.27,494.40 L404.29,494.94 L404.44,495.42 L404.69,495.86 L405.07,496.23 L405.45,496.26 L405.72,497.28 L405.59,498.31 L405.02,499.19 L404.12,499.75 L403.06,499.86 L402.07,499.52 L401.32,498.78 L400.89,497.81 L400.47,497.50 L400.15,497.17 L399.95,496.81 L399.78,496.44 L399.61,496.08 L399.43,495.71 L399.07,495.38 L398.70,495.04 L398.43,494.02 L397.90,493.19 L397.14,492.67 L396.34,492.51 L395.58,492.76 L394.92,493.37 L394.55,494.25 L394.32,495.29 L394.78,495.68 L395.08,496.07 L395.18,496.46 L395.10,496.85 L395.01,497.24 L395.11,497.62 L395.45,498.01 L395.96,498.28 L395.81,499.37 L395.24,500.30 L394.35,500.91 L393.26,501.07 L392.23,500.71 L391.60,499.92 L391.53,498.92 L391.83,497.86 L392.22,497.36 L392.72,496.89 L392.90,496.29 L392.95,495.65 L393.25,495.09 L393.52,494.51 L393.35,493.83 L393.58,493.24 L393.84,492.67 L393.82,492.03 L394.16,491.46 L394.18,490.83 L394.23,490.21 L394.51,489.16 L394.51,488.23 L395.90,487.99 L397.58,488.61 L397.07,488.51 L396.97,489.10 L396.72,490.02 L396.14,490.96 L395.70,491.40 L395.23,491.81 L394.71,492.14 L394.45,492.76 L394.06,493.25 L393.57,493.60 L393.07,493.97 L392.44,494.10 L391.83,494.25 L391.18,494.32 L390.63,494.60 L390.05,494.83 L388.68,495.46 L387.94,495.62 L387.22,495.49 L386.63,495.06 L386.29,494.39 L386.26,493.63 L386.55,492.95 L387.11,492.45 L387.82,492.19 L388.53,492.00 L389.24,491.77 L389.95,491.56 L390.64,491.19 L391.34,490.87 L392.05,490.53 L392.77,490.20 L393.49,489.93 L394.22,489.78 L394.95,489.76 L395.69,489.58 L396.43,489.47 L397.15,489.77 L397.89,489.65 L398.52,489.68 L398.95,489.56 L399.08,489.80 L398.93,489.95 L398.50,490.02 L397.93,489.75 L397.29,489.36 L396.57,489.20 L395.93,488.80 L395.17,488.75 L394.45,488.54 L393.71,488.40 L392.89,488.60 L392.12,488.61 L391.37,488.65 L390.62,488.68 L389.89,488.69 L389.14,488.80 L388.41,488.75 L388.78,488.87 L387.63,488.61 L386.73,487.87 L386.29,486.83 L386.44,485.67 L387.12,484.69 L388.13,484.06 L389.32,483.86 L390.49,484.11 L391.17,484.01 L391.85,483.92 L392.50,483.89 L393.16,483.83 L393.77,483.89 L394.40,483.88 L394.99,483.97 L395.58,484.05 L396.24,483.95 L396.87,483.95 L397.56,483.72 L398.26,483.43 L398.91,483.28 L400.15,483.19 L401.38,482.36 L402.35,481.11 L402.90,479.48 L402.94,477.74 L402.45,476.25 L401.56,475.07 L400.41,474.76 L399.79,475.26 L399.18,475.54 L398.56,475.92 L397.95,476.22 L397.35,476.31 L396.75,476.36 L396.15,476.51 L395.55,476.55 L394.95,476.64 L394.34,476.84 L393.71,477.09 L393.08,477.32 L391.70,477.48 L390.86,477.15 L390.21,476.53 L389.83,475.70 L389.75,474.81 L389.98,473.94 L390.50,473.19 L391.24,472.67 L392.11,472.48 L392.34,472.02 L392.58,471.93 L392.84,472.18 L393.10,472.49 L393.34,472.41 L393.57,471.92 L394.43,471.62 L395.12,470.98 L395.52,469.98 L395.54,468.87 L395.18,467.82 L394.50,467.00 L393.64,466.59 L392.74,466.63 L392.63,467.21 L392.41,467.34 L392.09,467.03 L391.76,466.74 L391.55,466.92 L391.69,467.42 L390.68,467.42 L389.73,467.07 L388.96,466.41 L388.46,465.54 L388.27,464.56 L388.40,463.54 L388.84,462.63 L389.55,461.92 L389.85,462.11 L390.09,462.21 L390.35,462.34 L390.57,462.40 L390.85,462.59 L391.09,462.74 L391.89,462.14 L392.22,461.00 L392.07,459.71 L391.45,458.53 L390.40,457.58 L389.32,457.22 L388.30,457.36 L387.44,457.86 L387.02,457.66 L386.76,457.63 L386.67,457.77 L386.58,457.90 L386.32,457.87 L385.47,458.09 L384.82,458.48 L384.07,458.60 L383.34,458.41 L382.75,457.94 L382.41,457.26 L382.36,456.50 L382.60,455.78 L383.10,455.21 L383.69,455.12 L384.15,454.86 L384.44,454.38 L384.67,453.82 L384.96,453.34 L385.42,453.08 L385.99,452.98 L386.51,452.43 L386.78,451.74 L386.75,450.99 L386.44,450.33 L385.89,449.83 L385.18,449.58 L384.57,449.82 L384.00,450.33 L383.49,450.56 L382.99,450.75 L382.57,451.01 L382.24,451.43 L381.93,451.89 L381.46,452.13 L379.24,453.27 L378.64,452.46 L378.30,451.58 L378.30,450.58 L378.30,449.58 L378.30,448.58 L378.30,447.58 L378.30,446.58 L378.30,445.58 L378.30,444.58 L378.30,443.58 L378.30,442.58 L378.30,441.58 L378.30,440.58 L378.30,439.58 L378.30,438.58 L378.30,437.58 Z" fill="#fbfbfb" stroke="#2a2a2a" stroke-width="2.6" stroke-linejoin="round"/>
<path d="M337,475 C343,474 350,475 357,478" fill="none" stroke="#222" stroke-width="2.6" stroke-linecap="round"/>
<path d="M417.8,475 C411.8,474 404.8,475 397.8,478" fill="none" stroke="#222" stroke-width="2.6" stroke-linecap="round"/>
<path d="M364,460 C370,456 385,456 391,460 C395,470 394,482 390,491 C385,496 370,496 365,491 C361,482 360,470 364,460 Z" fill="#f3f3f3"/>
<path d="M366,466 C368,461 373,461 377.4,466 C382,461 387,461 389,466" fill="none" stroke="#1a1a1a" stroke-width="1.6"/>
<path d="M368,466 C371,463 374,464 377.4,468 C381,464 384,463 387,466 C385,468 381,468 377.4,470 C374,468 370,468 368,466 Z" fill="#fff"/>
<path d="M368.5,469 C372,470 376,471 377.4,472 C379,471 383,470 386.5,469 C385,475 382,481 379,486 L376,486 C373,481 370,475 368.5,469 Z" fill="#6a6a6a"/>
<path d="M371,471 C373,474 375,478 376.5,483" stroke="#1a1a1a" stroke-width="1.4" fill="none"/>
<path d="M384,471 C382,474 380,478 378.5,483" stroke="#1a1a1a" stroke-width="1.4" fill="none"/>
<path d="M366,476 C367,484 370,489 373,491" fill="none" stroke="#bbb" stroke-width="2"/>
<path d="M389,476 C388,484 385,489 382,491" fill="none" stroke="#bbb" stroke-width="2"/>
<rect x="376.6" y="469" width="1.6" height="17" fill="#f4f4f4"/>
<path d="M369.5,491 C373,489 382,489 386,491 C387.5,497 385,503 381.5,507 C379,508.3 376,508.3 373.5,507 C370,503 368,497 369.5,491 Z" fill="#f2f2f2" stroke="#3a3a3a" stroke-width="0.9"/>
<path d="M373,495 C375,498 380,498 382,495" fill="none" stroke="#bbb" stroke-width="0.8"/>
<rect x="372.40" y="440.00" width="2.95" height="2.95" fill="#f8d8d8" fill-opacity="1.0"/>
<rect x="379.90" y="440.00" width="2.95" height="2.95" fill="#f8d8d8" fill-opacity="1.0"/>
<rect x="367.40" y="442.50" width="2.95" height="2.95" fill="#f8d8d8" fill-opacity="1.0"/>
<rect x="374.90" y="442.50" width="2.95" height="2.95" fill="#f8d8d8" fill-opacity="1.0"/>
<rect x="377.40" y="442.50" width="2.95" height="2.95" fill="#f8d8d8" fill-opacity="1.0"/>
<rect x="384.90" y="442.50" width="2.95" height="2.95" fill="#f8d8d8" fill-opacity="1.0"/>
<rect x="364.90" y="445.00" width="2.95" height="2.95" fill="#f8d8d8" fill-opacity="1.0"/>
<rect x="374.90" y="445.00" width="2.95" height="2.95" fill="#f0a080" fill-opacity="1.0"/>
<rect x="377.40" y="445.00" width="2.95" height="2.95" fill="#f08040" fill-opacity="1.0"/>
<rect x="387.40" y="445.00" width="2.95" height="2.95" fill="#f8d8d8" fill-opacity="1.0"/>
<rect x="364.90" y="447.50" width="2.95" height="2.95" fill="#f8d8d8" fill-opacity="1.0"/>
<rect x="374.90" y="447.50" width="2.95" height="2.95" fill="#f08040" fill-opacity="1.0"/>
<rect x="377.40" y="447.50" width="2.95" height="2.95" fill="#f49038" fill-opacity="1.0"/>
<rect x="387.40" y="447.50" width="2.95" height="2.95" fill="#f8d8d8" fill-opacity="1.0"/>
<rect x="389.90" y="447.50" width="2.95" height="2.95" fill="#f8d8d8" fill-opacity="1.0"/>
<rect x="362.40" y="450.00" width="2.95" height="2.95" fill="#f0a080" fill-opacity="1.0"/>
<rect x="372.40" y="450.00" width="2.95" height="2.95" fill="#f0a080" fill-opacity="1.0"/>
<rect x="374.90" y="450.00" width="2.95" height="2.95" fill="#f49038" fill-opacity="1.0"/>
<rect x="377.40" y="450.00" width="2.95" height="2.95" fill="#f49038" fill-opacity="1.0"/>
<rect x="379.90" y="450.00" width="2.95" height="2.95" fill="#f0a080" fill-opacity="1.0"/>
<rect x="389.90" y="450.00" width="2.95" height="2.95" fill="#f8d8d8" fill-opacity="1.0"/>
<rect x="362.40" y="452.50" width="2.95" height="2.95" fill="#f8b878" fill-opacity="1.0"/>
<rect x="364.90" y="452.50" width="2.95" height="2.95" fill="#f8b878" fill-opacity="1.0"/>
<rect x="367.40" y="452.50" width="2.95" height="2.95" fill="#f49038" fill-opacity="1.0"/>
<rect x="369.90" y="452.50" width="2.95" height="2.95" fill="#f49038" fill-opacity="1.0"/>
<rect x="372.40" y="452.50" width="2.95" height="2.95" fill="#f49038" fill-opacity="1.0"/>
<rect x="374.90" y="452.50" width="2.95" height="2.95" fill="#fde4c8" fill-opacity="1.0"/>
<rect x="377.40" y="452.50" width="2.95" height="2.95" fill="#fde4c8" fill-opacity="1.0"/>
<rect x="379.90" y="452.50" width="2.95" height="2.95" fill="#f49038" fill-opacity="1.0"/>
<rect x="382.40" y="452.50" width="2.95" height="2.95" fill="#f49038" fill-opacity="1.0"/>
<rect x="384.90" y="452.50" width="2.95" height="2.95" fill="#f49038" fill-opacity="1.0"/>
<rect x="387.40" y="452.50" width="2.95" height="2.95" fill="#f8b878" fill-opacity="1.0"/>
<rect x="362.40" y="455.00" width="2.95" height="2.95" fill="#f49038" fill-opacity="1.0"/>
<rect x="364.90" y="455.00" width="2.95" height="2.95" fill="#f49038" fill-opacity="1.0"/>
<rect x="367.40" y="455.00" width="2.95" height="2.95" fill="#f49038" fill-opacity="1.0"/>
<rect x="369.90" y="455.00" width="2.95" height="2.95" fill="#fde4c8" fill-opacity="1.0"/>
<rect x="372.40" y="455.00" width="2.95" height="2.95" fill="#fde4c8" fill-opacity="1.0"/>
<rect x="374.90" y="455.00" width="2.95" height="2.95" fill="#fde4c8" fill-opacity="1.0"/>
<rect x="377.40" y="455.00" width="2.95" height="2.95" fill="#fde4c8" fill-opacity="1.0"/>
<rect x="379.90" y="455.00" width="2.95" height="2.95" fill="#fde4c8" fill-opacity="1.0"/>
<rect x="382.40" y="455.00" width="2.95" height="2.95" fill="#fde4c8" fill-opacity="1.0"/>
<rect x="384.90" y="455.00" width="2.95" height="2.95" fill="#f49038" fill-opacity="1.0"/>
<rect x="387.40" y="455.00" width="2.95" height="2.95" fill="#f49038" fill-opacity="1.0"/>
<rect x="389.90" y="455.00" width="2.95" height="2.95" fill="#f49038" fill-opacity="1.0"/>
<rect x="364.90" y="457.50" width="2.95" height="2.95" fill="#f8b878" fill-opacity="1.0"/>
<rect x="367.40" y="457.50" width="2.95" height="2.95" fill="#f49038" fill-opacity="1.0"/>
<rect x="369.90" y="457.50" width="2.95" height="2.95" fill="#f49038" fill-opacity="1.0"/>
<rect x="372.40" y="457.50" width="2.95" height="2.95" fill="#fde4c8" fill-opacity="1.0"/>
<rect x="374.90" y="457.50" width="2.95" height="2.95" fill="#fde4c8" fill-opacity="1.0"/>
<rect x="377.40" y="457.50" width="2.95" height="2.95" fill="#fde4c8" fill-opacity="1.0"/>
<rect x="379.90" y="457.50" width="2.95" height="2.95" fill="#fde4c8" fill-opacity="1.0"/>
<rect x="382.40" y="457.50" width="2.95" height="2.95" fill="#f49038" fill-opacity="1.0"/>
<rect x="384.90" y="457.50" width="2.95" height="2.95" fill="#f49038" fill-opacity="1.0"/>
<rect x="387.40" y="457.50" width="2.95" height="2.95" fill="#f8b878" fill-opacity="1.0"/>
<rect x="372.40" y="460.00" width="2.95" height="2.95" fill="#f49038" fill-opacity="1.0"/>
<rect x="374.90" y="460.00" width="2.95" height="2.95" fill="#f49038" fill-opacity="1.0"/>
<rect x="377.40" y="460.00" width="2.95" height="2.95" fill="#f49038" fill-opacity="1.0"/>
<rect x="379.90" y="460.00" width="2.95" height="2.95" fill="#f49038" fill-opacity="1.0"/>
<rect x="352" y="466" width="4" height="4" fill="#c01818" fill-opacity="0.75"/>
<rect x="398" y="467" width="4" height="4" fill="#c01818" fill-opacity="0.75"/>
<rect x="348" y="492" width="5" height="4" fill="#c01818" fill-opacity="0.75"/>
<rect x="389" y="494" width="5" height="4" fill="#c01818" fill-opacity="0.75"/>
<rect x="354" y="498" width="4" height="3" fill="#c01818" fill-opacity="0.75"/>
<rect x="394" y="498" width="4" height="3" fill="#c01818" fill-opacity="0.75"/>
<rect x="24.20" y="395.10" width="1.0" height="1.0" fill="#222"/>
<rect x="24.20" y="526.30" width="1.0" height="1.0" fill="#222"/>
<rect x="19.80" y="401.90" width="1.0" height="1.0" fill="#222"/>
<rect x="130.80" y="401.90" width="1.0" height="1.0" fill="#222"/>
<rect x="30.70" y="395.10" width="1.0" height="1.0" fill="#222"/>
<rect x="30.70" y="526.30" width="1.0" height="1.0" fill="#222"/>
<rect x="19.80" y="407.90" width="1.0" height="1.0" fill="#222"/>
<rect x="130.80" y="407.90" width="1.0" height="1.0" fill="#222"/>
<rect x="37.20" y="395.10" width="1.0" height="1.0" fill="#222"/>
<rect x="37.20" y="526.30" width="1.0" height="1.0" fill="#222"/>
<rect x="19.80" y="413.90" width="1.0" height="1.0" fill="#222"/>
<rect x="130.80" y="413.90" width="1.0" height="1.0" fill="#222"/>
<rect x="43.40" y="394.80" width="1.6" height="1.6" fill="#222"/>
<rect x="43.40" y="526.00" width="1.6" height="1.6" fill="#222"/>
<rect x="19.50" y="419.60" width="1.6" height="1.6" fill="#222"/>
<rect x="130.50" y="419.60" width="1.6" height="1.6" fill="#222"/>
<rect x="50.20" y="395.10" width="1.0" height="1.0" fill="#222"/>
<rect x="50.20" y="526.30" width="1.0" height="1.0" fill="#222"/>
<rect x="19.80" y="425.90" width="1.0" height="1.0" fill="#222"/>
<rect x="130.80" y="425.90" width="1.0" height="1.0" fill="#222"/>
<rect x="56.70" y="395.10" width="1.0" height="1.0" fill="#222"/>
<rect x="56.70" y="526.30" width="1.0" height="1.0" fill="#222"/>
<rect x="19.80" y="431.90" width="1.0" height="1.0" fill="#222"/>
<rect x="130.80" y="431.90" width="1.0" height="1.0" fill="#222"/>
<rect x="63.20" y="395.10" width="1.0" height="1.0" fill="#222"/>
<rect x="63.20" y="526.30" width="1.0" height="1.0" fill="#222"/>
<rect x="19.80" y="437.90" width="1.0" height="1.0" fill="#222"/>
<rect x="130.80" y="437.90" width="1.0" height="1.0" fill="#222"/>
<rect x="69.70" y="395.10" width="1.0" height="1.0" fill="#222"/>
<rect x="69.70" y="526.30" width="1.0" height="1.0" fill="#222"/>
<rect x="19.80" y="443.90" width="1.0" height="1.0" fill="#222"/>
<rect x="130.80" y="443.90" width="1.0" height="1.0" fill="#222"/>
<rect x="75.90" y="394.80" width="1.6" height="1.6" fill="#222"/>
<rect x="75.90" y="526.00" width="1.6" height="1.6" fill="#222"/>
<rect x="19.50" y="449.60" width="1.6" height="1.6" fill="#222"/>
<rect x="130.50" y="449.60" width="1.6" height="1.6" fill="#222"/>
<rect x="82.70" y="395.10" width="1.0" height="1.0" fill="#222"/>
<rect x="82.70" y="526.30" width="1.0" height="1.0" fill="#222"/>
<rect x="19.80" y="455.90" width="1.0" height="1.0" fill="#222"/>
<rect x="130.80" y="455.90" width="1.0" height="1.0" fill="#222"/>
<rect x="89.20" y="395.10" width="1.0" height="1.0" fill="#222"/>
<rect x="89.20" y="526.30" width="1.0" height="1.0" fill="#222"/>
<rect x="19.80" y="461.90" width="1.0" height="1.0" fill="#222"/>
<rect x="130.80" y="461.90" width="1.0" height="1.0" fill="#222"/>
<rect x="95.70" y="395.10" width="1.0" height="1.0" fill="#222"/>
<rect x="95.70" y="526.30" width="1.0" height="1.0" fill="#222"/>
<rect x="19.80" y="467.90" width="1.0" height="1.0" fill="#222"/>
<rect x="130.80" y="467.90" width="1.0" height="1.0" fill="#222"/>
<rect x="102.20" y="395.10" width="1.0" height="1.0" fill="#222"/>
<rect x="102.20" y="526.30" width="1.0" height="1.0" fill="#222"/>
<rect x="19.80" y="473.90" width="1.0" height="1.0" fill="#222"/>
<rect x="130.80" y="473.90" width="1.0" height="1.0" fill="#222"/>
<rect x="108.40" y="394.80" width="1.6" height="1.6" fill="#222"/>
<rect x="108.40" y="526.00" width="1.6" height="1.6" fill="#222"/>
<rect x="19.50" y="479.60" width="1.6" height="1.6" fill="#222"/>
<rect x="130.50" y="479.60" width="1.6" height="1.6" fill="#222"/>
<rect x="115.20" y="395.10" width="1.0" height="1.0" fill="#222"/>
<rect x="115.20" y="526.30" width="1.0" height="1.0" fill="#222"/>
<rect x="19.80" y="485.90" width="1.0" height="1.0" fill="#222"/>
<rect x="130.80" y="485.90" width="1.0" height="1.0" fill="#222"/>
<rect x="121.70" y="395.10" width="1.0" height="1.0" fill="#222"/>
<rect x="121.70" y="526.30" width="1.0" height="1.0" fill="#222"/>
<rect x="19.80" y="491.90" width="1.0" height="1.0" fill="#222"/>
<rect x="130.80" y="491.90" width="1.0" height="1.0" fill="#222"/>
<rect x="128.20" y="395.10" width="1.0" height="1.0" fill="#222"/>
<rect x="128.20" y="526.30" width="1.0" height="1.0" fill="#222"/>
<rect x="19.80" y="497.90" width="1.0" height="1.0" fill="#222"/>
<rect x="130.80" y="497.90" width="1.0" height="1.0" fill="#222"/>
<rect x="19.80" y="503.90" width="1.0" height="1.0" fill="#222"/>
<rect x="130.80" y="503.90" width="1.0" height="1.0" fill="#222"/>
<rect x="19.50" y="509.60" width="1.6" height="1.6" fill="#222"/>
<rect x="130.50" y="509.60" width="1.6" height="1.6" fill="#222"/>
<rect x="19.80" y="515.90" width="1.0" height="1.0" fill="#222"/>
<rect x="130.80" y="515.90" width="1.0" height="1.0" fill="#222"/>
<rect x="19.80" y="521.90" width="1.0" height="1.0" fill="#222"/>
<rect x="130.80" y="521.90" width="1.0" height="1.0" fill="#222"/>
<rect x="159.50" y="419.00" width="1.6" height="1.6" fill="#222"/>
<rect x="291.90" y="419.00" width="1.6" height="1.6" fill="#222"/>
<rect x="161.12" y="413.70" width="1.0" height="1.0" fill="#222"/>
<rect x="161.12" y="523.50" width="1.0" height="1.0" fill="#222"/>
<rect x="159.80" y="425.28" width="1.0" height="1.0" fill="#222"/>
<rect x="292.20" y="425.28" width="1.0" height="1.0" fill="#222"/>
<rect x="167.14" y="413.70" width="1.0" height="1.0" fill="#222"/>
<rect x="167.14" y="523.50" width="1.0" height="1.0" fill="#222"/>
<rect x="159.80" y="431.26" width="1.0" height="1.0" fill="#222"/>
<rect x="292.20" y="431.26" width="1.0" height="1.0" fill="#222"/>
<rect x="173.16" y="413.70" width="1.0" height="1.0" fill="#222"/>
<rect x="173.16" y="523.50" width="1.0" height="1.0" fill="#222"/>
<rect x="159.80" y="437.24" width="1.0" height="1.0" fill="#222"/>
<rect x="292.20" y="437.24" width="1.0" height="1.0" fill="#222"/>
<rect x="179.18" y="413.70" width="1.0" height="1.0" fill="#222"/>
<rect x="179.18" y="523.50" width="1.0" height="1.0" fill="#222"/>
<rect x="159.80" y="443.22" width="1.0" height="1.0" fill="#222"/>
<rect x="292.20" y="443.22" width="1.0" height="1.0" fill="#222"/>
<rect x="184.90" y="413.40" width="1.6" height="1.6" fill="#222"/>
<rect x="184.90" y="523.20" width="1.6" height="1.6" fill="#222"/>
<rect x="159.50" y="448.90" width="1.6" height="1.6" fill="#222"/>
<rect x="291.90" y="448.90" width="1.6" height="1.6" fill="#222"/>
<rect x="191.22" y="413.70" width="1.0" height="1.0" fill="#222"/>
<rect x="191.22" y="523.50" width="1.0" height="1.0" fill="#222"/>
<rect x="159.80" y="455.18" width="1.0" height="1.0" fill="#222"/>
<rect x="292.20" y="455.18" width="1.0" height="1.0" fill="#222"/>
<rect x="197.24" y="413.70" width="1.0" height="1.0" fill="#222"/>
<rect x="197.24" y="523.50" width="1.0" height="1.0" fill="#222"/>
<rect x="159.80" y="461.16" width="1.0" height="1.0" fill="#222"/>
<rect x="292.20" y="461.16" width="1.0" height="1.0" fill="#222"/>
<rect x="203.26" y="413.70" width="1.0" height="1.0" fill="#222"/>
<rect x="203.26" y="523.50" width="1.0" height="1.0" fill="#222"/>
<rect x="159.80" y="467.14" width="1.0" height="1.0" fill="#222"/>
<rect x="292.20" y="467.14" width="1.0" height="1.0" fill="#222"/>
<rect x="209.28" y="413.70" width="1.0" height="1.0" fill="#222"/>
<rect x="209.28" y="523.50" width="1.0" height="1.0" fill="#222"/>
<rect x="159.80" y="473.12" width="1.0" height="1.0" fill="#222"/>
<rect x="292.20" y="473.12" width="1.0" height="1.0" fill="#222"/>
<rect x="215.00" y="413.40" width="1.6" height="1.6" fill="#222"/>
<rect x="215.00" y="523.20" width="1.6" height="1.6" fill="#222"/>
<rect x="159.50" y="478.80" width="1.6" height="1.6" fill="#222"/>
<rect x="291.90" y="478.80" width="1.6" height="1.6" fill="#222"/>
<rect x="221.32" y="413.70" width="1.0" height="1.0" fill="#222"/>
<rect x="221.32" y="523.50" width="1.0" height="1.0" fill="#222"/>
<rect x="159.80" y="485.08" width="1.0" height="1.0" fill="#222"/>
<rect x="292.20" y="485.08" width="1.0" height="1.0" fill="#222"/>
<rect x="227.34" y="413.70" width="1.0" height="1.0" fill="#222"/>
<rect x="227.34" y="523.50" width="1.0" height="1.0" fill="#222"/>
<rect x="159.80" y="491.06" width="1.0" height="1.0" fill="#222"/>
<rect x="292.20" y="491.06" width="1.0" height="1.0" fill="#222"/>
<rect x="233.36" y="413.70" width="1.0" height="1.0" fill="#222"/>
<rect x="233.36" y="523.50" width="1.0" height="1.0" fill="#222"/>
<rect x="159.80" y="497.04" width="1.0" height="1.0" fill="#222"/>
<rect x="292.20" y="497.04" width="1.0" height="1.0" fill="#222"/>
<rect x="239.38" y="413.70" width="1.0" height="1.0" fill="#222"/>
<rect x="239.38" y="523.50" width="1.0" height="1.0" fill="#222"/>
<rect x="159.80" y="503.02" width="1.0" height="1.0" fill="#222"/>
<rect x="292.20" y="503.02" width="1.0" height="1.0" fill="#222"/>
<rect x="245.10" y="413.40" width="1.6" height="1.6" fill="#222"/>
<rect x="245.10" y="523.20" width="1.6" height="1.6" fill="#222"/>
<rect x="159.50" y="508.70" width="1.6" height="1.6" fill="#222"/>
<rect x="291.90" y="508.70" width="1.6" height="1.6" fill="#222"/>
<rect x="251.42" y="413.70" width="1.0" height="1.0" fill="#222"/>
<rect x="251.42" y="523.50" width="1.0" height="1.0" fill="#222"/>
<rect x="159.80" y="514.98" width="1.0" height="1.0" fill="#222"/>
<rect x="292.20" y="514.98" width="1.0" height="1.0" fill="#222"/>
<rect x="257.44" y="413.70" width="1.0" height="1.0" fill="#222"/>
<rect x="257.44" y="523.50" width="1.0" height="1.0" fill="#222"/>
<rect x="159.80" y="520.96" width="1.0" height="1.0" fill="#222"/>
<rect x="292.20" y="520.96" width="1.0" height="1.0" fill="#222"/>
<rect x="263.46" y="413.70" width="1.0" height="1.0" fill="#222"/>
<rect x="263.46" y="523.50" width="1.0" height="1.0" fill="#222"/>
<rect x="269.48" y="413.70" width="1.0" height="1.0" fill="#222"/>
<rect x="269.48" y="523.50" width="1.0" height="1.0" fill="#222"/>
<rect x="275.20" y="413.40" width="1.6" height="1.6" fill="#222"/>
<rect x="275.20" y="523.20" width="1.6" height="1.6" fill="#222"/>
<rect x="281.52" y="413.70" width="1.0" height="1.0" fill="#222"/>
<rect x="281.52" y="523.50" width="1.0" height="1.0" fill="#222"/>
<rect x="287.54" y="413.70" width="1.0" height="1.0" fill="#222"/>
<rect x="287.54" y="523.50" width="1.0" height="1.0" fill="#222"/>
<rect x="321.40" y="419.00" width="1.6" height="1.6" fill="#222"/>
<rect x="432.50" y="419.00" width="1.6" height="1.6" fill="#222"/>
<rect x="323.75" y="413.70" width="1.0" height="1.0" fill="#222"/>
<rect x="323.75" y="523.80" width="1.0" height="1.0" fill="#222"/>
<rect x="321.70" y="425.28" width="1.0" height="1.0" fill="#222"/>
<rect x="432.80" y="425.28" width="1.0" height="1.0" fill="#222"/>
<rect x="329.70" y="413.70" width="1.0" height="1.0" fill="#222"/>
<rect x="329.70" y="523.80" width="1.0" height="1.0" fill="#222"/>
<rect x="321.70" y="431.26" width="1.0" height="1.0" fill="#222"/>
<rect x="432.80" y="431.26" width="1.0" height="1.0" fill="#222"/>
<rect x="335.65" y="413.70" width="1.0" height="1.0" fill="#222"/>
<rect x="335.65" y="523.80" width="1.0" height="1.0" fill="#222"/>
<rect x="321.70" y="437.24" width="1.0" height="1.0" fill="#222"/>
<rect x="432.80" y="437.24" width="1.0" height="1.0" fill="#222"/>
<rect x="341.60" y="413.70" width="1.0" height="1.0" fill="#222"/>
<rect x="341.60" y="523.80" width="1.0" height="1.0" fill="#222"/>
<rect x="321.70" y="443.22" width="1.0" height="1.0" fill="#222"/>
<rect x="432.80" y="443.22" width="1.0" height="1.0" fill="#222"/>
<rect x="347.25" y="413.40" width="1.6" height="1.6" fill="#222"/>
<rect x="347.25" y="523.50" width="1.6" height="1.6" fill="#222"/>
<rect x="321.40" y="448.90" width="1.6" height="1.6" fill="#222"/>
<rect x="432.50" y="448.90" width="1.6" height="1.6" fill="#222"/>
<rect x="353.50" y="413.70" width="1.0" height="1.0" fill="#222"/>
<rect x="353.50" y="523.80" width="1.0" height="1.0" fill="#222"/>
<rect x="321.70" y="455.18" width="1.0" height="1.0" fill="#222"/>
<rect x="432.80" y="455.18" width="1.0" height="1.0" fill="#222"/>
<rect x="359.45" y="413.70" width="1.0" height="1.0" fill="#222"/>
<rect x="359.45" y="523.80" width="1.0" height="1.0" fill="#222"/>
<rect x="321.70" y="461.16" width="1.0" height="1.0" fill="#222"/>
<rect x="432.80" y="461.16" width="1.0" height="1.0" fill="#222"/>
<rect x="365.40" y="413.70" width="1.0" height="1.0" fill="#222"/>
<rect x="365.40" y="523.80" width="1.0" height="1.0" fill="#222"/>
<rect x="321.70" y="467.14" width="1.0" height="1.0" fill="#222"/>
<rect x="432.80" y="467.14" width="1.0" height="1.0" fill="#222"/>
<rect x="371.35" y="413.70" width="1.0" height="1.0" fill="#222"/>
<rect x="371.35" y="523.80" width="1.0" height="1.0" fill="#222"/>
<rect x="321.70" y="473.12" width="1.0" height="1.0" fill="#222"/>
<rect x="432.80" y="473.12" width="1.0" height="1.0" fill="#222"/>
<rect x="377.00" y="413.40" width="1.6" height="1.6" fill="#222"/>
<rect x="377.00" y="523.50" width="1.6" height="1.6" fill="#222"/>
<rect x="321.40" y="478.80" width="1.6" height="1.6" fill="#222"/>
<rect x="432.50" y="478.80" width="1.6" height="1.6" fill="#222"/>
<rect x="383.25" y="413.70" width="1.0" height="1.0" fill="#222"/>
<rect x="383.25" y="523.80" width="1.0" height="1.0" fill="#222"/>
<rect x="321.70" y="485.08" width="1.0" height="1.0" fill="#222"/>
<rect x="432.80" y="485.08" width="1.0" height="1.0" fill="#222"/>
<rect x="389.20" y="413.70" width="1.0" height="1.0" fill="#222"/>
<rect x="389.20" y="523.80" width="1.0" height="1.0" fill="#222"/>
<rect x="321.70" y="491.06" width="1.0" height="1.0" fill="#222"/>
<rect x="432.80" y="491.06" width="1.0" height="1.0" fill="#222"/>
<rect x="395.15" y="413.70" width="1.0" height="1.0" fill="#222"/>
<rect x="395.15" y="523.80" width="1.0" height="1.0" fill="#222"/>
<rect x="321.70" y="497.04" width="1.0" height="1.0" fill="#222"/>
<rect x="432.80" y="497.04" width="1.0" height="1.0" fill="#222"/>
<rect x="401.10" y="413.70" width="1.0" height="1.0" fill="#222"/>
<rect x="401.10" y="523.80" width="1.0" height="1.0" fill="#222"/>
<rect x="321.70" y="503.02" width="1.0" height="1.0" fill="#222"/>
<rect x="432.80" y="503.02" width="1.0" height="1.0" fill="#222"/>
<rect x="406.75" y="413.40" width="1.6" height="1.6" fill="#222"/>
<rect x="406.75" y="523.50" width="1.6" height="1.6" fill="#222"/>
<rect x="321.40" y="508.70" width="1.6" height="1.6" fill="#222"/>
<rect x="432.50" y="508.70" width="1.6" height="1.6" fill="#222"/>
<rect x="413.00" y="413.70" width="1.0" height="1.0" fill="#222"/>
<rect x="413.00" y="523.80" width="1.0" height="1.0" fill="#222"/>
<rect x="321.70" y="514.98" width="1.0" height="1.0" fill="#222"/>
<rect x="432.80" y="514.98" width="1.0" height="1.0" fill="#222"/>
<rect x="418.95" y="413.70" width="1.0" height="1.0" fill="#222"/>
<rect x="418.95" y="523.80" width="1.0" height="1.0" fill="#222"/>
<rect x="321.70" y="520.96" width="1.0" height="1.0" fill="#222"/>
<rect x="432.80" y="520.96" width="1.0" height="1.0" fill="#222"/>
<rect x="424.90" y="413.70" width="1.0" height="1.0" fill="#222"/>
<rect x="424.90" y="523.80" width="1.0" height="1.0" fill="#222"/>
<rect x="430.85" y="413.70" width="1.0" height="1.0" fill="#222"/>
<rect x="430.85" y="523.80" width="1.0" height="1.0" fill="#222"/>
<polygon points="68.9,389.2 76,389.2 72.5,394.6" fill="#111"/>
<polygon points="15.3,458.6 15.3,466.4 19.3,462.5" fill="#111"/>
<polygon points="223.6,408.4 231.2,408.4 227.4,413" fill="#111"/>
<polygon points="154.6,452.3 154.6,459.5 159.5,456" fill="#111"/>
<polygon points="370.9,408.6 378.3,408.6 374.6,413.2" fill="#111"/>
<polygon points="316.9,452.2 316.9,459.3 321.3,455.8" fill="#111"/>
<text x="22.4" y="402.40000000000003" font-size="7.2" text-anchor="start" fill="#333">L</text>
<text x="127.3" y="402.90000000000003" font-size="7.2" text-anchor="end" fill="#333">R</text>
<text x="141.1" y="403.1" font-size="7.2" text-anchor="middle" fill="#333" letter-spacing="1.2">(Y)</text>
<text x="144.1" y="421.6" font-size="7.2" text-anchor="end" fill="#333">+5</text>
<text x="144.1" y="451.6" font-size="7.2" text-anchor="end" fill="#333">0</text>
<text x="144.1" y="482.6" font-size="7.2" text-anchor="end" fill="#333">-5</text>
<text x="144.1" y="512.2" font-size="7.2" text-anchor="end" fill="#333">-10</text>
<text x="44.2" y="537.2" font-size="7.2" text-anchor="middle" fill="#333">-5</text>
<text x="76.7" y="537.2" font-size="7.2" text-anchor="middle" fill="#333">0</text>
<text x="100.8" y="537.2" font-size="7.2" text-anchor="start" fill="#333">+5 cm</text>
<text x="129.2" y="537.2" font-size="7.2" text-anchor="middle" fill="#333" letter-spacing="1.2">(X)</text>
<text x="161.9" y="421.5" font-size="7.2" text-anchor="start" fill="#333">A</text>
<text x="288.8" y="421.3" font-size="7.2" text-anchor="end" fill="#333">P</text>
<text x="302.3" y="428.1" font-size="7.2" text-anchor="middle" fill="#333" letter-spacing="1.2">(Z)</text>
<text x="303.8" y="452.40000000000003" font-size="7.2" text-anchor="end" fill="#333">+5</text>
<text x="303.5" y="482.20000000000005" font-size="7.2" text-anchor="end" fill="#333">0</text>
<text x="303.8" y="512.2" font-size="7.2" text-anchor="end" fill="#333">-5</text>
<text x="166.6" y="533.8000000000001" font-size="7.2" text-anchor="middle" fill="#333" letter-spacing="1.2">(Y)</text>
<text x="184.6" y="533.8000000000001" font-size="7.2" text-anchor="middle" fill="#333">+5</text>
<text x="215.8" y="533.8000000000001" font-size="7.2" text-anchor="middle" fill="#333">0</text>
<text x="244.8" y="533.8000000000001" font-size="7.2" text-anchor="middle" fill="#333">-5</text>
<text x="270.4" y="533.8000000000001" font-size="7.2" text-anchor="start" fill="#333">-10 cm</text>
<text x="323.6" y="421.5" font-size="7.2" text-anchor="start" fill="#333">L</text>
<text x="428.9" y="421.3" font-size="7.2" text-anchor="end" fill="#333">R</text>
<text x="442.5" y="428.1" font-size="7.2" text-anchor="middle" fill="#333" letter-spacing="1.2">(Z)</text>
<text x="443.9" y="452.40000000000003" font-size="7.2" text-anchor="end" fill="#333">+5</text>
<text x="443.6" y="482.20000000000005" font-size="7.2" text-anchor="end" fill="#333">0</text>
<text x="443.9" y="512.2" font-size="7.2" text-anchor="end" fill="#333">-5</text>
<text x="346.5" y="534.2" font-size="7.2" text-anchor="middle" fill="#333">-5</text>
<text x="377.8" y="534.2" font-size="7.2" text-anchor="middle" fill="#333">0</text>
<text x="402.8" y="534.2" font-size="7.2" text-anchor="start" fill="#333">+5 cm</text>
<text x="431.8" y="534.2" font-size="7.2" text-anchor="middle" fill="#333" letter-spacing="1.2">(X)</text>
</svg>
</body></html>
